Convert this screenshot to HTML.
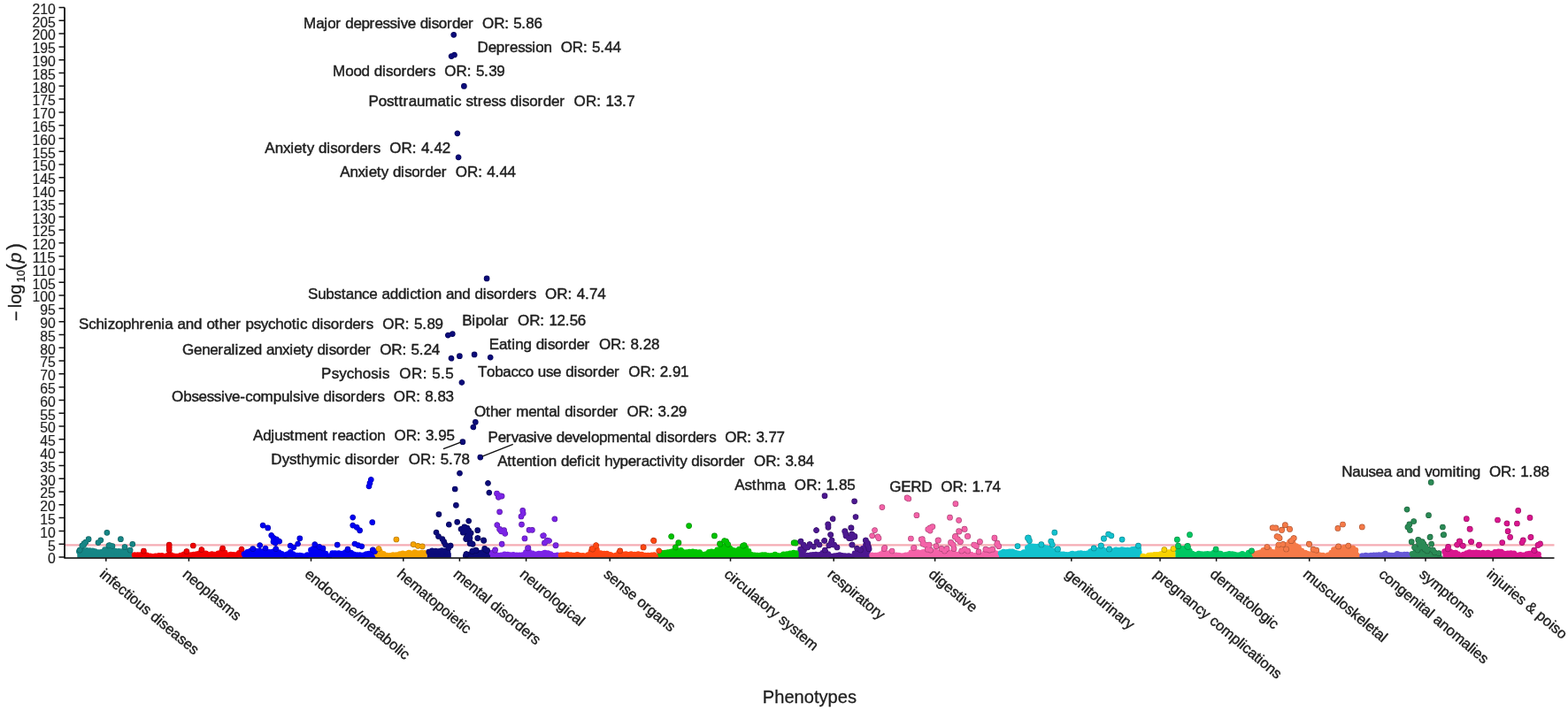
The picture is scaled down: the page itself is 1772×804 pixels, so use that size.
<!DOCTYPE html>
<html><head><meta charset="utf-8"><title>PheWAS Manhattan plot</title>
<style>html,body{margin:0;padding:0;background:#fff;}svg{display:block;}text{font-family:"Liberation Sans",Arial,sans-serif;}</style></head><body>
<svg width="1772" height="804" viewBox="0 0 1772 804">
<rect width="1772" height="804" fill="#fff"/>
<defs><clipPath id="pc"><rect x="73" y="0" width="1690" height="630.6"/></clipPath><clipPath id="rc"><rect x="0" y="0" width="1772" height="804"/></clipPath><clipPath id="ic" clipPathUnits="userSpaceOnUse"><rect x="-10" y="-25" width="122.7" height="40"/></clipPath></defs>
<line x1="73.0" y1="616.3" x2="1756.5" y2="616.3" stroke="#f5acb4" stroke-width="2.2"/>
<g clip-path="url(#pc)">
<polygon fill="#168686" points="87.3,631.0 87.3,624.9 88.3,624.3 89.3,623.7 90.3,623.3 91.3,623.0 92.3,622.8 93.3,622.5 94.3,622.4 95.3,622.5 96.3,622.6 97.3,622.8 98.3,622.9 99.3,622.9 100.3,623.0 101.3,623.1 102.3,623.2 103.3,623.2 104.3,623.3 105.3,623.3 106.3,623.4 107.3,623.7 108.3,623.9 109.3,624.2 110.3,624.5 111.3,625.0 112.3,625.5 113.3,625.5 114.3,624.3 115.3,623.2 116.3,622.2 117.3,621.9 118.3,621.5 119.3,621.1 120.3,620.8 121.3,620.7 122.3,620.6 123.3,620.4 124.3,620.6 125.3,621.2 126.3,621.9 127.3,622.4 128.3,622.7 129.3,623.0 130.3,623.3 131.3,623.6 132.3,623.8 133.3,623.7 134.3,623.7 135.3,623.6 136.3,623.5 137.3,623.4 138.3,623.4 139.3,623.6 140.3,623.7 141.3,623.9 142.3,624.1 143.3,624.2 144.3,624.5 145.3,624.8 146.3,625.1 147.3,625.5 148.3,626.0 149.3,626.4 150.2,626.9 150.2,631.0"/>
<path fill="#168686" d="M86.0,623.5a3.35,3.35 0 1,0 6.7,0a3.35,3.35 0 1,0 -6.7,0M88.8,623.0a3.35,3.35 0 1,0 6.7,0a3.35,3.35 0 1,0 -6.7,0M91.5,622.5a3.35,3.35 0 1,0 6.7,0a3.35,3.35 0 1,0 -6.7,0M94.7,622.3a3.35,3.35 0 1,0 6.7,0a3.35,3.35 0 1,0 -6.7,0M98.1,622.6a3.35,3.35 0 1,0 6.7,0a3.35,3.35 0 1,0 -6.7,0M101.4,622.8a3.35,3.35 0 1,0 6.7,0a3.35,3.35 0 1,0 -6.7,0M104.2,623.6a3.35,3.35 0 1,0 6.7,0a3.35,3.35 0 1,0 -6.7,0M108.1,624.6a3.35,3.35 0 1,0 6.7,0a3.35,3.35 0 1,0 -6.7,0M111.0,624.4a3.35,3.35 0 1,0 6.7,0a3.35,3.35 0 1,0 -6.7,0M115.1,621.5a3.35,3.35 0 1,0 6.7,0a3.35,3.35 0 1,0 -6.7,0M118.4,621.2a3.35,3.35 0 1,0 6.7,0a3.35,3.35 0 1,0 -6.7,0M121.1,621.1a3.35,3.35 0 1,0 6.7,0a3.35,3.35 0 1,0 -6.7,0M124.1,622.1a3.35,3.35 0 1,0 6.7,0a3.35,3.35 0 1,0 -6.7,0M126.9,623.1a3.35,3.35 0 1,0 6.7,0a3.35,3.35 0 1,0 -6.7,0M130.8,623.3a3.35,3.35 0 1,0 6.7,0a3.35,3.35 0 1,0 -6.7,0M134.3,623.5a3.35,3.35 0 1,0 6.7,0a3.35,3.35 0 1,0 -6.7,0M137.5,623.9a3.35,3.35 0 1,0 6.7,0a3.35,3.35 0 1,0 -6.7,0M140.2,623.8a3.35,3.35 0 1,0 6.7,0a3.35,3.35 0 1,0 -6.7,0M143.2,625.4a3.35,3.35 0 1,0 6.7,0a3.35,3.35 0 1,0 -6.7,0"/>
<polygon fill="#f20000" points="150.0,631.0 150.0,627.9 151.0,627.9 152.0,627.9 153.0,627.9 154.0,627.9 155.0,627.9 156.0,627.7 157.0,627.5 158.0,627.3 159.0,627.2 160.0,627.0 161.0,626.8 162.0,626.6 163.0,626.9 164.0,627.2 165.0,627.5 166.0,627.8 167.0,628.1 168.0,628.4 169.0,628.4 170.0,628.5 171.0,628.6 172.0,628.6 173.0,628.7 174.0,628.8 175.0,628.9 176.0,628.9 177.0,628.9 178.0,628.9 179.0,628.9 180.0,628.9 181.0,628.9 182.0,628.9 183.0,628.9 184.0,628.9 185.0,628.9 186.0,628.9 187.0,628.9 188.0,628.9 189.0,628.1 190.0,627.4 191.0,627.4 192.0,627.4 193.0,627.4 194.0,627.9 195.0,628.4 196.0,628.9 197.0,628.8 198.0,628.8 199.0,628.8 200.0,628.7 201.0,628.7 202.0,628.6 203.0,628.4 204.0,628.2 205.0,628.0 206.0,627.8 207.0,627.6 208.0,627.4 209.0,627.2 210.0,627.0 211.0,626.9 212.0,627.0 213.0,627.1 214.0,627.1 215.0,627.2 216.0,627.4 217.0,627.4 218.0,627.4 219.0,627.4 220.0,627.4 221.0,627.4 222.0,627.4 223.0,627.0 224.0,626.6 225.0,626.2 226.0,625.9 227.0,625.5 228.0,625.1 229.0,625.4 230.0,625.7 231.0,626.0 232.0,626.2 233.0,626.5 234.0,626.8 235.0,627.1 236.0,627.4 237.0,627.3 238.0,627.2 239.0,627.2 240.0,627.1 241.0,627.0 242.0,627.0 243.0,626.9 244.0,626.9 245.0,626.4 246.0,625.9 247.0,625.4 248.0,624.9 249.0,624.4 250.0,623.9 251.0,623.4 252.0,623.9 253.0,624.5 254.0,625.1 255.0,625.6 256.0,626.2 257.0,626.8 258.0,627.4 259.0,627.4 260.0,627.5 261.0,627.5 262.0,627.6 263.0,627.7 264.0,627.7 265.0,627.8 266.0,627.9 267.0,627.4 268.0,627.0 269.0,626.6 270.0,626.1 271.0,625.7 272.0,625.3 273.0,624.9 274.0,625.2 274.5,625.4 274.5,631.0"/>
<path fill="#f20000" d="M148.7,627.6a3.35,3.35 0 1,0 6.7,0a3.35,3.35 0 1,0 -6.7,0M152.2,627.7a3.35,3.35 0 1,0 6.7,0a3.35,3.35 0 1,0 -6.7,0M155.3,627.6a3.35,3.35 0 1,0 6.7,0a3.35,3.35 0 1,0 -6.7,0M159.0,626.4a3.35,3.35 0 1,0 6.7,0a3.35,3.35 0 1,0 -6.7,0M162.5,627.8a3.35,3.35 0 1,0 6.7,0a3.35,3.35 0 1,0 -6.7,0M166.5,628.8a3.35,3.35 0 1,0 6.7,0a3.35,3.35 0 1,0 -6.7,0M169.6,629.3a3.35,3.35 0 1,0 6.7,0a3.35,3.35 0 1,0 -6.7,0M172.4,628.8a3.35,3.35 0 1,0 6.7,0a3.35,3.35 0 1,0 -6.7,0M176.2,628.4a3.35,3.35 0 1,0 6.7,0a3.35,3.35 0 1,0 -6.7,0M179.6,628.3a3.35,3.35 0 1,0 6.7,0a3.35,3.35 0 1,0 -6.7,0M183.2,629.2a3.35,3.35 0 1,0 6.7,0a3.35,3.35 0 1,0 -6.7,0M186.7,627.8a3.35,3.35 0 1,0 6.7,0a3.35,3.35 0 1,0 -6.7,0M189.8,627.7a3.35,3.35 0 1,0 6.7,0a3.35,3.35 0 1,0 -6.7,0M193.4,628.9a3.35,3.35 0 1,0 6.7,0a3.35,3.35 0 1,0 -6.7,0M196.7,629.1a3.35,3.35 0 1,0 6.7,0a3.35,3.35 0 1,0 -6.7,0M200.8,628.1a3.35,3.35 0 1,0 6.7,0a3.35,3.35 0 1,0 -6.7,0M204.5,626.9a3.35,3.35 0 1,0 6.7,0a3.35,3.35 0 1,0 -6.7,0M208.2,627.1a3.35,3.35 0 1,0 6.7,0a3.35,3.35 0 1,0 -6.7,0M212.4,627.7a3.35,3.35 0 1,0 6.7,0a3.35,3.35 0 1,0 -6.7,0M215.5,627.2a3.35,3.35 0 1,0 6.7,0a3.35,3.35 0 1,0 -6.7,0M219.1,626.6a3.35,3.35 0 1,0 6.7,0a3.35,3.35 0 1,0 -6.7,0M222.5,625.5a3.35,3.35 0 1,0 6.7,0a3.35,3.35 0 1,0 -6.7,0M225.3,624.8a3.35,3.35 0 1,0 6.7,0a3.35,3.35 0 1,0 -6.7,0M229.1,625.9a3.35,3.35 0 1,0 6.7,0a3.35,3.35 0 1,0 -6.7,0M232.1,627.1a3.35,3.35 0 1,0 6.7,0a3.35,3.35 0 1,0 -6.7,0M236.1,626.6a3.35,3.35 0 1,0 6.7,0a3.35,3.35 0 1,0 -6.7,0M239.4,627.0a3.35,3.35 0 1,0 6.7,0a3.35,3.35 0 1,0 -6.7,0M243.4,625.9a3.35,3.35 0 1,0 6.7,0a3.35,3.35 0 1,0 -6.7,0M247.4,623.2a3.35,3.35 0 1,0 6.7,0a3.35,3.35 0 1,0 -6.7,0M250.7,624.9a3.35,3.35 0 1,0 6.7,0a3.35,3.35 0 1,0 -6.7,0M254.7,627.9a3.35,3.35 0 1,0 6.7,0a3.35,3.35 0 1,0 -6.7,0M257.5,627.1a3.35,3.35 0 1,0 6.7,0a3.35,3.35 0 1,0 -6.7,0M260.5,627.4a3.35,3.35 0 1,0 6.7,0a3.35,3.35 0 1,0 -6.7,0M263.9,627.4a3.35,3.35 0 1,0 6.7,0a3.35,3.35 0 1,0 -6.7,0M266.9,625.4a3.35,3.35 0 1,0 6.7,0a3.35,3.35 0 1,0 -6.7,0"/>
<polygon fill="#0000f2" points="274.0,631.0 274.0,627.9 275.0,627.1 276.0,626.4 277.0,625.6 278.0,624.9 279.0,624.1 280.0,623.4 281.0,623.2 282.0,623.1 283.0,623.0 284.0,622.9 285.0,622.8 286.0,622.6 287.0,622.6 288.0,622.5 289.0,622.5 290.0,622.5 291.0,622.4 292.0,622.4 293.0,622.6 294.0,622.9 295.0,623.1 296.0,623.4 297.0,623.7 298.0,624.1 299.0,624.5 300.0,624.9 301.0,624.9 302.0,624.9 303.0,624.9 304.0,624.9 305.0,624.9 306.0,624.9 307.0,624.6 308.0,624.4 309.0,624.1 310.0,623.9 311.0,623.6 312.0,623.4 313.0,623.9 314.0,624.5 315.0,625.1 316.0,625.7 317.0,626.3 318.0,626.9 319.0,627.0 320.0,627.2 321.0,627.4 322.0,627.5 323.0,627.7 324.0,627.9 325.0,627.0 326.0,626.1 327.0,625.2 328.0,624.4 329.0,624.9 330.0,625.5 331.0,626.1 332.0,626.7 333.0,627.3 334.0,627.9 335.0,628.0 336.0,628.2 337.0,628.4 338.0,628.5 339.0,628.7 340.0,628.9 341.0,628.9 342.0,628.9 343.0,628.9 344.0,628.9 345.0,628.9 346.0,628.9 347.0,628.9 348.0,627.0 349.0,625.2 350.0,623.4 351.0,622.4 352.0,621.4 353.0,620.4 354.0,620.2 355.0,620.1 356.0,620.1 357.0,620.0 358.0,619.9 359.0,620.2 360.0,620.5 361.0,620.9 362.0,621.2 363.0,621.5 364.0,621.9 365.0,623.0 366.0,624.1 367.0,625.2 368.0,626.4 369.0,627.2 370.0,628.1 371.0,628.9 372.0,628.9 373.0,627.9 374.0,626.9 375.0,625.9 376.0,625.6 377.0,625.5 378.0,625.2 379.0,625.1 380.0,624.9 381.0,625.0 382.0,625.2 383.0,625.4 384.0,625.5 385.0,625.7 386.0,625.9 387.0,625.6 388.0,625.4 389.0,625.1 390.0,624.9 391.0,624.9 392.0,624.9 393.0,624.9 394.0,624.9 395.0,624.9 396.0,625.4 397.0,625.9 398.0,626.4 399.0,626.9 400.0,627.4 401.0,627.2 402.0,627.1 403.0,627.1 404.0,627.0 405.0,626.9 406.0,626.9 407.0,627.0 408.0,627.1 409.0,627.1 410.0,627.2 411.0,627.3 412.0,627.4 413.0,627.2 414.0,627.0 415.0,626.9 416.0,626.7 417.0,626.5 418.0,626.4 419.0,626.0 420.0,625.6 421.0,625.2 422.0,624.9 423.0,625.7 424.0,626.5 425.0,627.4 425.0,627.4 425.0,631.0"/>
<path fill="#0000f2" d="M272.7,626.2a3.35,3.35 0 1,0 6.7,0a3.35,3.35 0 1,0 -6.7,0M276.2,624.3a3.35,3.35 0 1,0 6.7,0a3.35,3.35 0 1,0 -6.7,0M279.9,623.0a3.35,3.35 0 1,0 6.7,0a3.35,3.35 0 1,0 -6.7,0M283.5,622.8a3.35,3.35 0 1,0 6.7,0a3.35,3.35 0 1,0 -6.7,0M286.1,623.0a3.35,3.35 0 1,0 6.7,0a3.35,3.35 0 1,0 -6.7,0M290.0,623.1a3.35,3.35 0 1,0 6.7,0a3.35,3.35 0 1,0 -6.7,0M293.9,623.7a3.35,3.35 0 1,0 6.7,0a3.35,3.35 0 1,0 -6.7,0M297.1,624.4a3.35,3.35 0 1,0 6.7,0a3.35,3.35 0 1,0 -6.7,0M300.7,624.3a3.35,3.35 0 1,0 6.7,0a3.35,3.35 0 1,0 -6.7,0M303.4,624.3a3.35,3.35 0 1,0 6.7,0a3.35,3.35 0 1,0 -6.7,0M306.3,623.7a3.35,3.35 0 1,0 6.7,0a3.35,3.35 0 1,0 -6.7,0M309.0,622.9a3.35,3.35 0 1,0 6.7,0a3.35,3.35 0 1,0 -6.7,0M311.8,624.7a3.35,3.35 0 1,0 6.7,0a3.35,3.35 0 1,0 -6.7,0M315.0,626.3a3.35,3.35 0 1,0 6.7,0a3.35,3.35 0 1,0 -6.7,0M319.0,627.7a3.35,3.35 0 1,0 6.7,0a3.35,3.35 0 1,0 -6.7,0M321.8,626.5a3.35,3.35 0 1,0 6.7,0a3.35,3.35 0 1,0 -6.7,0M325.0,624.4a3.35,3.35 0 1,0 6.7,0a3.35,3.35 0 1,0 -6.7,0M327.8,626.6a3.35,3.35 0 1,0 6.7,0a3.35,3.35 0 1,0 -6.7,0M332.0,628.0a3.35,3.35 0 1,0 6.7,0a3.35,3.35 0 1,0 -6.7,0M335.4,628.1a3.35,3.35 0 1,0 6.7,0a3.35,3.35 0 1,0 -6.7,0M338.1,628.7a3.35,3.35 0 1,0 6.7,0a3.35,3.35 0 1,0 -6.7,0M341.1,629.2a3.35,3.35 0 1,0 6.7,0a3.35,3.35 0 1,0 -6.7,0M344.0,627.6a3.35,3.35 0 1,0 6.7,0a3.35,3.35 0 1,0 -6.7,0M348.1,621.9a3.35,3.35 0 1,0 6.7,0a3.35,3.35 0 1,0 -6.7,0M351.0,620.3a3.35,3.35 0 1,0 6.7,0a3.35,3.35 0 1,0 -6.7,0M353.6,620.0a3.35,3.35 0 1,0 6.7,0a3.35,3.35 0 1,0 -6.7,0M357.8,621.3a3.35,3.35 0 1,0 6.7,0a3.35,3.35 0 1,0 -6.7,0M361.5,622.5a3.35,3.35 0 1,0 6.7,0a3.35,3.35 0 1,0 -6.7,0M364.7,626.0a3.35,3.35 0 1,0 6.7,0a3.35,3.35 0 1,0 -6.7,0M368.5,629.0a3.35,3.35 0 1,0 6.7,0a3.35,3.35 0 1,0 -6.7,0M372.3,625.5a3.35,3.35 0 1,0 6.7,0a3.35,3.35 0 1,0 -6.7,0M375.3,625.5a3.35,3.35 0 1,0 6.7,0a3.35,3.35 0 1,0 -6.7,0M379.5,625.7a3.35,3.35 0 1,0 6.7,0a3.35,3.35 0 1,0 -6.7,0M383.4,626.1a3.35,3.35 0 1,0 6.7,0a3.35,3.35 0 1,0 -6.7,0M387.1,624.5a3.35,3.35 0 1,0 6.7,0a3.35,3.35 0 1,0 -6.7,0M390.6,624.7a3.35,3.35 0 1,0 6.7,0a3.35,3.35 0 1,0 -6.7,0M393.2,625.1a3.35,3.35 0 1,0 6.7,0a3.35,3.35 0 1,0 -6.7,0M396.3,626.9a3.35,3.35 0 1,0 6.7,0a3.35,3.35 0 1,0 -6.7,0M400.0,627.6a3.35,3.35 0 1,0 6.7,0a3.35,3.35 0 1,0 -6.7,0M403.3,627.5a3.35,3.35 0 1,0 6.7,0a3.35,3.35 0 1,0 -6.7,0M407.5,627.8a3.35,3.35 0 1,0 6.7,0a3.35,3.35 0 1,0 -6.7,0M410.7,626.7a3.35,3.35 0 1,0 6.7,0a3.35,3.35 0 1,0 -6.7,0M413.6,626.2a3.35,3.35 0 1,0 6.7,0a3.35,3.35 0 1,0 -6.7,0M416.5,625.8a3.35,3.35 0 1,0 6.7,0a3.35,3.35 0 1,0 -6.7,0"/>
<polygon fill="#f5a300" points="424.0,631.0 424.0,628.4 425.0,627.0 426.0,625.7 427.0,624.4 428.0,624.0 429.0,623.7 430.0,623.4 431.0,624.5 432.0,625.7 433.0,626.9 434.0,627.0 435.0,627.2 436.0,627.4 437.0,627.5 438.0,627.7 439.0,627.9 440.0,628.1 441.0,628.1 442.0,628.1 443.0,628.1 444.0,628.1 445.0,628.1 446.0,628.1 447.0,628.1 448.0,627.7 449.0,627.3 450.0,626.9 451.0,626.5 452.0,626.1 453.0,626.1 454.0,626.1 455.0,626.1 456.0,626.1 457.0,626.1 458.0,626.1 459.0,626.1 460.0,626.1 461.0,625.9 462.0,625.7 463.0,625.5 464.0,625.4 465.0,625.3 466.0,625.2 467.0,625.1 468.0,625.0 469.0,624.9 470.0,624.9 471.0,624.9 472.0,625.0 473.0,625.1 474.0,625.2 475.0,625.3 476.0,625.4 477.0,625.5 478.0,625.6 479.0,625.7 480.0,625.9 481.0,626.5 482.0,627.1 482.5,627.4 482.5,631.0"/>
<path fill="#f5a300" d="M422.7,626.1a3.35,3.35 0 1,0 6.7,0a3.35,3.35 0 1,0 -6.7,0M426.0,623.7a3.35,3.35 0 1,0 6.7,0a3.35,3.35 0 1,0 -6.7,0M429.9,626.4a3.35,3.35 0 1,0 6.7,0a3.35,3.35 0 1,0 -6.7,0M433.6,628.0a3.35,3.35 0 1,0 6.7,0a3.35,3.35 0 1,0 -6.7,0M437.4,628.4a3.35,3.35 0 1,0 6.7,0a3.35,3.35 0 1,0 -6.7,0M440.8,627.7a3.35,3.35 0 1,0 6.7,0a3.35,3.35 0 1,0 -6.7,0M444.6,627.5a3.35,3.35 0 1,0 6.7,0a3.35,3.35 0 1,0 -6.7,0M448.5,626.7a3.35,3.35 0 1,0 6.7,0a3.35,3.35 0 1,0 -6.7,0M451.8,625.9a3.35,3.35 0 1,0 6.7,0a3.35,3.35 0 1,0 -6.7,0M455.9,626.3a3.35,3.35 0 1,0 6.7,0a3.35,3.35 0 1,0 -6.7,0M458.7,625.2a3.35,3.35 0 1,0 6.7,0a3.35,3.35 0 1,0 -6.7,0M461.6,625.8a3.35,3.35 0 1,0 6.7,0a3.35,3.35 0 1,0 -6.7,0M465.5,624.5a3.35,3.35 0 1,0 6.7,0a3.35,3.35 0 1,0 -6.7,0M469.4,625.7a3.35,3.35 0 1,0 6.7,0a3.35,3.35 0 1,0 -6.7,0M473.1,625.2a3.35,3.35 0 1,0 6.7,0a3.35,3.35 0 1,0 -6.7,0M476.5,625.4a3.35,3.35 0 1,0 6.7,0a3.35,3.35 0 1,0 -6.7,0"/>
<polygon fill="#0b0b7a" points="482.7,631.0 482.7,624.4 483.7,623.9 484.7,623.4 485.7,623.0 486.7,622.8 487.7,622.8 488.7,622.8 489.7,622.8 490.7,622.9 491.7,623.0 492.7,623.2 493.7,623.3 494.7,623.3 495.7,623.1 496.7,623.0 497.7,622.9 498.7,622.9 499.7,623.1 500.7,623.2 501.7,623.3 502.7,623.5 503.7,623.8 504.7,624.0 505.7,624.3 506.7,624.5 507.7,624.8 508.7,625.1 509.7,625.3 509.8,625.4 509.8,631.0"/>
<path fill="#0b0b7a" d="M481.4,624.0a3.35,3.35 0 1,0 6.7,0a3.35,3.35 0 1,0 -6.7,0M485.0,622.8a3.35,3.35 0 1,0 6.7,0a3.35,3.35 0 1,0 -6.7,0M489.1,623.0a3.35,3.35 0 1,0 6.7,0a3.35,3.35 0 1,0 -6.7,0M493.1,623.4a3.35,3.35 0 1,0 6.7,0a3.35,3.35 0 1,0 -6.7,0M496.0,622.7a3.35,3.35 0 1,0 6.7,0a3.35,3.35 0 1,0 -6.7,0M499.1,623.1a3.35,3.35 0 1,0 6.7,0a3.35,3.35 0 1,0 -6.7,0M502.6,624.1a3.35,3.35 0 1,0 6.7,0a3.35,3.35 0 1,0 -6.7,0"/>
<polygon fill="#0b0b7a" points="524.2,631.0 524.2,630.4 525.2,629.8 526.2,629.3 527.2,628.8 528.2,628.2 529.2,627.8 530.2,627.2 531.2,626.8 532.2,626.3 533.2,626.1 534.2,625.8 535.2,625.6 536.2,625.4 537.2,625.5 538.2,625.6 539.2,625.8 540.2,625.8 541.2,625.6 542.2,625.3 543.2,625.1 544.2,624.8 545.2,624.5 546.2,624.2 547.2,623.9 548.2,623.7 549.2,624.2 550.2,624.6 551.2,625.0 552.2,625.5 553.2,626.0 554.0,626.4 554.0,631.0"/>
<path fill="#0b0b7a" d="M522.9,628.8a3.35,3.35 0 1,0 6.7,0a3.35,3.35 0 1,0 -6.7,0M526.9,627.0a3.35,3.35 0 1,0 6.7,0a3.35,3.35 0 1,0 -6.7,0M530.2,626.1a3.35,3.35 0 1,0 6.7,0a3.35,3.35 0 1,0 -6.7,0M534.3,625.5a3.35,3.35 0 1,0 6.7,0a3.35,3.35 0 1,0 -6.7,0M538.4,625.4a3.35,3.35 0 1,0 6.7,0a3.35,3.35 0 1,0 -6.7,0M541.8,624.5a3.35,3.35 0 1,0 6.7,0a3.35,3.35 0 1,0 -6.7,0M544.4,623.6a3.35,3.35 0 1,0 6.7,0a3.35,3.35 0 1,0 -6.7,0M547.3,624.2a3.35,3.35 0 1,0 6.7,0a3.35,3.35 0 1,0 -6.7,0"/>
<polygon fill="#7b24e6" points="554.0,631.0 554.0,625.9 555.0,625.7 556.0,625.6 557.0,625.5 558.0,625.4 559.0,626.0 560.0,626.6 561.0,627.2 562.0,627.8 563.0,628.4 564.0,629.1 565.0,628.5 566.0,627.9 567.0,627.4 568.0,627.4 569.0,627.4 570.0,627.4 571.0,627.4 572.0,627.4 573.0,627.4 574.0,627.4 575.0,627.3 576.0,627.3 577.0,627.3 578.0,627.3 579.0,627.3 580.0,627.2 581.0,627.3 582.0,627.3 583.0,627.3 584.0,627.3 585.0,627.3 586.0,627.4 587.0,627.6 588.0,627.9 589.0,628.1 590.0,628.4 591.0,627.4 592.0,626.4 593.0,625.4 594.0,624.7 595.0,624.1 596.0,623.5 597.0,623.5 598.0,624.1 599.0,624.7 600.0,625.4 601.0,625.5 602.0,625.7 603.0,625.9 604.0,626.0 605.0,626.2 606.0,626.4 607.0,626.2 608.0,626.1 609.0,626.1 610.0,626.0 611.0,625.9 612.0,625.7 613.0,625.6 614.0,625.5 615.0,625.4 616.0,625.6 617.0,625.8 618.0,626.0 619.0,626.1 620.0,626.4 621.0,626.6 622.0,627.0 623.0,627.2 624.0,627.5 625.0,627.9 626.0,628.1 627.0,628.2 628.0,628.2 629.0,628.2 630.0,628.3 631.0,628.3 632.0,628.3 633.0,628.3 633.5,628.4 633.5,631.0"/>
<path fill="#7b24e6" d="M552.7,625.2a3.35,3.35 0 1,0 6.7,0a3.35,3.35 0 1,0 -6.7,0M556.0,626.4a3.35,3.35 0 1,0 6.7,0a3.35,3.35 0 1,0 -6.7,0M559.5,628.1a3.35,3.35 0 1,0 6.7,0a3.35,3.35 0 1,0 -6.7,0M562.9,627.8a3.35,3.35 0 1,0 6.7,0a3.35,3.35 0 1,0 -6.7,0M566.8,626.9a3.35,3.35 0 1,0 6.7,0a3.35,3.35 0 1,0 -6.7,0M570.3,627.0a3.35,3.35 0 1,0 6.7,0a3.35,3.35 0 1,0 -6.7,0M573.3,627.6a3.35,3.35 0 1,0 6.7,0a3.35,3.35 0 1,0 -6.7,0M576.7,627.3a3.35,3.35 0 1,0 6.7,0a3.35,3.35 0 1,0 -6.7,0M580.6,627.8a3.35,3.35 0 1,0 6.7,0a3.35,3.35 0 1,0 -6.7,0M583.9,627.8a3.35,3.35 0 1,0 6.7,0a3.35,3.35 0 1,0 -6.7,0M587.3,627.7a3.35,3.35 0 1,0 6.7,0a3.35,3.35 0 1,0 -6.7,0M591.0,624.5a3.35,3.35 0 1,0 6.7,0a3.35,3.35 0 1,0 -6.7,0M594.4,623.9a3.35,3.35 0 1,0 6.7,0a3.35,3.35 0 1,0 -6.7,0M598.5,625.9a3.35,3.35 0 1,0 6.7,0a3.35,3.35 0 1,0 -6.7,0M602.5,626.9a3.35,3.35 0 1,0 6.7,0a3.35,3.35 0 1,0 -6.7,0M605.6,626.1a3.35,3.35 0 1,0 6.7,0a3.35,3.35 0 1,0 -6.7,0M609.7,626.0a3.35,3.35 0 1,0 6.7,0a3.35,3.35 0 1,0 -6.7,0M612.5,625.1a3.35,3.35 0 1,0 6.7,0a3.35,3.35 0 1,0 -6.7,0M615.8,625.7a3.35,3.35 0 1,0 6.7,0a3.35,3.35 0 1,0 -6.7,0M618.8,626.5a3.35,3.35 0 1,0 6.7,0a3.35,3.35 0 1,0 -6.7,0M622.5,628.4a3.35,3.35 0 1,0 6.7,0a3.35,3.35 0 1,0 -6.7,0M626.5,627.8a3.35,3.35 0 1,0 6.7,0a3.35,3.35 0 1,0 -6.7,0"/>
<polygon fill="#ff4612" points="632.0,631.0 632.0,627.9 633.0,627.8 634.0,627.7 635.0,627.6 636.0,627.5 637.0,627.4 638.0,627.4 639.0,627.3 640.0,627.2 641.0,627.2 642.0,627.1 643.0,627.3 644.0,627.5 645.0,627.7 646.0,627.9 647.0,627.8 648.0,627.6 649.0,627.6 650.0,627.5 651.0,627.4 652.0,627.6 653.0,627.8 654.0,628.0 655.0,628.2 656.0,628.4 657.0,628.5 658.0,628.6 659.0,628.7 660.0,628.9 661.0,628.6 662.0,628.2 663.0,628.0 664.0,627.6 665.0,627.4 666.0,626.4 667.0,625.4 668.0,624.4 669.0,623.6 670.0,623.0 671.0,622.2 672.0,621.6 673.0,620.9 674.0,621.7 675.0,622.5 676.0,623.4 677.0,624.1 678.0,624.9 679.0,625.6 680.0,626.4 681.0,626.4 682.0,626.5 683.0,626.5 684.0,626.6 685.0,626.7 686.0,626.7 687.0,626.8 688.0,626.9 689.0,627.4 690.0,627.9 691.0,628.4 692.0,628.9 693.0,628.6 694.0,628.4 695.0,628.1 696.0,627.9 697.0,627.2 698.0,626.6 699.0,626.0 700.0,625.4 701.0,625.7 702.0,626.1 703.0,626.5 704.0,626.9 705.0,626.9 706.0,626.9 707.0,627.0 708.0,627.0 709.0,627.0 710.0,627.1 711.0,627.1 712.0,627.1 713.0,627.1 714.0,627.0 715.0,627.0 716.0,627.0 717.0,626.9 718.0,626.9 719.0,627.0 720.0,627.1 721.0,627.1 722.0,627.2 723.0,627.4 724.0,627.5 725.0,627.6 726.0,627.7 727.0,627.8 728.0,627.9 729.0,628.0 730.0,628.1 731.0,628.1 732.0,628.1 733.0,628.1 734.0,628.1 735.0,628.1 736.0,628.1 737.0,627.9 738.0,627.8 739.0,627.6 740.0,627.4 741.0,627.0 742.0,626.6 743.0,626.2 744.0,625.9 744.0,625.9 744.0,631.0"/>
<path fill="#ff4612" d="M630.7,627.9a3.35,3.35 0 1,0 6.7,0a3.35,3.35 0 1,0 -6.7,0M633.5,627.9a3.35,3.35 0 1,0 6.7,0a3.35,3.35 0 1,0 -6.7,0M637.6,626.9a3.35,3.35 0 1,0 6.7,0a3.35,3.35 0 1,0 -6.7,0M641.8,627.6a3.35,3.35 0 1,0 6.7,0a3.35,3.35 0 1,0 -6.7,0M645.1,628.2a3.35,3.35 0 1,0 6.7,0a3.35,3.35 0 1,0 -6.7,0M649.1,627.3a3.35,3.35 0 1,0 6.7,0a3.35,3.35 0 1,0 -6.7,0M652.4,628.4a3.35,3.35 0 1,0 6.7,0a3.35,3.35 0 1,0 -6.7,0M655.5,628.4a3.35,3.35 0 1,0 6.7,0a3.35,3.35 0 1,0 -6.7,0M658.6,628.5a3.35,3.35 0 1,0 6.7,0a3.35,3.35 0 1,0 -6.7,0M661.2,627.5a3.35,3.35 0 1,0 6.7,0a3.35,3.35 0 1,0 -6.7,0M664.6,623.9a3.35,3.35 0 1,0 6.7,0a3.35,3.35 0 1,0 -6.7,0M667.7,622.4a3.35,3.35 0 1,0 6.7,0a3.35,3.35 0 1,0 -6.7,0M671.1,621.5a3.35,3.35 0 1,0 6.7,0a3.35,3.35 0 1,0 -6.7,0M675.3,625.7a3.35,3.35 0 1,0 6.7,0a3.35,3.35 0 1,0 -6.7,0M679.4,626.0a3.35,3.35 0 1,0 6.7,0a3.35,3.35 0 1,0 -6.7,0M682.5,626.2a3.35,3.35 0 1,0 6.7,0a3.35,3.35 0 1,0 -6.7,0M686.3,627.4a3.35,3.35 0 1,0 6.7,0a3.35,3.35 0 1,0 -6.7,0M689.1,628.6a3.35,3.35 0 1,0 6.7,0a3.35,3.35 0 1,0 -6.7,0M693.2,627.9a3.35,3.35 0 1,0 6.7,0a3.35,3.35 0 1,0 -6.7,0M696.2,625.2a3.35,3.35 0 1,0 6.7,0a3.35,3.35 0 1,0 -6.7,0M700.3,626.8a3.35,3.35 0 1,0 6.7,0a3.35,3.35 0 1,0 -6.7,0M704.0,626.5a3.35,3.35 0 1,0 6.7,0a3.35,3.35 0 1,0 -6.7,0M706.7,627.3a3.35,3.35 0 1,0 6.7,0a3.35,3.35 0 1,0 -6.7,0M709.9,626.6a3.35,3.35 0 1,0 6.7,0a3.35,3.35 0 1,0 -6.7,0M714.0,627.0a3.35,3.35 0 1,0 6.7,0a3.35,3.35 0 1,0 -6.7,0M717.9,626.7a3.35,3.35 0 1,0 6.7,0a3.35,3.35 0 1,0 -6.7,0M721.9,627.1a3.35,3.35 0 1,0 6.7,0a3.35,3.35 0 1,0 -6.7,0M725.9,628.0a3.35,3.35 0 1,0 6.7,0a3.35,3.35 0 1,0 -6.7,0M729.0,628.2a3.35,3.35 0 1,0 6.7,0a3.35,3.35 0 1,0 -6.7,0M733.1,627.8a3.35,3.35 0 1,0 6.7,0a3.35,3.35 0 1,0 -6.7,0M735.9,627.5a3.35,3.35 0 1,0 6.7,0a3.35,3.35 0 1,0 -6.7,0"/>
<polygon fill="#00c400" points="744.0,631.0 744.0,626.1 745.0,626.1 746.0,626.0 747.0,626.0 748.0,626.0 749.0,625.9 750.0,625.9 751.0,625.6 752.0,625.2 753.0,625.0 754.0,624.6 755.0,624.4 756.0,624.2 757.0,624.1 758.0,624.1 759.0,624.0 760.0,623.9 761.0,623.5 762.0,623.1 763.0,622.7 764.0,622.4 765.0,622.4 766.0,622.5 767.0,622.6 768.0,622.7 769.0,622.8 770.0,622.9 771.0,623.2 772.0,623.6 773.0,624.0 774.0,624.4 775.0,624.3 776.0,624.2 777.0,624.2 778.0,624.1 779.0,624.0 780.0,624.0 781.0,623.9 782.0,623.9 783.0,623.9 784.0,624.0 785.0,624.0 786.0,624.1 787.0,624.2 788.0,624.2 789.0,624.3 790.0,624.4 791.0,625.0 792.0,625.6 793.0,626.2 794.0,626.9 795.0,626.9 796.0,626.9 797.0,626.9 798.0,626.9 799.0,626.2 800.0,625.6 801.0,625.0 802.0,624.4 803.0,624.4 804.0,624.4 805.0,624.4 806.0,624.4 807.0,624.4 808.0,624.4 809.0,623.6 810.0,622.9 811.0,622.1 812.0,621.4 813.0,620.7 814.0,620.1 815.0,619.5 816.0,618.9 817.0,618.6 818.0,618.4 819.0,618.1 820.0,617.9 821.0,618.4 822.0,618.9 823.0,619.4 824.0,619.9 825.0,620.5 826.0,621.1 827.0,621.7 828.0,622.4 829.0,622.4 830.0,622.4 831.0,622.4 832.0,622.4 833.0,622.4 834.0,622.4 835.0,621.8 836.0,621.1 837.0,620.6 838.0,620.0 839.0,620.0 840.0,620.1 841.0,620.2 842.0,620.3 843.0,620.4 844.0,621.4 845.0,622.4 846.0,623.4 847.0,624.4 848.0,625.7 849.0,627.0 850.0,628.4 851.0,628.4 852.0,628.5 853.0,628.5 854.0,628.6 855.0,628.7 856.0,628.7 857.0,628.8 858.0,628.9 859.0,628.6 860.0,628.4 861.0,628.1 862.0,627.9 863.0,627.6 864.0,627.4 865.0,627.5 866.0,627.7 867.0,627.9 868.0,628.0 869.0,628.2 870.0,628.4 871.0,628.2 872.0,628.0 873.0,627.9 874.0,627.7 875.0,627.5 876.0,627.4 877.0,627.5 878.0,627.7 879.0,627.9 880.0,628.0 881.0,628.2 882.0,628.4 883.0,628.1 884.0,627.9 885.0,627.6 886.0,627.4 887.0,627.0 888.0,626.6 889.0,626.2 890.0,625.9 891.0,625.8 892.0,625.7 893.0,625.6 894.0,625.5 895.0,625.4 896.0,625.4 897.0,625.4 898.0,625.5 899.0,625.6 900.0,625.7 901.0,625.8 902.0,625.9 903.0,626.2 903.5,626.4 903.5,631.0"/>
<path fill="#00c400" d="M742.7,625.6a3.35,3.35 0 1,0 6.7,0a3.35,3.35 0 1,0 -6.7,0M745.5,625.4a3.35,3.35 0 1,0 6.7,0a3.35,3.35 0 1,0 -6.7,0M748.4,625.1a3.35,3.35 0 1,0 6.7,0a3.35,3.35 0 1,0 -6.7,0M751.5,624.7a3.35,3.35 0 1,0 6.7,0a3.35,3.35 0 1,0 -6.7,0M754.6,624.1a3.35,3.35 0 1,0 6.7,0a3.35,3.35 0 1,0 -6.7,0M757.5,623.4a3.35,3.35 0 1,0 6.7,0a3.35,3.35 0 1,0 -6.7,0M760.1,622.3a3.35,3.35 0 1,0 6.7,0a3.35,3.35 0 1,0 -6.7,0M762.7,622.8a3.35,3.35 0 1,0 6.7,0a3.35,3.35 0 1,0 -6.7,0M766.2,622.4a3.35,3.35 0 1,0 6.7,0a3.35,3.35 0 1,0 -6.7,0M769.6,624.5a3.35,3.35 0 1,0 6.7,0a3.35,3.35 0 1,0 -6.7,0M772.3,624.6a3.35,3.35 0 1,0 6.7,0a3.35,3.35 0 1,0 -6.7,0M775.6,624.0a3.35,3.35 0 1,0 6.7,0a3.35,3.35 0 1,0 -6.7,0M779.6,623.8a3.35,3.35 0 1,0 6.7,0a3.35,3.35 0 1,0 -6.7,0M783.0,624.3a3.35,3.35 0 1,0 6.7,0a3.35,3.35 0 1,0 -6.7,0M787.2,624.5a3.35,3.35 0 1,0 6.7,0a3.35,3.35 0 1,0 -6.7,0M791.1,627.1a3.35,3.35 0 1,0 6.7,0a3.35,3.35 0 1,0 -6.7,0M794.7,626.7a3.35,3.35 0 1,0 6.7,0a3.35,3.35 0 1,0 -6.7,0M797.9,624.3a3.35,3.35 0 1,0 6.7,0a3.35,3.35 0 1,0 -6.7,0M800.7,623.8a3.35,3.35 0 1,0 6.7,0a3.35,3.35 0 1,0 -6.7,0M804.5,624.1a3.35,3.35 0 1,0 6.7,0a3.35,3.35 0 1,0 -6.7,0M807.3,621.9a3.35,3.35 0 1,0 6.7,0a3.35,3.35 0 1,0 -6.7,0M811.3,620.2a3.35,3.35 0 1,0 6.7,0a3.35,3.35 0 1,0 -6.7,0M814.9,618.0a3.35,3.35 0 1,0 6.7,0a3.35,3.35 0 1,0 -6.7,0M817.9,618.2a3.35,3.35 0 1,0 6.7,0a3.35,3.35 0 1,0 -6.7,0M821.3,619.8a3.35,3.35 0 1,0 6.7,0a3.35,3.35 0 1,0 -6.7,0M824.6,622.0a3.35,3.35 0 1,0 6.7,0a3.35,3.35 0 1,0 -6.7,0M828.7,622.9a3.35,3.35 0 1,0 6.7,0a3.35,3.35 0 1,0 -6.7,0M832.2,621.1a3.35,3.35 0 1,0 6.7,0a3.35,3.35 0 1,0 -6.7,0M836.3,619.9a3.35,3.35 0 1,0 6.7,0a3.35,3.35 0 1,0 -6.7,0M839.5,619.7a3.35,3.35 0 1,0 6.7,0a3.35,3.35 0 1,0 -6.7,0M842.7,623.4a3.35,3.35 0 1,0 6.7,0a3.35,3.35 0 1,0 -6.7,0M846.1,627.3a3.35,3.35 0 1,0 6.7,0a3.35,3.35 0 1,0 -6.7,0M849.5,627.9a3.35,3.35 0 1,0 6.7,0a3.35,3.35 0 1,0 -6.7,0M852.5,628.2a3.35,3.35 0 1,0 6.7,0a3.35,3.35 0 1,0 -6.7,0M855.8,628.0a3.35,3.35 0 1,0 6.7,0a3.35,3.35 0 1,0 -6.7,0M858.4,627.7a3.35,3.35 0 1,0 6.7,0a3.35,3.35 0 1,0 -6.7,0M861.4,627.6a3.35,3.35 0 1,0 6.7,0a3.35,3.35 0 1,0 -6.7,0M864.8,628.3a3.35,3.35 0 1,0 6.7,0a3.35,3.35 0 1,0 -6.7,0M868.5,628.3a3.35,3.35 0 1,0 6.7,0a3.35,3.35 0 1,0 -6.7,0M872.5,627.2a3.35,3.35 0 1,0 6.7,0a3.35,3.35 0 1,0 -6.7,0M875.6,628.4a3.35,3.35 0 1,0 6.7,0a3.35,3.35 0 1,0 -6.7,0M878.5,628.6a3.35,3.35 0 1,0 6.7,0a3.35,3.35 0 1,0 -6.7,0M882.1,626.9a3.35,3.35 0 1,0 6.7,0a3.35,3.35 0 1,0 -6.7,0M886.0,626.6a3.35,3.35 0 1,0 6.7,0a3.35,3.35 0 1,0 -6.7,0M889.6,625.9a3.35,3.35 0 1,0 6.7,0a3.35,3.35 0 1,0 -6.7,0M893.5,625.0a3.35,3.35 0 1,0 6.7,0a3.35,3.35 0 1,0 -6.7,0M897.0,625.7a3.35,3.35 0 1,0 6.7,0a3.35,3.35 0 1,0 -6.7,0"/>
<polygon fill="#4c1890" points="902.6,631.0 902.6,621.4 903.6,621.1 904.6,620.8 905.6,620.5 906.6,620.8 907.6,621.4 908.6,622.1 909.6,623.5 910.6,625.3 911.6,627.1 912.6,627.9 913.6,627.9 914.6,627.9 915.6,627.9 916.6,627.9 917.6,627.9 918.6,627.9 919.6,627.9 920.6,627.8 921.6,627.7 922.6,627.6 923.6,627.6 924.6,627.5 925.6,627.4 926.6,627.0 927.6,626.3 928.6,625.6 929.6,625.3 930.6,625.1 931.6,625.0 932.6,624.8 933.6,625.1 934.6,625.6 935.6,626.1 936.6,627.4 937.6,629.2 938.6,629.6 939.6,629.2 940.6,628.9 941.6,628.5 942.6,628.3 943.6,628.3 944.6,628.2 945.6,628.2 946.6,628.1 947.6,628.1 948.6,628.0 949.6,628.0 950.6,628.0 951.6,628.0 952.6,628.1 953.6,628.1 954.6,628.2 955.6,628.2 956.6,628.3 957.6,628.3 958.6,628.6 959.6,629.0 960.6,629.3 961.6,629.7 962.6,629.1 963.6,628.0 964.6,626.8 965.6,625.8 966.6,624.8 967.6,623.8 968.6,623.2 969.6,623.0 970.6,622.7 971.6,622.5 972.6,621.9 973.6,621.1 974.6,620.4 975.6,619.6 976.6,618.5 977.6,617.2 978.6,615.9 979.6,616.0 980.6,617.0 981.6,618.0 982.6,620.0 983.6,622.8 983.8,623.4 983.8,631.0"/>
<path fill="#4c1890" d="M901.3,621.1a3.35,3.35 0 1,0 6.7,0a3.35,3.35 0 1,0 -6.7,0M905.2,622.1a3.35,3.35 0 1,0 6.7,0a3.35,3.35 0 1,0 -6.7,0M909.2,628.1a3.35,3.35 0 1,0 6.7,0a3.35,3.35 0 1,0 -6.7,0M912.9,627.5a3.35,3.35 0 1,0 6.7,0a3.35,3.35 0 1,0 -6.7,0M915.6,627.4a3.35,3.35 0 1,0 6.7,0a3.35,3.35 0 1,0 -6.7,0M918.7,627.2a3.35,3.35 0 1,0 6.7,0a3.35,3.35 0 1,0 -6.7,0M922.7,627.4a3.35,3.35 0 1,0 6.7,0a3.35,3.35 0 1,0 -6.7,0M926.3,625.4a3.35,3.35 0 1,0 6.7,0a3.35,3.35 0 1,0 -6.7,0M930.0,624.9a3.35,3.35 0 1,0 6.7,0a3.35,3.35 0 1,0 -6.7,0M932.6,626.7a3.35,3.35 0 1,0 6.7,0a3.35,3.35 0 1,0 -6.7,0M936.4,629.2a3.35,3.35 0 1,0 6.7,0a3.35,3.35 0 1,0 -6.7,0M939.8,628.5a3.35,3.35 0 1,0 6.7,0a3.35,3.35 0 1,0 -6.7,0M942.5,628.4a3.35,3.35 0 1,0 6.7,0a3.35,3.35 0 1,0 -6.7,0M945.5,627.5a3.35,3.35 0 1,0 6.7,0a3.35,3.35 0 1,0 -6.7,0M948.6,628.3a3.35,3.35 0 1,0 6.7,0a3.35,3.35 0 1,0 -6.7,0M951.5,628.5a3.35,3.35 0 1,0 6.7,0a3.35,3.35 0 1,0 -6.7,0M955.7,628.7a3.35,3.35 0 1,0 6.7,0a3.35,3.35 0 1,0 -6.7,0M958.9,629.6a3.35,3.35 0 1,0 6.7,0a3.35,3.35 0 1,0 -6.7,0M962.6,625.8a3.35,3.35 0 1,0 6.7,0a3.35,3.35 0 1,0 -6.7,0M966.2,623.1a3.35,3.35 0 1,0 6.7,0a3.35,3.35 0 1,0 -6.7,0M968.9,621.8a3.35,3.35 0 1,0 6.7,0a3.35,3.35 0 1,0 -6.7,0M971.9,620.2a3.35,3.35 0 1,0 6.7,0a3.35,3.35 0 1,0 -6.7,0M975.0,616.3a3.35,3.35 0 1,0 6.7,0a3.35,3.35 0 1,0 -6.7,0M977.6,616.8a3.35,3.35 0 1,0 6.7,0a3.35,3.35 0 1,0 -6.7,0"/>
<polygon fill="#f462a8" points="983.5,631.0 983.5,627.4 984.5,627.5 985.5,627.7 986.5,627.8 987.5,628.0 988.5,628.0 989.5,628.0 990.5,628.0 991.5,627.9 992.5,627.9 993.5,627.9 994.5,627.4 995.5,626.6 996.5,625.8 997.5,625.0 998.5,624.2 999.5,624.0 1000.5,624.5 1001.5,625.1 1002.5,625.6 1003.5,625.9 1004.5,626.0 1005.5,626.1 1006.5,626.2 1007.5,626.3 1008.5,626.5 1009.5,626.9 1010.5,627.2 1011.5,627.5 1012.5,627.9 1013.5,628.2 1014.5,628.4 1015.5,628.5 1016.5,628.6 1017.5,628.6 1018.5,628.7 1019.5,628.8 1020.5,628.8 1021.5,628.6 1022.5,628.5 1023.5,628.3 1024.5,628.2 1025.5,628.1 1026.5,627.2 1027.5,626.4 1028.5,625.6 1029.5,624.8 1030.5,624.2 1031.5,624.0 1032.5,623.7 1033.5,623.5 1034.5,623.6 1035.5,624.1 1036.5,624.6 1037.5,625.1 1038.5,625.3 1039.5,625.2 1040.5,625.1 1041.5,625.1 1042.5,625.0 1043.5,624.9 1044.5,624.9 1045.5,625.0 1046.5,625.1 1047.5,625.1 1048.5,625.2 1049.5,625.3 1050.5,625.3 1051.5,625.1 1052.5,624.9 1053.5,624.8 1054.5,624.6 1055.5,624.4 1056.5,624.4 1057.5,624.4 1058.5,624.4 1059.5,624.4 1060.5,624.4 1061.5,624.4 1062.5,624.6 1063.5,625.1 1064.5,625.6 1065.5,626.1 1066.5,626.0 1067.5,625.4 1068.5,624.7 1069.5,624.1 1070.5,624.0 1071.5,624.4 1072.5,624.8 1073.5,625.1 1074.5,625.1 1075.5,624.8 1076.5,624.4 1077.5,624.0 1078.5,624.5 1079.5,625.9 1080.5,627.4 1081.5,627.4 1082.5,627.4 1083.5,627.2 1084.5,626.9 1085.5,626.5 1086.5,626.1 1087.5,625.7 1088.5,625.2 1089.5,624.8 1090.5,624.8 1091.5,625.2 1092.5,625.7 1093.5,626.1 1094.5,626.5 1095.5,626.8 1096.5,627.1 1097.5,627.3 1098.5,627.6 1099.5,627.9 1100.5,628.0 1101.5,627.9 1102.5,627.7 1103.5,627.6 1104.5,627.5 1105.5,627.3 1106.5,627.4 1107.5,627.6 1108.5,627.8 1109.5,628.0 1110.5,627.6 1111.5,626.7 1112.5,625.9 1113.5,625.0 1114.5,624.7 1115.5,624.9 1116.5,625.1 1117.5,625.3 1118.5,625.3 1119.5,625.1 1120.5,624.9 1121.5,624.7 1122.5,624.7 1123.5,624.9 1124.5,625.1 1125.5,625.2 1126.5,625.5 1127.5,625.8 1128.5,626.1 1129.5,626.4 1129.5,626.4 1129.5,631.0"/>
<path fill="#f462a8" d="M982.2,627.9a3.35,3.35 0 1,0 6.7,0a3.35,3.35 0 1,0 -6.7,0M985.9,628.2a3.35,3.35 0 1,0 6.7,0a3.35,3.35 0 1,0 -6.7,0M988.9,627.9a3.35,3.35 0 1,0 6.7,0a3.35,3.35 0 1,0 -6.7,0M992.3,626.5a3.35,3.35 0 1,0 6.7,0a3.35,3.35 0 1,0 -6.7,0M995.1,624.7a3.35,3.35 0 1,0 6.7,0a3.35,3.35 0 1,0 -6.7,0M998.0,625.5a3.35,3.35 0 1,0 6.7,0a3.35,3.35 0 1,0 -6.7,0M1002.1,625.5a3.35,3.35 0 1,0 6.7,0a3.35,3.35 0 1,0 -6.7,0M1005.4,627.0a3.35,3.35 0 1,0 6.7,0a3.35,3.35 0 1,0 -6.7,0M1009.6,627.9a3.35,3.35 0 1,0 6.7,0a3.35,3.35 0 1,0 -6.7,0M1012.6,628.2a3.35,3.35 0 1,0 6.7,0a3.35,3.35 0 1,0 -6.7,0M1016.7,628.5a3.35,3.35 0 1,0 6.7,0a3.35,3.35 0 1,0 -6.7,0M1020.2,627.9a3.35,3.35 0 1,0 6.7,0a3.35,3.35 0 1,0 -6.7,0M1023.7,627.3a3.35,3.35 0 1,0 6.7,0a3.35,3.35 0 1,0 -6.7,0M1026.5,624.9a3.35,3.35 0 1,0 6.7,0a3.35,3.35 0 1,0 -6.7,0M1029.9,624.0a3.35,3.35 0 1,0 6.7,0a3.35,3.35 0 1,0 -6.7,0M1033.6,624.5a3.35,3.35 0 1,0 6.7,0a3.35,3.35 0 1,0 -6.7,0M1037.7,625.1a3.35,3.35 0 1,0 6.7,0a3.35,3.35 0 1,0 -6.7,0M1040.3,624.3a3.35,3.35 0 1,0 6.7,0a3.35,3.35 0 1,0 -6.7,0M1043.7,625.0a3.35,3.35 0 1,0 6.7,0a3.35,3.35 0 1,0 -6.7,0M1046.8,624.9a3.35,3.35 0 1,0 6.7,0a3.35,3.35 0 1,0 -6.7,0M1049.9,624.6a3.35,3.35 0 1,0 6.7,0a3.35,3.35 0 1,0 -6.7,0M1053.9,623.8a3.35,3.35 0 1,0 6.7,0a3.35,3.35 0 1,0 -6.7,0M1057.7,624.8a3.35,3.35 0 1,0 6.7,0a3.35,3.35 0 1,0 -6.7,0M1060.5,625.8a3.35,3.35 0 1,0 6.7,0a3.35,3.35 0 1,0 -6.7,0M1064.2,625.8a3.35,3.35 0 1,0 6.7,0a3.35,3.35 0 1,0 -6.7,0M1067.3,623.8a3.35,3.35 0 1,0 6.7,0a3.35,3.35 0 1,0 -6.7,0M1070.5,625.9a3.35,3.35 0 1,0 6.7,0a3.35,3.35 0 1,0 -6.7,0M1074.0,623.8a3.35,3.35 0 1,0 6.7,0a3.35,3.35 0 1,0 -6.7,0M1077.3,627.1a3.35,3.35 0 1,0 6.7,0a3.35,3.35 0 1,0 -6.7,0M1080.0,626.8a3.35,3.35 0 1,0 6.7,0a3.35,3.35 0 1,0 -6.7,0M1083.9,625.5a3.35,3.35 0 1,0 6.7,0a3.35,3.35 0 1,0 -6.7,0M1088.0,624.9a3.35,3.35 0 1,0 6.7,0a3.35,3.35 0 1,0 -6.7,0M1091.1,626.5a3.35,3.35 0 1,0 6.7,0a3.35,3.35 0 1,0 -6.7,0M1094.0,627.1a3.35,3.35 0 1,0 6.7,0a3.35,3.35 0 1,0 -6.7,0M1098.1,628.3a3.35,3.35 0 1,0 6.7,0a3.35,3.35 0 1,0 -6.7,0M1102.0,627.5a3.35,3.35 0 1,0 6.7,0a3.35,3.35 0 1,0 -6.7,0M1106.1,628.5a3.35,3.35 0 1,0 6.7,0a3.35,3.35 0 1,0 -6.7,0M1109.5,625.8a3.35,3.35 0 1,0 6.7,0a3.35,3.35 0 1,0 -6.7,0M1112.2,625.2a3.35,3.35 0 1,0 6.7,0a3.35,3.35 0 1,0 -6.7,0M1115.5,625.6a3.35,3.35 0 1,0 6.7,0a3.35,3.35 0 1,0 -6.7,0M1119.2,624.4a3.35,3.35 0 1,0 6.7,0a3.35,3.35 0 1,0 -6.7,0M1121.8,625.7a3.35,3.35 0 1,0 6.7,0a3.35,3.35 0 1,0 -6.7,0"/>
<polygon fill="#12c2cf" points="1129.0,631.0 1129.0,626.4 1130.0,626.0 1131.0,625.7 1132.0,625.4 1133.0,625.0 1134.0,624.6 1135.0,624.1 1136.0,623.8 1137.0,623.8 1138.0,623.8 1139.0,623.8 1140.0,623.8 1141.0,623.8 1142.0,623.8 1143.0,623.8 1144.0,623.8 1145.0,624.3 1146.0,624.8 1147.0,625.4 1148.0,625.6 1149.0,626.0 1150.0,626.2 1151.0,626.6 1152.0,626.9 1153.0,626.6 1154.0,626.3 1155.0,626.0 1156.0,625.8 1157.0,624.2 1158.0,622.7 1159.0,621.1 1160.0,620.1 1161.0,619.5 1162.0,619.0 1163.0,618.4 1164.0,617.9 1165.0,617.9 1166.0,618.0 1167.0,618.1 1168.0,618.2 1169.0,618.3 1170.0,618.4 1171.0,618.3 1172.0,618.2 1173.0,618.1 1174.0,618.0 1175.0,617.9 1176.0,617.9 1177.0,618.2 1178.0,618.5 1179.0,618.9 1180.0,619.2 1181.0,619.5 1182.0,619.9 1183.0,620.0 1184.0,620.1 1185.0,620.2 1186.0,620.4 1187.0,620.9 1188.0,621.4 1189.0,621.9 1190.0,622.4 1191.0,622.8 1192.0,623.3 1193.0,623.8 1194.0,624.2 1195.0,625.0 1196.0,625.7 1197.0,626.4 1198.0,627.1 1199.0,627.1 1200.0,627.1 1201.0,627.0 1202.0,627.0 1203.0,627.0 1204.0,626.9 1205.0,626.9 1206.0,626.9 1207.0,626.8 1208.0,626.8 1209.0,626.8 1210.0,626.7 1211.0,626.7 1212.0,626.6 1213.0,626.5 1214.0,626.4 1215.0,626.2 1216.0,626.0 1217.0,625.9 1218.0,625.8 1219.0,625.8 1220.0,625.8 1221.0,625.8 1222.0,625.8 1223.0,625.8 1224.0,625.8 1225.0,625.8 1226.0,625.8 1227.0,625.5 1228.0,625.3 1229.0,625.1 1230.0,624.8 1231.0,624.6 1232.0,624.4 1233.0,623.7 1234.0,623.1 1235.0,622.5 1236.0,621.9 1237.0,621.9 1238.0,621.9 1239.0,621.9 1240.0,621.9 1241.0,621.6 1242.0,621.5 1243.0,621.2 1244.0,621.1 1245.0,620.9 1246.0,621.4 1247.0,622.0 1248.0,622.6 1249.0,623.2 1250.0,623.8 1251.0,623.8 1252.0,623.8 1253.0,623.8 1254.0,623.8 1255.0,623.8 1256.0,623.8 1257.0,623.4 1258.0,623.1 1259.0,622.7 1260.0,622.4 1261.0,622.3 1262.0,622.3 1263.0,622.3 1264.0,622.3 1265.0,622.2 1266.0,622.2 1267.0,622.2 1268.0,622.2 1269.0,622.2 1270.0,622.1 1271.0,622.2 1272.0,622.2 1273.0,622.2 1274.0,622.2 1275.0,622.3 1276.0,622.3 1277.0,622.3 1278.0,622.4 1279.0,622.0 1280.0,621.6 1281.0,621.1 1282.0,620.8 1283.0,620.4 1284.0,620.3 1285.0,620.2 1286.0,620.1 1287.0,620.0 1288.0,620.0 1289.0,621.3 1290.0,622.7 1290.5,623.4 1290.5,631.0"/>
<path fill="#12c2cf" d="M1127.7,625.6a3.35,3.35 0 1,0 6.7,0a3.35,3.35 0 1,0 -6.7,0M1130.8,624.2a3.35,3.35 0 1,0 6.7,0a3.35,3.35 0 1,0 -6.7,0M1134.6,624.3a3.35,3.35 0 1,0 6.7,0a3.35,3.35 0 1,0 -6.7,0M1137.6,623.9a3.35,3.35 0 1,0 6.7,0a3.35,3.35 0 1,0 -6.7,0M1140.7,623.8a3.35,3.35 0 1,0 6.7,0a3.35,3.35 0 1,0 -6.7,0M1143.9,625.0a3.35,3.35 0 1,0 6.7,0a3.35,3.35 0 1,0 -6.7,0M1146.8,625.9a3.35,3.35 0 1,0 6.7,0a3.35,3.35 0 1,0 -6.7,0M1150.8,626.2a3.35,3.35 0 1,0 6.7,0a3.35,3.35 0 1,0 -6.7,0M1153.8,624.5a3.35,3.35 0 1,0 6.7,0a3.35,3.35 0 1,0 -6.7,0M1158.0,619.3a3.35,3.35 0 1,0 6.7,0a3.35,3.35 0 1,0 -6.7,0M1160.8,617.5a3.35,3.35 0 1,0 6.7,0a3.35,3.35 0 1,0 -6.7,0M1163.5,617.9a3.35,3.35 0 1,0 6.7,0a3.35,3.35 0 1,0 -6.7,0M1166.3,618.0a3.35,3.35 0 1,0 6.7,0a3.35,3.35 0 1,0 -6.7,0M1169.3,618.2a3.35,3.35 0 1,0 6.7,0a3.35,3.35 0 1,0 -6.7,0M1173.3,618.4a3.35,3.35 0 1,0 6.7,0a3.35,3.35 0 1,0 -6.7,0M1176.6,619.1a3.35,3.35 0 1,0 6.7,0a3.35,3.35 0 1,0 -6.7,0M1180.0,619.9a3.35,3.35 0 1,0 6.7,0a3.35,3.35 0 1,0 -6.7,0M1183.2,620.1a3.35,3.35 0 1,0 6.7,0a3.35,3.35 0 1,0 -6.7,0M1186.2,622.7a3.35,3.35 0 1,0 6.7,0a3.35,3.35 0 1,0 -6.7,0M1189.0,623.5a3.35,3.35 0 1,0 6.7,0a3.35,3.35 0 1,0 -6.7,0M1192.6,626.1a3.35,3.35 0 1,0 6.7,0a3.35,3.35 0 1,0 -6.7,0M1195.6,626.8a3.35,3.35 0 1,0 6.7,0a3.35,3.35 0 1,0 -6.7,0M1198.6,626.9a3.35,3.35 0 1,0 6.7,0a3.35,3.35 0 1,0 -6.7,0M1201.9,627.4a3.35,3.35 0 1,0 6.7,0a3.35,3.35 0 1,0 -6.7,0M1205.8,627.2a3.35,3.35 0 1,0 6.7,0a3.35,3.35 0 1,0 -6.7,0M1208.5,626.1a3.35,3.35 0 1,0 6.7,0a3.35,3.35 0 1,0 -6.7,0M1212.2,626.6a3.35,3.35 0 1,0 6.7,0a3.35,3.35 0 1,0 -6.7,0M1215.6,625.9a3.35,3.35 0 1,0 6.7,0a3.35,3.35 0 1,0 -6.7,0M1218.2,625.6a3.35,3.35 0 1,0 6.7,0a3.35,3.35 0 1,0 -6.7,0M1222.2,626.1a3.35,3.35 0 1,0 6.7,0a3.35,3.35 0 1,0 -6.7,0M1226.2,625.5a3.35,3.35 0 1,0 6.7,0a3.35,3.35 0 1,0 -6.7,0M1229.2,623.5a3.35,3.35 0 1,0 6.7,0a3.35,3.35 0 1,0 -6.7,0M1232.1,622.2a3.35,3.35 0 1,0 6.7,0a3.35,3.35 0 1,0 -6.7,0M1235.7,622.4a3.35,3.35 0 1,0 6.7,0a3.35,3.35 0 1,0 -6.7,0M1239.5,621.5a3.35,3.35 0 1,0 6.7,0a3.35,3.35 0 1,0 -6.7,0M1243.3,621.8a3.35,3.35 0 1,0 6.7,0a3.35,3.35 0 1,0 -6.7,0M1246.8,623.2a3.35,3.35 0 1,0 6.7,0a3.35,3.35 0 1,0 -6.7,0M1250.7,623.4a3.35,3.35 0 1,0 6.7,0a3.35,3.35 0 1,0 -6.7,0M1254.7,623.2a3.35,3.35 0 1,0 6.7,0a3.35,3.35 0 1,0 -6.7,0M1257.8,621.9a3.35,3.35 0 1,0 6.7,0a3.35,3.35 0 1,0 -6.7,0M1260.8,622.4a3.35,3.35 0 1,0 6.7,0a3.35,3.35 0 1,0 -6.7,0M1264.5,621.7a3.35,3.35 0 1,0 6.7,0a3.35,3.35 0 1,0 -6.7,0M1267.2,622.2a3.35,3.35 0 1,0 6.7,0a3.35,3.35 0 1,0 -6.7,0M1270.8,622.1a3.35,3.35 0 1,0 6.7,0a3.35,3.35 0 1,0 -6.7,0M1273.7,622.4a3.35,3.35 0 1,0 6.7,0a3.35,3.35 0 1,0 -6.7,0M1276.4,621.4a3.35,3.35 0 1,0 6.7,0a3.35,3.35 0 1,0 -6.7,0M1279.7,620.9a3.35,3.35 0 1,0 6.7,0a3.35,3.35 0 1,0 -6.7,0M1283.3,620.5a3.35,3.35 0 1,0 6.7,0a3.35,3.35 0 1,0 -6.7,0"/>
<polygon fill="#f8d200" points="1289.6,631.0 1289.6,629.6 1290.6,629.5 1291.6,629.5 1292.6,629.4 1293.6,629.4 1294.6,629.4 1295.6,629.2 1296.6,628.9 1297.6,628.6 1298.6,628.3 1299.6,628.0 1300.6,627.8 1301.6,627.7 1302.6,627.6 1303.6,627.5 1304.6,627.4 1305.6,627.3 1306.6,627.2 1307.6,627.1 1308.6,627.1 1309.6,627.0 1310.6,626.9 1311.6,626.9 1312.6,626.6 1313.6,626.1 1314.6,625.6 1315.6,625.1 1316.6,624.8 1317.6,624.6 1318.6,624.5 1319.6,624.4 1320.6,624.3 1321.6,624.1 1322.6,624.0 1323.6,623.9 1324.6,623.9 1325.6,624.0 1326.6,624.1 1327.6,624.2 1328.6,624.4 1328.6,624.4 1328.6,631.0"/>
<path fill="#f8d200" d="M1288.3,629.2a3.35,3.35 0 1,0 6.7,0a3.35,3.35 0 1,0 -6.7,0M1291.3,629.9a3.35,3.35 0 1,0 6.7,0a3.35,3.35 0 1,0 -6.7,0M1295.0,628.1a3.35,3.35 0 1,0 6.7,0a3.35,3.35 0 1,0 -6.7,0M1297.6,627.8a3.35,3.35 0 1,0 6.7,0a3.35,3.35 0 1,0 -6.7,0M1301.3,627.3a3.35,3.35 0 1,0 6.7,0a3.35,3.35 0 1,0 -6.7,0M1304.3,627.3a3.35,3.35 0 1,0 6.7,0a3.35,3.35 0 1,0 -6.7,0M1308.4,626.5a3.35,3.35 0 1,0 6.7,0a3.35,3.35 0 1,0 -6.7,0M1311.0,625.5a3.35,3.35 0 1,0 6.7,0a3.35,3.35 0 1,0 -6.7,0M1314.3,624.9a3.35,3.35 0 1,0 6.7,0a3.35,3.35 0 1,0 -6.7,0M1317.2,624.6a3.35,3.35 0 1,0 6.7,0a3.35,3.35 0 1,0 -6.7,0M1321.0,623.9a3.35,3.35 0 1,0 6.7,0a3.35,3.35 0 1,0 -6.7,0"/>
<polygon fill="#00c862" points="1328.4,631.0 1328.4,620.4 1329.4,620.4 1330.4,620.5 1331.4,620.6 1332.4,620.7 1333.4,620.8 1334.4,620.8 1335.4,620.7 1336.4,620.6 1337.4,620.6 1338.4,620.5 1339.4,620.4 1340.4,620.6 1341.4,621.1 1342.4,621.6 1343.4,622.1 1344.4,623.1 1345.4,624.8 1346.4,626.0 1347.4,626.3 1348.4,626.7 1349.4,627.0 1350.4,627.2 1351.4,627.1 1352.4,626.9 1353.4,626.8 1354.4,626.6 1355.4,626.6 1356.4,626.7 1357.4,626.9 1358.4,627.0 1359.4,627.2 1360.4,627.2 1361.4,627.1 1362.4,627.1 1363.4,627.0 1364.4,626.9 1365.4,626.8 1366.4,626.6 1367.4,626.4 1368.4,626.2 1369.4,626.0 1370.4,625.6 1371.4,625.0 1372.4,624.4 1373.4,623.8 1374.4,623.7 1375.4,624.5 1376.4,625.2 1377.4,625.9 1378.4,626.4 1379.4,626.6 1380.4,626.7 1381.4,626.9 1382.4,627.0 1383.4,627.2 1384.4,627.2 1385.4,626.9 1386.4,626.7 1387.4,626.5 1388.4,626.4 1389.4,626.6 1390.4,626.7 1391.4,626.9 1392.4,627.0 1393.4,627.2 1394.4,627.2 1395.4,627.2 1396.4,627.2 1397.4,627.2 1398.4,627.2 1399.4,627.2 1400.4,627.2 1401.4,627.0 1402.4,626.8 1403.4,626.7 1404.4,626.6 1405.4,626.8 1406.4,627.0 1407.4,627.1 1408.4,627.1 1409.4,626.6 1410.4,626.1 1411.4,625.6 1412.4,625.3 1413.4,625.1 1414.4,625.0 1415.4,625.8 1416.0,626.4 1416.0,631.0"/>
<path fill="#00c862" d="M1327.1,621.1a3.35,3.35 0 1,0 6.7,0a3.35,3.35 0 1,0 -6.7,0M1330.2,621.2a3.35,3.35 0 1,0 6.7,0a3.35,3.35 0 1,0 -6.7,0M1333.1,620.3a3.35,3.35 0 1,0 6.7,0a3.35,3.35 0 1,0 -6.7,0M1336.9,620.3a3.35,3.35 0 1,0 6.7,0a3.35,3.35 0 1,0 -6.7,0M1341.1,623.1a3.35,3.35 0 1,0 6.7,0a3.35,3.35 0 1,0 -6.7,0M1344.0,626.0a3.35,3.35 0 1,0 6.7,0a3.35,3.35 0 1,0 -6.7,0M1347.2,627.4a3.35,3.35 0 1,0 6.7,0a3.35,3.35 0 1,0 -6.7,0M1351.4,626.2a3.35,3.35 0 1,0 6.7,0a3.35,3.35 0 1,0 -6.7,0M1354.6,626.6a3.35,3.35 0 1,0 6.7,0a3.35,3.35 0 1,0 -6.7,0M1358.7,626.7a3.35,3.35 0 1,0 6.7,0a3.35,3.35 0 1,0 -6.7,0M1361.4,626.3a3.35,3.35 0 1,0 6.7,0a3.35,3.35 0 1,0 -6.7,0M1364.7,626.7a3.35,3.35 0 1,0 6.7,0a3.35,3.35 0 1,0 -6.7,0M1368.7,624.9a3.35,3.35 0 1,0 6.7,0a3.35,3.35 0 1,0 -6.7,0M1372.9,625.6a3.35,3.35 0 1,0 6.7,0a3.35,3.35 0 1,0 -6.7,0M1376.0,626.2a3.35,3.35 0 1,0 6.7,0a3.35,3.35 0 1,0 -6.7,0M1380.1,627.5a3.35,3.35 0 1,0 6.7,0a3.35,3.35 0 1,0 -6.7,0M1382.7,627.0a3.35,3.35 0 1,0 6.7,0a3.35,3.35 0 1,0 -6.7,0M1385.9,626.4a3.35,3.35 0 1,0 6.7,0a3.35,3.35 0 1,0 -6.7,0M1389.1,626.6a3.35,3.35 0 1,0 6.7,0a3.35,3.35 0 1,0 -6.7,0M1391.7,627.0a3.35,3.35 0 1,0 6.7,0a3.35,3.35 0 1,0 -6.7,0M1394.8,627.8a3.35,3.35 0 1,0 6.7,0a3.35,3.35 0 1,0 -6.7,0M1397.6,627.6a3.35,3.35 0 1,0 6.7,0a3.35,3.35 0 1,0 -6.7,0M1400.6,626.4a3.35,3.35 0 1,0 6.7,0a3.35,3.35 0 1,0 -6.7,0M1404.5,627.6a3.35,3.35 0 1,0 6.7,0a3.35,3.35 0 1,0 -6.7,0M1407.8,625.2a3.35,3.35 0 1,0 6.7,0a3.35,3.35 0 1,0 -6.7,0"/>
<polygon fill="#f57a48" points="1415.8,631.0 1415.8,626.9 1416.8,626.7 1417.8,626.5 1418.8,626.4 1419.8,626.2 1420.8,626.0 1421.8,625.9 1422.8,625.4 1423.8,624.8 1424.8,624.2 1425.8,623.6 1426.8,623.1 1427.8,622.5 1428.8,621.9 1429.8,621.3 1430.8,620.7 1431.8,620.2 1432.8,620.7 1433.8,621.5 1434.8,622.4 1435.8,623.2 1436.8,623.6 1437.8,623.8 1438.8,624.1 1439.8,624.3 1440.8,623.6 1441.8,622.6 1442.8,621.6 1443.8,620.6 1444.8,620.0 1445.8,619.5 1446.8,619.0 1447.8,618.5 1448.8,618.6 1449.8,618.8 1450.8,619.1 1451.8,619.3 1452.8,618.4 1453.8,617.1 1454.8,615.9 1455.8,614.6 1456.8,614.1 1457.8,613.7 1458.8,613.3 1459.8,612.9 1460.8,613.5 1461.8,614.4 1462.8,615.3 1463.8,616.2 1464.8,617.0 1465.8,617.9 1466.8,618.8 1467.8,619.7 1468.8,620.5 1469.8,621.4 1470.8,622.3 1471.8,623.2 1472.8,623.9 1473.8,624.6 1474.8,625.2 1475.8,625.9 1476.8,626.2 1477.8,626.4 1478.8,626.6 1479.8,626.8 1480.8,626.4 1481.8,625.8 1482.8,625.2 1483.8,624.7 1484.8,624.6 1485.8,624.7 1486.8,624.8 1487.8,624.8 1488.8,625.4 1489.8,626.2 1490.8,626.9 1491.8,627.7 1492.8,628.0 1493.8,628.1 1494.8,628.3 1495.8,628.5 1496.8,628.6 1497.8,628.8 1498.8,628.7 1499.8,628.5 1500.8,628.3 1501.8,628.1 1502.8,627.9 1503.8,626.8 1504.8,625.4 1505.8,624.0 1506.8,622.6 1507.8,622.0 1508.8,621.5 1509.8,621.0 1510.8,620.5 1511.8,620.0 1512.8,619.8 1513.8,619.7 1514.8,619.6 1515.8,619.5 1516.8,619.5 1517.8,619.4 1518.8,619.4 1519.8,619.5 1520.8,619.6 1521.8,619.7 1522.8,619.8 1523.8,619.8 1524.8,619.9 1525.8,620.0 1526.8,620.1 1527.8,620.2 1528.8,620.2 1529.8,620.3 1530.8,620.9 1531.8,621.7 1532.8,622.4 1533.8,623.2 1534.8,624.3 1535.8,625.4 1536.8,626.5 1537.5,627.4 1537.5,631.0"/>
<path fill="#f57a48" d="M1414.5,626.4a3.35,3.35 0 1,0 6.7,0a3.35,3.35 0 1,0 -6.7,0M1418.5,625.5a3.35,3.35 0 1,0 6.7,0a3.35,3.35 0 1,0 -6.7,0M1421.7,624.5a3.35,3.35 0 1,0 6.7,0a3.35,3.35 0 1,0 -6.7,0M1424.4,622.4a3.35,3.35 0 1,0 6.7,0a3.35,3.35 0 1,0 -6.7,0M1428.3,620.6a3.35,3.35 0 1,0 6.7,0a3.35,3.35 0 1,0 -6.7,0M1430.9,621.4a3.35,3.35 0 1,0 6.7,0a3.35,3.35 0 1,0 -6.7,0M1433.6,624.1a3.35,3.35 0 1,0 6.7,0a3.35,3.35 0 1,0 -6.7,0M1436.6,624.6a3.35,3.35 0 1,0 6.7,0a3.35,3.35 0 1,0 -6.7,0M1440.7,620.1a3.35,3.35 0 1,0 6.7,0a3.35,3.35 0 1,0 -6.7,0M1443.7,619.4a3.35,3.35 0 1,0 6.7,0a3.35,3.35 0 1,0 -6.7,0M1447.3,618.7a3.35,3.35 0 1,0 6.7,0a3.35,3.35 0 1,0 -6.7,0M1451.0,616.1a3.35,3.35 0 1,0 6.7,0a3.35,3.35 0 1,0 -6.7,0M1454.1,613.2a3.35,3.35 0 1,0 6.7,0a3.35,3.35 0 1,0 -6.7,0M1457.9,614.4a3.35,3.35 0 1,0 6.7,0a3.35,3.35 0 1,0 -6.7,0M1461.5,617.6a3.35,3.35 0 1,0 6.7,0a3.35,3.35 0 1,0 -6.7,0M1464.1,619.1a3.35,3.35 0 1,0 6.7,0a3.35,3.35 0 1,0 -6.7,0M1467.5,622.9a3.35,3.35 0 1,0 6.7,0a3.35,3.35 0 1,0 -6.7,0M1471.6,625.2a3.35,3.35 0 1,0 6.7,0a3.35,3.35 0 1,0 -6.7,0M1474.6,626.4a3.35,3.35 0 1,0 6.7,0a3.35,3.35 0 1,0 -6.7,0M1478.0,626.6a3.35,3.35 0 1,0 6.7,0a3.35,3.35 0 1,0 -6.7,0M1480.9,624.9a3.35,3.35 0 1,0 6.7,0a3.35,3.35 0 1,0 -6.7,0M1484.7,625.3a3.35,3.35 0 1,0 6.7,0a3.35,3.35 0 1,0 -6.7,0M1488.5,627.9a3.35,3.35 0 1,0 6.7,0a3.35,3.35 0 1,0 -6.7,0M1491.7,628.1a3.35,3.35 0 1,0 6.7,0a3.35,3.35 0 1,0 -6.7,0M1494.8,629.2a3.35,3.35 0 1,0 6.7,0a3.35,3.35 0 1,0 -6.7,0M1497.6,627.9a3.35,3.35 0 1,0 6.7,0a3.35,3.35 0 1,0 -6.7,0M1501.4,625.2a3.35,3.35 0 1,0 6.7,0a3.35,3.35 0 1,0 -6.7,0M1504.1,621.6a3.35,3.35 0 1,0 6.7,0a3.35,3.35 0 1,0 -6.7,0M1507.6,620.2a3.35,3.35 0 1,0 6.7,0a3.35,3.35 0 1,0 -6.7,0M1511.7,620.1a3.35,3.35 0 1,0 6.7,0a3.35,3.35 0 1,0 -6.7,0M1515.9,619.2a3.35,3.35 0 1,0 6.7,0a3.35,3.35 0 1,0 -6.7,0M1518.6,619.2a3.35,3.35 0 1,0 6.7,0a3.35,3.35 0 1,0 -6.7,0M1522.0,620.2a3.35,3.35 0 1,0 6.7,0a3.35,3.35 0 1,0 -6.7,0M1525.4,619.9a3.35,3.35 0 1,0 6.7,0a3.35,3.35 0 1,0 -6.7,0M1528.6,622.0a3.35,3.35 0 1,0 6.7,0a3.35,3.35 0 1,0 -6.7,0"/>
<polygon fill="#6658d6" points="1537.5,631.0 1537.5,628.9 1538.5,628.6 1539.5,628.4 1540.5,628.2 1541.5,628.0 1542.5,627.9 1543.5,628.0 1544.5,628.2 1545.5,628.3 1546.5,628.3 1547.5,628.1 1548.5,628.0 1549.5,627.9 1550.5,627.8 1551.5,627.6 1552.5,627.6 1553.5,627.8 1554.5,627.9 1555.5,628.1 1556.5,628.1 1557.5,628.0 1558.5,627.9 1559.5,627.8 1560.5,627.7 1561.5,627.6 1562.5,627.4 1563.5,627.0 1564.5,626.7 1565.5,626.3 1566.5,626.4 1567.5,626.8 1568.5,627.2 1569.5,627.6 1570.5,627.8 1571.5,627.7 1572.5,627.6 1573.5,627.6 1574.5,627.5 1575.5,627.4 1576.5,627.2 1577.5,626.9 1578.5,626.6 1579.5,626.3 1580.5,626.3 1581.5,626.6 1582.5,626.9 1583.5,627.1 1584.5,627.4 1585.5,627.7 1586.5,627.8 1587.5,627.7 1588.5,627.5 1589.5,627.4 1590.5,627.5 1591.5,627.9 1592.5,628.2 1593.5,628.5 1594.5,628.9 1594.5,628.9 1594.5,631.0"/>
<path fill="#6658d6" d="M1536.2,628.7a3.35,3.35 0 1,0 6.7,0a3.35,3.35 0 1,0 -6.7,0M1540.1,628.2a3.35,3.35 0 1,0 6.7,0a3.35,3.35 0 1,0 -6.7,0M1542.9,628.7a3.35,3.35 0 1,0 6.7,0a3.35,3.35 0 1,0 -6.7,0M1546.0,628.0a3.35,3.35 0 1,0 6.7,0a3.35,3.35 0 1,0 -6.7,0M1549.2,627.9a3.35,3.35 0 1,0 6.7,0a3.35,3.35 0 1,0 -6.7,0M1552.1,627.8a3.35,3.35 0 1,0 6.7,0a3.35,3.35 0 1,0 -6.7,0M1555.1,627.5a3.35,3.35 0 1,0 6.7,0a3.35,3.35 0 1,0 -6.7,0M1559.1,627.5a3.35,3.35 0 1,0 6.7,0a3.35,3.35 0 1,0 -6.7,0M1562.2,626.2a3.35,3.35 0 1,0 6.7,0a3.35,3.35 0 1,0 -6.7,0M1566.4,627.8a3.35,3.35 0 1,0 6.7,0a3.35,3.35 0 1,0 -6.7,0M1569.4,628.0a3.35,3.35 0 1,0 6.7,0a3.35,3.35 0 1,0 -6.7,0M1573.0,627.8a3.35,3.35 0 1,0 6.7,0a3.35,3.35 0 1,0 -6.7,0M1575.8,626.4a3.35,3.35 0 1,0 6.7,0a3.35,3.35 0 1,0 -6.7,0M1579.7,627.4a3.35,3.35 0 1,0 6.7,0a3.35,3.35 0 1,0 -6.7,0M1583.8,627.2a3.35,3.35 0 1,0 6.7,0a3.35,3.35 0 1,0 -6.7,0M1586.8,627.0a3.35,3.35 0 1,0 6.7,0a3.35,3.35 0 1,0 -6.7,0"/>
<polygon fill="#2a8a55" points="1594.0,631.0 1594.0,627.4 1595.0,626.6 1596.0,625.9 1597.0,625.1 1598.0,624.4 1599.0,624.1 1600.0,623.9 1601.0,623.6 1602.0,623.4 1603.0,623.1 1604.0,622.9 1605.0,623.1 1606.0,623.4 1607.0,623.6 1608.0,623.9 1609.0,624.1 1610.0,624.4 1611.0,624.6 1612.0,624.9 1613.0,625.1 1614.0,625.4 1615.0,625.6 1616.0,625.9 1617.0,626.1 1618.0,626.4 1619.0,626.6 1620.0,626.9 1621.0,627.1 1622.0,627.4 1623.0,627.5 1624.0,627.7 1625.0,627.9 1626.0,628.1 1627.0,628.2 1628.0,628.4 1629.0,628.6 1630.0,628.8 1630.5,628.9 1630.5,631.0"/>
<path fill="#2a8a55" d="M1592.7,626.4a3.35,3.35 0 1,0 6.7,0a3.35,3.35 0 1,0 -6.7,0M1596.2,624.5a3.35,3.35 0 1,0 6.7,0a3.35,3.35 0 1,0 -6.7,0M1599.4,623.6a3.35,3.35 0 1,0 6.7,0a3.35,3.35 0 1,0 -6.7,0M1602.7,623.1a3.35,3.35 0 1,0 6.7,0a3.35,3.35 0 1,0 -6.7,0M1606.6,624.9a3.35,3.35 0 1,0 6.7,0a3.35,3.35 0 1,0 -6.7,0M1609.3,625.1a3.35,3.35 0 1,0 6.7,0a3.35,3.35 0 1,0 -6.7,0M1612.9,625.6a3.35,3.35 0 1,0 6.7,0a3.35,3.35 0 1,0 -6.7,0M1616.1,626.3a3.35,3.35 0 1,0 6.7,0a3.35,3.35 0 1,0 -6.7,0M1619.0,627.1a3.35,3.35 0 1,0 6.7,0a3.35,3.35 0 1,0 -6.7,0M1622.6,628.2a3.35,3.35 0 1,0 6.7,0a3.35,3.35 0 1,0 -6.7,0"/>
<polygon fill="#d9168e" points="1630.5,631.0 1630.5,625.4 1631.5,624.8 1632.5,624.2 1633.5,623.6 1634.5,623.0 1635.5,622.2 1636.5,621.9 1637.5,622.9 1638.5,623.9 1639.5,624.5 1640.5,624.6 1641.5,624.9 1642.5,625.1 1643.5,625.2 1644.5,625.5 1645.5,625.9 1646.5,626.3 1647.5,626.7 1648.5,627.1 1649.5,627.6 1650.5,628.1 1651.5,628.6 1652.5,628.5 1653.5,627.9 1654.5,627.3 1655.5,626.7 1656.5,626.2 1657.5,625.8 1658.5,625.4 1659.5,625.0 1660.5,624.9 1661.5,625.0 1662.5,625.2 1663.5,625.3 1664.5,625.3 1665.5,625.2 1666.5,625.1 1667.5,625.1 1668.5,625.0 1669.5,624.9 1670.5,624.9 1671.5,625.0 1672.5,625.1 1673.5,625.1 1674.5,625.2 1675.5,625.3 1676.5,625.4 1677.5,625.5 1678.5,625.6 1679.5,625.6 1680.5,625.7 1681.5,625.8 1682.5,625.9 1683.5,626.0 1684.5,626.2 1685.5,626.3 1686.5,626.1 1687.5,625.6 1688.5,625.1 1689.5,624.6 1690.5,624.3 1691.5,624.2 1692.5,624.1 1693.5,624.0 1694.5,624.1 1695.5,624.5 1696.5,624.8 1697.5,625.2 1698.5,625.5 1699.5,625.9 1700.5,626.3 1701.5,626.7 1702.5,626.7 1703.5,626.5 1704.5,626.2 1705.5,626.0 1706.5,625.9 1707.5,625.9 1708.5,625.9 1709.5,625.9 1710.5,626.1 1711.5,626.6 1712.5,627.1 1713.5,627.6 1714.5,627.9 1715.5,627.9 1716.5,627.9 1717.5,627.9 1718.5,627.9 1719.5,627.9 1720.5,627.8 1721.5,627.6 1722.5,627.4 1723.5,627.3 1724.5,627.1 1725.5,626.9 1726.5,626.6 1727.5,626.1 1728.5,625.6 1729.5,625.1 1730.5,624.9 1731.5,624.9 1732.5,624.9 1733.5,624.9 1734.5,625.0 1735.5,625.2 1736.5,625.5 1737.5,625.7 1738.5,626.3 1739.5,627.1 1740.5,627.9 1741.5,628.8 1742.5,629.7 1743.3,630.4 1743.3,631.0"/>
<path fill="#d9168e" d="M1629.2,623.6a3.35,3.35 0 1,0 6.7,0a3.35,3.35 0 1,0 -6.7,0M1632.3,622.3a3.35,3.35 0 1,0 6.7,0a3.35,3.35 0 1,0 -6.7,0M1635.2,623.7a3.35,3.35 0 1,0 6.7,0a3.35,3.35 0 1,0 -6.7,0M1638.1,625.2a3.35,3.35 0 1,0 6.7,0a3.35,3.35 0 1,0 -6.7,0M1641.6,625.2a3.35,3.35 0 1,0 6.7,0a3.35,3.35 0 1,0 -6.7,0M1644.3,626.6a3.35,3.35 0 1,0 6.7,0a3.35,3.35 0 1,0 -6.7,0M1647.8,628.6a3.35,3.35 0 1,0 6.7,0a3.35,3.35 0 1,0 -6.7,0M1650.6,627.2a3.35,3.35 0 1,0 6.7,0a3.35,3.35 0 1,0 -6.7,0M1654.3,625.6a3.35,3.35 0 1,0 6.7,0a3.35,3.35 0 1,0 -6.7,0M1657.3,624.7a3.35,3.35 0 1,0 6.7,0a3.35,3.35 0 1,0 -6.7,0M1661.5,625.1a3.35,3.35 0 1,0 6.7,0a3.35,3.35 0 1,0 -6.7,0M1665.0,624.8a3.35,3.35 0 1,0 6.7,0a3.35,3.35 0 1,0 -6.7,0M1668.2,625.4a3.35,3.35 0 1,0 6.7,0a3.35,3.35 0 1,0 -6.7,0M1672.4,625.2a3.35,3.35 0 1,0 6.7,0a3.35,3.35 0 1,0 -6.7,0M1675.3,625.8a3.35,3.35 0 1,0 6.7,0a3.35,3.35 0 1,0 -6.7,0M1678.3,625.2a3.35,3.35 0 1,0 6.7,0a3.35,3.35 0 1,0 -6.7,0M1682.3,626.2a3.35,3.35 0 1,0 6.7,0a3.35,3.35 0 1,0 -6.7,0M1686.2,624.4a3.35,3.35 0 1,0 6.7,0a3.35,3.35 0 1,0 -6.7,0M1690.2,623.9a3.35,3.35 0 1,0 6.7,0a3.35,3.35 0 1,0 -6.7,0M1693.1,624.2a3.35,3.35 0 1,0 6.7,0a3.35,3.35 0 1,0 -6.7,0M1696.6,626.2a3.35,3.35 0 1,0 6.7,0a3.35,3.35 0 1,0 -6.7,0M1700.6,625.9a3.35,3.35 0 1,0 6.7,0a3.35,3.35 0 1,0 -6.7,0M1704.2,625.7a3.35,3.35 0 1,0 6.7,0a3.35,3.35 0 1,0 -6.7,0M1707.6,625.9a3.35,3.35 0 1,0 6.7,0a3.35,3.35 0 1,0 -6.7,0M1710.7,627.9a3.35,3.35 0 1,0 6.7,0a3.35,3.35 0 1,0 -6.7,0M1714.8,627.4a3.35,3.35 0 1,0 6.7,0a3.35,3.35 0 1,0 -6.7,0M1718.2,628.0a3.35,3.35 0 1,0 6.7,0a3.35,3.35 0 1,0 -6.7,0M1722.3,626.5a3.35,3.35 0 1,0 6.7,0a3.35,3.35 0 1,0 -6.7,0M1725.1,626.2a3.35,3.35 0 1,0 6.7,0a3.35,3.35 0 1,0 -6.7,0M1729.3,624.8a3.35,3.35 0 1,0 6.7,0a3.35,3.35 0 1,0 -6.7,0M1732.0,625.7a3.35,3.35 0 1,0 6.7,0a3.35,3.35 0 1,0 -6.7,0M1735.2,626.8a3.35,3.35 0 1,0 6.7,0a3.35,3.35 0 1,0 -6.7,0"/>
<path fill="#0f6060" stroke="#0f6060" stroke-width="1.4" d="M92.35,614.7a2.65,2.65 0 1,0 5.30,0a2.65,2.65 0 1,0 -5.30,0M90.15,617.2a2.65,2.65 0 1,0 5.30,0a2.65,2.65 0 1,0 -5.30,0M120.95,616.5a2.65,2.65 0 1,0 5.30,0a2.65,2.65 0 1,0 -5.30,0M144.45,622.0a2.65,2.65 0 1,0 5.30,0a2.65,2.65 0 1,0 -5.30,0M118.25,602.3a2.65,2.65 0 1,0 5.30,0a2.65,2.65 0 1,0 -5.30,0M97.45,609.7a2.65,2.65 0 1,0 5.30,0a2.65,2.65 0 1,0 -5.30,0M111.25,610.8a2.65,2.65 0 1,0 5.30,0a2.65,2.65 0 1,0 -5.30,0M108.35,613.6a2.65,2.65 0 1,0 5.30,0a2.65,2.65 0 1,0 -5.30,0M133.75,609.7a2.65,2.65 0 1,0 5.30,0a2.65,2.65 0 1,0 -5.30,0M147.15,615.3a2.65,2.65 0 1,0 5.30,0a2.65,2.65 0 1,0 -5.30,0M94.25,613.1a2.65,2.65 0 1,0 5.30,0a2.65,2.65 0 1,0 -5.30,0M92.05,616.4a2.65,2.65 0 1,0 5.30,0a2.65,2.65 0 1,0 -5.30,0M120.25,617.0a2.65,2.65 0 1,0 5.30,0a2.65,2.65 0 1,0 -5.30,0M87.55,622.1a2.65,2.65 0 1,0 5.30,0a2.65,2.65 0 1,0 -5.30,0M124.35,617.5a2.65,2.65 0 1,0 5.30,0a2.65,2.65 0 1,0 -5.30,0M138.35,618.5a2.65,2.65 0 1,0 5.30,0a2.65,2.65 0 1,0 -5.30,0"/>
<path fill="#168686" d="M92.35,614.7a2.65,2.65 0 1,0 5.30,0a2.65,2.65 0 1,0 -5.30,0M90.15,617.2a2.65,2.65 0 1,0 5.30,0a2.65,2.65 0 1,0 -5.30,0M120.95,616.5a2.65,2.65 0 1,0 5.30,0a2.65,2.65 0 1,0 -5.30,0M144.45,622.0a2.65,2.65 0 1,0 5.30,0a2.65,2.65 0 1,0 -5.30,0M118.25,602.3a2.65,2.65 0 1,0 5.30,0a2.65,2.65 0 1,0 -5.30,0M97.45,609.7a2.65,2.65 0 1,0 5.30,0a2.65,2.65 0 1,0 -5.30,0M111.25,610.8a2.65,2.65 0 1,0 5.30,0a2.65,2.65 0 1,0 -5.30,0M108.35,613.6a2.65,2.65 0 1,0 5.30,0a2.65,2.65 0 1,0 -5.30,0M133.75,609.7a2.65,2.65 0 1,0 5.30,0a2.65,2.65 0 1,0 -5.30,0M147.15,615.3a2.65,2.65 0 1,0 5.30,0a2.65,2.65 0 1,0 -5.30,0M94.25,613.1a2.65,2.65 0 1,0 5.30,0a2.65,2.65 0 1,0 -5.30,0M92.05,616.4a2.65,2.65 0 1,0 5.30,0a2.65,2.65 0 1,0 -5.30,0M120.25,617.0a2.65,2.65 0 1,0 5.30,0a2.65,2.65 0 1,0 -5.30,0M87.55,622.1a2.65,2.65 0 1,0 5.30,0a2.65,2.65 0 1,0 -5.30,0M124.35,617.5a2.65,2.65 0 1,0 5.30,0a2.65,2.65 0 1,0 -5.30,0M138.35,618.5a2.65,2.65 0 1,0 5.30,0a2.65,2.65 0 1,0 -5.30,0"/>
<path fill="#ae0000" stroke="#ae0000" stroke-width="1.4" d="M188.55,616.2a2.65,2.65 0 1,0 5.30,0a2.65,2.65 0 1,0 -5.30,0M188.55,619.0a2.65,2.65 0 1,0 5.30,0a2.65,2.65 0 1,0 -5.30,0M188.55,622.0a2.65,2.65 0 1,0 5.30,0a2.65,2.65 0 1,0 -5.30,0M215.65,617.0a2.65,2.65 0 1,0 5.30,0a2.65,2.65 0 1,0 -5.30,0M159.75,623.0a2.65,2.65 0 1,0 5.30,0a2.65,2.65 0 1,0 -5.30,0M225.25,621.5a2.65,2.65 0 1,0 5.30,0a2.65,2.65 0 1,0 -5.30,0M248.95,620.0a2.65,2.65 0 1,0 5.30,0a2.65,2.65 0 1,0 -5.30,0M270.35,621.0a2.65,2.65 0 1,0 5.30,0a2.65,2.65 0 1,0 -5.30,0M208.25,623.5a2.65,2.65 0 1,0 5.30,0a2.65,2.65 0 1,0 -5.30,0"/>
<path fill="#f20000" d="M188.55,616.2a2.65,2.65 0 1,0 5.30,0a2.65,2.65 0 1,0 -5.30,0M188.55,619.0a2.65,2.65 0 1,0 5.30,0a2.65,2.65 0 1,0 -5.30,0M188.55,622.0a2.65,2.65 0 1,0 5.30,0a2.65,2.65 0 1,0 -5.30,0M215.65,617.0a2.65,2.65 0 1,0 5.30,0a2.65,2.65 0 1,0 -5.30,0M159.75,623.0a2.65,2.65 0 1,0 5.30,0a2.65,2.65 0 1,0 -5.30,0M225.25,621.5a2.65,2.65 0 1,0 5.30,0a2.65,2.65 0 1,0 -5.30,0M248.95,620.0a2.65,2.65 0 1,0 5.30,0a2.65,2.65 0 1,0 -5.30,0M270.35,621.0a2.65,2.65 0 1,0 5.30,0a2.65,2.65 0 1,0 -5.30,0M208.25,623.5a2.65,2.65 0 1,0 5.30,0a2.65,2.65 0 1,0 -5.30,0"/>
<path fill="#0000ae" stroke="#0000ae" stroke-width="1.4" d="M416.65,542.4a2.65,2.65 0 1,0 5.30,0a2.65,2.65 0 1,0 -5.30,0M415.35,546.2a2.65,2.65 0 1,0 5.30,0a2.65,2.65 0 1,0 -5.30,0M414.35,549.9a2.65,2.65 0 1,0 5.30,0a2.65,2.65 0 1,0 -5.30,0M294.45,594.1a2.65,2.65 0 1,0 5.30,0a2.65,2.65 0 1,0 -5.30,0M300.05,596.9a2.65,2.65 0 1,0 5.30,0a2.65,2.65 0 1,0 -5.30,0M304.05,605.4a2.65,2.65 0 1,0 5.30,0a2.65,2.65 0 1,0 -5.30,0M306.25,608.2a2.65,2.65 0 1,0 5.30,0a2.65,2.65 0 1,0 -5.30,0M309.65,609.9a2.65,2.65 0 1,0 5.30,0a2.65,2.65 0 1,0 -5.30,0M313.05,612.2a2.65,2.65 0 1,0 5.30,0a2.65,2.65 0 1,0 -5.30,0M306.35,612.5a2.65,2.65 0 1,0 5.30,0a2.65,2.65 0 1,0 -5.30,0M308.35,614.0a2.65,2.65 0 1,0 5.30,0a2.65,2.65 0 1,0 -5.30,0M336.15,608.8a2.65,2.65 0 1,0 5.30,0a2.65,2.65 0 1,0 -5.30,0M333.95,615.0a2.65,2.65 0 1,0 5.30,0a2.65,2.65 0 1,0 -5.30,0M325.45,617.2a2.65,2.65 0 1,0 5.30,0a2.65,2.65 0 1,0 -5.30,0M291.05,616.7a2.65,2.65 0 1,0 5.30,0a2.65,2.65 0 1,0 -5.30,0M283.15,620.6a2.65,2.65 0 1,0 5.30,0a2.65,2.65 0 1,0 -5.30,0M309.15,620.6a2.65,2.65 0 1,0 5.30,0a2.65,2.65 0 1,0 -5.30,0M353.15,615.6a2.65,2.65 0 1,0 5.30,0a2.65,2.65 0 1,0 -5.30,0M358.25,618.4a2.65,2.65 0 1,0 5.30,0a2.65,2.65 0 1,0 -5.30,0M378.55,616.1a2.65,2.65 0 1,0 5.30,0a2.65,2.65 0 1,0 -5.30,0M396.05,585.1a2.65,2.65 0 1,0 5.30,0a2.65,2.65 0 1,0 -5.30,0M418.05,590.7a2.65,2.65 0 1,0 5.30,0a2.65,2.65 0 1,0 -5.30,0M396.05,594.1a2.65,2.65 0 1,0 5.30,0a2.65,2.65 0 1,0 -5.30,0M400.55,596.4a2.65,2.65 0 1,0 5.30,0a2.65,2.65 0 1,0 -5.30,0M403.95,599.8a2.65,2.65 0 1,0 5.30,0a2.65,2.65 0 1,0 -5.30,0M398.25,615.0a2.65,2.65 0 1,0 5.30,0a2.65,2.65 0 1,0 -5.30,0M402.25,616.7a2.65,2.65 0 1,0 5.30,0a2.65,2.65 0 1,0 -5.30,0M406.15,617.8a2.65,2.65 0 1,0 5.30,0a2.65,2.65 0 1,0 -5.30,0M390.35,621.2a2.65,2.65 0 1,0 5.30,0a2.65,2.65 0 1,0 -5.30,0M418.55,621.8a2.65,2.65 0 1,0 5.30,0a2.65,2.65 0 1,0 -5.30,0M420.85,623.5a2.65,2.65 0 1,0 5.30,0a2.65,2.65 0 1,0 -5.30,0M329.35,619.0a2.65,2.65 0 1,0 5.30,0a2.65,2.65 0 1,0 -5.30,0M362.35,620.0a2.65,2.65 0 1,0 5.30,0a2.65,2.65 0 1,0 -5.30,0M297.35,620.0a2.65,2.65 0 1,0 5.30,0a2.65,2.65 0 1,0 -5.30,0"/>
<path fill="#0000f2" d="M416.65,542.4a2.65,2.65 0 1,0 5.30,0a2.65,2.65 0 1,0 -5.30,0M415.35,546.2a2.65,2.65 0 1,0 5.30,0a2.65,2.65 0 1,0 -5.30,0M414.35,549.9a2.65,2.65 0 1,0 5.30,0a2.65,2.65 0 1,0 -5.30,0M294.45,594.1a2.65,2.65 0 1,0 5.30,0a2.65,2.65 0 1,0 -5.30,0M300.05,596.9a2.65,2.65 0 1,0 5.30,0a2.65,2.65 0 1,0 -5.30,0M304.05,605.4a2.65,2.65 0 1,0 5.30,0a2.65,2.65 0 1,0 -5.30,0M306.25,608.2a2.65,2.65 0 1,0 5.30,0a2.65,2.65 0 1,0 -5.30,0M309.65,609.9a2.65,2.65 0 1,0 5.30,0a2.65,2.65 0 1,0 -5.30,0M313.05,612.2a2.65,2.65 0 1,0 5.30,0a2.65,2.65 0 1,0 -5.30,0M306.35,612.5a2.65,2.65 0 1,0 5.30,0a2.65,2.65 0 1,0 -5.30,0M308.35,614.0a2.65,2.65 0 1,0 5.30,0a2.65,2.65 0 1,0 -5.30,0M336.15,608.8a2.65,2.65 0 1,0 5.30,0a2.65,2.65 0 1,0 -5.30,0M333.95,615.0a2.65,2.65 0 1,0 5.30,0a2.65,2.65 0 1,0 -5.30,0M325.45,617.2a2.65,2.65 0 1,0 5.30,0a2.65,2.65 0 1,0 -5.30,0M291.05,616.7a2.65,2.65 0 1,0 5.30,0a2.65,2.65 0 1,0 -5.30,0M283.15,620.6a2.65,2.65 0 1,0 5.30,0a2.65,2.65 0 1,0 -5.30,0M309.15,620.6a2.65,2.65 0 1,0 5.30,0a2.65,2.65 0 1,0 -5.30,0M353.15,615.6a2.65,2.65 0 1,0 5.30,0a2.65,2.65 0 1,0 -5.30,0M358.25,618.4a2.65,2.65 0 1,0 5.30,0a2.65,2.65 0 1,0 -5.30,0M378.55,616.1a2.65,2.65 0 1,0 5.30,0a2.65,2.65 0 1,0 -5.30,0M396.05,585.1a2.65,2.65 0 1,0 5.30,0a2.65,2.65 0 1,0 -5.30,0M418.05,590.7a2.65,2.65 0 1,0 5.30,0a2.65,2.65 0 1,0 -5.30,0M396.05,594.1a2.65,2.65 0 1,0 5.30,0a2.65,2.65 0 1,0 -5.30,0M400.55,596.4a2.65,2.65 0 1,0 5.30,0a2.65,2.65 0 1,0 -5.30,0M403.95,599.8a2.65,2.65 0 1,0 5.30,0a2.65,2.65 0 1,0 -5.30,0M398.25,615.0a2.65,2.65 0 1,0 5.30,0a2.65,2.65 0 1,0 -5.30,0M402.25,616.7a2.65,2.65 0 1,0 5.30,0a2.65,2.65 0 1,0 -5.30,0M406.15,617.8a2.65,2.65 0 1,0 5.30,0a2.65,2.65 0 1,0 -5.30,0M390.35,621.2a2.65,2.65 0 1,0 5.30,0a2.65,2.65 0 1,0 -5.30,0M418.55,621.8a2.65,2.65 0 1,0 5.30,0a2.65,2.65 0 1,0 -5.30,0M420.85,623.5a2.65,2.65 0 1,0 5.30,0a2.65,2.65 0 1,0 -5.30,0M329.35,619.0a2.65,2.65 0 1,0 5.30,0a2.65,2.65 0 1,0 -5.30,0M362.35,620.0a2.65,2.65 0 1,0 5.30,0a2.65,2.65 0 1,0 -5.30,0M297.35,620.0a2.65,2.65 0 1,0 5.30,0a2.65,2.65 0 1,0 -5.30,0"/>
<path fill="#b07500" stroke="#b07500" stroke-width="1.4" d="M425.35,620.5a2.65,2.65 0 1,0 5.30,0a2.65,2.65 0 1,0 -5.30,0M445.25,610.0a2.65,2.65 0 1,0 5.30,0a2.65,2.65 0 1,0 -5.30,0M464.45,615.6a2.65,2.65 0 1,0 5.30,0a2.65,2.65 0 1,0 -5.30,0M469.55,617.3a2.65,2.65 0 1,0 5.30,0a2.65,2.65 0 1,0 -5.30,0M474.55,617.9a2.65,2.65 0 1,0 5.30,0a2.65,2.65 0 1,0 -5.30,0"/>
<path fill="#f5a300" d="M425.35,620.5a2.65,2.65 0 1,0 5.30,0a2.65,2.65 0 1,0 -5.30,0M445.25,610.0a2.65,2.65 0 1,0 5.30,0a2.65,2.65 0 1,0 -5.30,0M464.45,615.6a2.65,2.65 0 1,0 5.30,0a2.65,2.65 0 1,0 -5.30,0M469.55,617.3a2.65,2.65 0 1,0 5.30,0a2.65,2.65 0 1,0 -5.30,0M474.55,617.9a2.65,2.65 0 1,0 5.30,0a2.65,2.65 0 1,0 -5.30,0"/>
<path fill="#070757" stroke="#070757" stroke-width="1.4" d="M506.25,617.1a2.65,2.65 0 1,0 5.30,0a2.65,2.65 0 1,0 -5.30,0M500.85,616.2a2.65,2.65 0 1,0 5.30,0a2.65,2.65 0 1,0 -5.30,0M519.75,598.6a2.65,2.65 0 1,0 5.30,0a2.65,2.65 0 1,0 -5.30,0M524.35,600.4a2.65,2.65 0 1,0 5.30,0a2.65,2.65 0 1,0 -5.30,0M520.65,602.2a2.65,2.65 0 1,0 5.30,0a2.65,2.65 0 1,0 -5.30,0M527.05,603.1a2.65,2.65 0 1,0 5.30,0a2.65,2.65 0 1,0 -5.30,0M524.35,608.5a2.65,2.65 0 1,0 5.30,0a2.65,2.65 0 1,0 -5.30,0M527.95,606.7a2.65,2.65 0 1,0 5.30,0a2.65,2.65 0 1,0 -5.30,0M529.75,614.0a2.65,2.65 0 1,0 5.30,0a2.65,2.65 0 1,0 -5.30,0M531.55,615.3a2.65,2.65 0 1,0 5.30,0a2.65,2.65 0 1,0 -5.30,0M537.35,608.5a2.65,2.65 0 1,0 5.30,0a2.65,2.65 0 1,0 -5.30,0M544.15,611.3a2.65,2.65 0 1,0 5.30,0a2.65,2.65 0 1,0 -5.30,0M524.35,626.6a2.65,2.65 0 1,0 5.30,0a2.65,2.65 0 1,0 -5.30,0M531.55,623.0a2.65,2.65 0 1,0 5.30,0a2.65,2.65 0 1,0 -5.30,0M535.15,622.1a2.65,2.65 0 1,0 5.30,0a2.65,2.65 0 1,0 -5.30,0M545.05,620.3a2.65,2.65 0 1,0 5.30,0a2.65,2.65 0 1,0 -5.30,0M510.05,39.3a2.65,2.65 0 1,0 5.30,0a2.65,2.65 0 1,0 -5.30,0M507.45,63.6a2.65,2.65 0 1,0 5.30,0a2.65,2.65 0 1,0 -5.30,0M510.85,62.0a2.65,2.65 0 1,0 5.30,0a2.65,2.65 0 1,0 -5.30,0M521.75,97.4a2.65,2.65 0 1,0 5.30,0a2.65,2.65 0 1,0 -5.30,0M514.25,150.8a2.65,2.65 0 1,0 5.30,0a2.65,2.65 0 1,0 -5.30,0M515.45,177.9a2.65,2.65 0 1,0 5.30,0a2.65,2.65 0 1,0 -5.30,0M547.45,314.9a2.65,2.65 0 1,0 5.30,0a2.65,2.65 0 1,0 -5.30,0M503.65,379.1a2.65,2.65 0 1,0 5.30,0a2.65,2.65 0 1,0 -5.30,0M508.65,377.6a2.65,2.65 0 1,0 5.30,0a2.65,2.65 0 1,0 -5.30,0M507.35,405.2a2.65,2.65 0 1,0 5.30,0a2.65,2.65 0 1,0 -5.30,0M516.75,402.7a2.65,2.65 0 1,0 5.30,0a2.65,2.65 0 1,0 -5.30,0M533.45,400.9a2.65,2.65 0 1,0 5.30,0a2.65,2.65 0 1,0 -5.30,0M551.55,404.2a2.65,2.65 0 1,0 5.30,0a2.65,2.65 0 1,0 -5.30,0M519.25,432.5a2.65,2.65 0 1,0 5.30,0a2.65,2.65 0 1,0 -5.30,0M534.65,477.3a2.65,2.65 0 1,0 5.30,0a2.65,2.65 0 1,0 -5.30,0M532.15,483.0a2.65,2.65 0 1,0 5.30,0a2.65,2.65 0 1,0 -5.30,0M520.25,499.7a2.65,2.65 0 1,0 5.30,0a2.65,2.65 0 1,0 -5.30,0M540.15,517.1a2.65,2.65 0 1,0 5.30,0a2.65,2.65 0 1,0 -5.30,0M516.85,535.2a2.65,2.65 0 1,0 5.30,0a2.65,2.65 0 1,0 -5.30,0M511.55,553.0a2.65,2.65 0 1,0 5.30,0a2.65,2.65 0 1,0 -5.30,0M512.75,571.3a2.65,2.65 0 1,0 5.30,0a2.65,2.65 0 1,0 -5.30,0M493.25,581.6a2.65,2.65 0 1,0 5.30,0a2.65,2.65 0 1,0 -5.30,0M504.65,593.2a2.65,2.65 0 1,0 5.30,0a2.65,2.65 0 1,0 -5.30,0M514.05,590.3a2.65,2.65 0 1,0 5.30,0a2.65,2.65 0 1,0 -5.30,0M527.05,589.1a2.65,2.65 0 1,0 5.30,0a2.65,2.65 0 1,0 -5.30,0M548.85,546.4a2.65,2.65 0 1,0 5.30,0a2.65,2.65 0 1,0 -5.30,0M550.15,557.1a2.65,2.65 0 1,0 5.30,0a2.65,2.65 0 1,0 -5.30,0M537.05,599.7a2.65,2.65 0 1,0 5.30,0a2.65,2.65 0 1,0 -5.30,0M518.35,598.4a2.65,2.65 0 1,0 5.30,0a2.65,2.65 0 1,0 -5.30,0M522.15,595.9a2.65,2.65 0 1,0 5.30,0a2.65,2.65 0 1,0 -5.30,0M525.25,597.2a2.65,2.65 0 1,0 5.30,0a2.65,2.65 0 1,0 -5.30,0M520.85,602.2a2.65,2.65 0 1,0 5.30,0a2.65,2.65 0 1,0 -5.30,0M527.05,599.7a2.65,2.65 0 1,0 5.30,0a2.65,2.65 0 1,0 -5.30,0M529.55,602.8a2.65,2.65 0 1,0 5.30,0a2.65,2.65 0 1,0 -5.30,0M525.85,605.9a2.65,2.65 0 1,0 5.30,0a2.65,2.65 0 1,0 -5.30,0M523.95,609.6a2.65,2.65 0 1,0 5.30,0a2.65,2.65 0 1,0 -5.30,0M528.35,608.4a2.65,2.65 0 1,0 5.30,0a2.65,2.65 0 1,0 -5.30,0M537.05,608.6a2.65,2.65 0 1,0 5.30,0a2.65,2.65 0 1,0 -5.30,0M543.85,610.9a2.65,2.65 0 1,0 5.30,0a2.65,2.65 0 1,0 -5.30,0M528.35,614.6a2.65,2.65 0 1,0 5.30,0a2.65,2.65 0 1,0 -5.30,0M531.45,615.2a2.65,2.65 0 1,0 5.30,0a2.65,2.65 0 1,0 -5.30,0M490.35,602.2a2.65,2.65 0 1,0 5.30,0a2.65,2.65 0 1,0 -5.30,0M492.85,606.5a2.65,2.65 0 1,0 5.30,0a2.65,2.65 0 1,0 -5.30,0M497.25,609.6a2.65,2.65 0 1,0 5.30,0a2.65,2.65 0 1,0 -5.30,0M499.05,612.7a2.65,2.65 0 1,0 5.30,0a2.65,2.65 0 1,0 -5.30,0M506.55,617.1a2.65,2.65 0 1,0 5.30,0a2.65,2.65 0 1,0 -5.30,0M504.35,619.5a2.65,2.65 0 1,0 5.30,0a2.65,2.65 0 1,0 -5.30,0M524.25,626.5a2.65,2.65 0 1,0 5.30,0a2.65,2.65 0 1,0 -5.30,0M531.05,623.5a2.65,2.65 0 1,0 5.30,0a2.65,2.65 0 1,0 -5.30,0M535.55,622.4a2.65,2.65 0 1,0 5.30,0a2.65,2.65 0 1,0 -5.30,0M545.75,621.3a2.65,2.65 0 1,0 5.30,0a2.65,2.65 0 1,0 -5.30,0M547.95,622.4a2.65,2.65 0 1,0 5.30,0a2.65,2.65 0 1,0 -5.30,0"/>
<path fill="#0b0b7a" d="M506.25,617.1a2.65,2.65 0 1,0 5.30,0a2.65,2.65 0 1,0 -5.30,0M500.85,616.2a2.65,2.65 0 1,0 5.30,0a2.65,2.65 0 1,0 -5.30,0M519.75,598.6a2.65,2.65 0 1,0 5.30,0a2.65,2.65 0 1,0 -5.30,0M524.35,600.4a2.65,2.65 0 1,0 5.30,0a2.65,2.65 0 1,0 -5.30,0M520.65,602.2a2.65,2.65 0 1,0 5.30,0a2.65,2.65 0 1,0 -5.30,0M527.05,603.1a2.65,2.65 0 1,0 5.30,0a2.65,2.65 0 1,0 -5.30,0M524.35,608.5a2.65,2.65 0 1,0 5.30,0a2.65,2.65 0 1,0 -5.30,0M527.95,606.7a2.65,2.65 0 1,0 5.30,0a2.65,2.65 0 1,0 -5.30,0M529.75,614.0a2.65,2.65 0 1,0 5.30,0a2.65,2.65 0 1,0 -5.30,0M531.55,615.3a2.65,2.65 0 1,0 5.30,0a2.65,2.65 0 1,0 -5.30,0M537.35,608.5a2.65,2.65 0 1,0 5.30,0a2.65,2.65 0 1,0 -5.30,0M544.15,611.3a2.65,2.65 0 1,0 5.30,0a2.65,2.65 0 1,0 -5.30,0M524.35,626.6a2.65,2.65 0 1,0 5.30,0a2.65,2.65 0 1,0 -5.30,0M531.55,623.0a2.65,2.65 0 1,0 5.30,0a2.65,2.65 0 1,0 -5.30,0M535.15,622.1a2.65,2.65 0 1,0 5.30,0a2.65,2.65 0 1,0 -5.30,0M545.05,620.3a2.65,2.65 0 1,0 5.30,0a2.65,2.65 0 1,0 -5.30,0M510.05,39.3a2.65,2.65 0 1,0 5.30,0a2.65,2.65 0 1,0 -5.30,0M507.45,63.6a2.65,2.65 0 1,0 5.30,0a2.65,2.65 0 1,0 -5.30,0M510.85,62.0a2.65,2.65 0 1,0 5.30,0a2.65,2.65 0 1,0 -5.30,0M521.75,97.4a2.65,2.65 0 1,0 5.30,0a2.65,2.65 0 1,0 -5.30,0M514.25,150.8a2.65,2.65 0 1,0 5.30,0a2.65,2.65 0 1,0 -5.30,0M515.45,177.9a2.65,2.65 0 1,0 5.30,0a2.65,2.65 0 1,0 -5.30,0M547.45,314.9a2.65,2.65 0 1,0 5.30,0a2.65,2.65 0 1,0 -5.30,0M503.65,379.1a2.65,2.65 0 1,0 5.30,0a2.65,2.65 0 1,0 -5.30,0M508.65,377.6a2.65,2.65 0 1,0 5.30,0a2.65,2.65 0 1,0 -5.30,0M507.35,405.2a2.65,2.65 0 1,0 5.30,0a2.65,2.65 0 1,0 -5.30,0M516.75,402.7a2.65,2.65 0 1,0 5.30,0a2.65,2.65 0 1,0 -5.30,0M533.45,400.9a2.65,2.65 0 1,0 5.30,0a2.65,2.65 0 1,0 -5.30,0M551.55,404.2a2.65,2.65 0 1,0 5.30,0a2.65,2.65 0 1,0 -5.30,0M519.25,432.5a2.65,2.65 0 1,0 5.30,0a2.65,2.65 0 1,0 -5.30,0M534.65,477.3a2.65,2.65 0 1,0 5.30,0a2.65,2.65 0 1,0 -5.30,0M532.15,483.0a2.65,2.65 0 1,0 5.30,0a2.65,2.65 0 1,0 -5.30,0M520.25,499.7a2.65,2.65 0 1,0 5.30,0a2.65,2.65 0 1,0 -5.30,0M540.15,517.1a2.65,2.65 0 1,0 5.30,0a2.65,2.65 0 1,0 -5.30,0M516.85,535.2a2.65,2.65 0 1,0 5.30,0a2.65,2.65 0 1,0 -5.30,0M511.55,553.0a2.65,2.65 0 1,0 5.30,0a2.65,2.65 0 1,0 -5.30,0M512.75,571.3a2.65,2.65 0 1,0 5.30,0a2.65,2.65 0 1,0 -5.30,0M493.25,581.6a2.65,2.65 0 1,0 5.30,0a2.65,2.65 0 1,0 -5.30,0M504.65,593.2a2.65,2.65 0 1,0 5.30,0a2.65,2.65 0 1,0 -5.30,0M514.05,590.3a2.65,2.65 0 1,0 5.30,0a2.65,2.65 0 1,0 -5.30,0M527.05,589.1a2.65,2.65 0 1,0 5.30,0a2.65,2.65 0 1,0 -5.30,0M548.85,546.4a2.65,2.65 0 1,0 5.30,0a2.65,2.65 0 1,0 -5.30,0M550.15,557.1a2.65,2.65 0 1,0 5.30,0a2.65,2.65 0 1,0 -5.30,0M537.05,599.7a2.65,2.65 0 1,0 5.30,0a2.65,2.65 0 1,0 -5.30,0M518.35,598.4a2.65,2.65 0 1,0 5.30,0a2.65,2.65 0 1,0 -5.30,0M522.15,595.9a2.65,2.65 0 1,0 5.30,0a2.65,2.65 0 1,0 -5.30,0M525.25,597.2a2.65,2.65 0 1,0 5.30,0a2.65,2.65 0 1,0 -5.30,0M520.85,602.2a2.65,2.65 0 1,0 5.30,0a2.65,2.65 0 1,0 -5.30,0M527.05,599.7a2.65,2.65 0 1,0 5.30,0a2.65,2.65 0 1,0 -5.30,0M529.55,602.8a2.65,2.65 0 1,0 5.30,0a2.65,2.65 0 1,0 -5.30,0M525.85,605.9a2.65,2.65 0 1,0 5.30,0a2.65,2.65 0 1,0 -5.30,0M523.95,609.6a2.65,2.65 0 1,0 5.30,0a2.65,2.65 0 1,0 -5.30,0M528.35,608.4a2.65,2.65 0 1,0 5.30,0a2.65,2.65 0 1,0 -5.30,0M537.05,608.6a2.65,2.65 0 1,0 5.30,0a2.65,2.65 0 1,0 -5.30,0M543.85,610.9a2.65,2.65 0 1,0 5.30,0a2.65,2.65 0 1,0 -5.30,0M528.35,614.6a2.65,2.65 0 1,0 5.30,0a2.65,2.65 0 1,0 -5.30,0M531.45,615.2a2.65,2.65 0 1,0 5.30,0a2.65,2.65 0 1,0 -5.30,0M490.35,602.2a2.65,2.65 0 1,0 5.30,0a2.65,2.65 0 1,0 -5.30,0M492.85,606.5a2.65,2.65 0 1,0 5.30,0a2.65,2.65 0 1,0 -5.30,0M497.25,609.6a2.65,2.65 0 1,0 5.30,0a2.65,2.65 0 1,0 -5.30,0M499.05,612.7a2.65,2.65 0 1,0 5.30,0a2.65,2.65 0 1,0 -5.30,0M506.55,617.1a2.65,2.65 0 1,0 5.30,0a2.65,2.65 0 1,0 -5.30,0M504.35,619.5a2.65,2.65 0 1,0 5.30,0a2.65,2.65 0 1,0 -5.30,0M524.25,626.5a2.65,2.65 0 1,0 5.30,0a2.65,2.65 0 1,0 -5.30,0M531.05,623.5a2.65,2.65 0 1,0 5.30,0a2.65,2.65 0 1,0 -5.30,0M535.55,622.4a2.65,2.65 0 1,0 5.30,0a2.65,2.65 0 1,0 -5.30,0M545.75,621.3a2.65,2.65 0 1,0 5.30,0a2.65,2.65 0 1,0 -5.30,0M547.95,622.4a2.65,2.65 0 1,0 5.30,0a2.65,2.65 0 1,0 -5.30,0"/>
<path fill="#5819a5" stroke="#5819a5" stroke-width="1.4" d="M556.85,622.1a2.65,2.65 0 1,0 5.30,0a2.65,2.65 0 1,0 -5.30,0M593.85,619.8a2.65,2.65 0 1,0 5.30,0a2.65,2.65 0 1,0 -5.30,0M590.25,609.0a2.65,2.65 0 1,0 5.30,0a2.65,2.65 0 1,0 -5.30,0M610.95,605.8a2.65,2.65 0 1,0 5.30,0a2.65,2.65 0 1,0 -5.30,0M615.45,611.3a2.65,2.65 0 1,0 5.30,0a2.65,2.65 0 1,0 -5.30,0M612.75,614.0a2.65,2.65 0 1,0 5.30,0a2.65,2.65 0 1,0 -5.30,0M625.45,616.7a2.65,2.65 0 1,0 5.30,0a2.65,2.65 0 1,0 -5.30,0M564.45,615.3a2.65,2.65 0 1,0 5.30,0a2.65,2.65 0 1,0 -5.30,0M558.85,558.0a2.65,2.65 0 1,0 5.30,0a2.65,2.65 0 1,0 -5.30,0M561.95,560.5a2.65,2.65 0 1,0 5.30,0a2.65,2.65 0 1,0 -5.30,0M564.45,561.1a2.65,2.65 0 1,0 5.30,0a2.65,2.65 0 1,0 -5.30,0M560.65,562.3a2.65,2.65 0 1,0 5.30,0a2.65,2.65 0 1,0 -5.30,0M561.95,578.8a2.65,2.65 0 1,0 5.30,0a2.65,2.65 0 1,0 -5.30,0M559.15,593.7a2.65,2.65 0 1,0 5.30,0a2.65,2.65 0 1,0 -5.30,0M561.95,598.4a2.65,2.65 0 1,0 5.30,0a2.65,2.65 0 1,0 -5.30,0M566.95,599.7a2.65,2.65 0 1,0 5.30,0a2.65,2.65 0 1,0 -5.30,0M568.15,603.4a2.65,2.65 0 1,0 5.30,0a2.65,2.65 0 1,0 -5.30,0M563.75,600.9a2.65,2.65 0 1,0 5.30,0a2.65,2.65 0 1,0 -5.30,0M564.45,615.2a2.65,2.65 0 1,0 5.30,0a2.65,2.65 0 1,0 -5.30,0M588.05,577.3a2.65,2.65 0 1,0 5.30,0a2.65,2.65 0 1,0 -5.30,0M588.55,580.6a2.65,2.65 0 1,0 5.30,0a2.65,2.65 0 1,0 -5.30,0M586.35,584.0a2.65,2.65 0 1,0 5.30,0a2.65,2.65 0 1,0 -5.30,0M624.15,586.9a2.65,2.65 0 1,0 5.30,0a2.65,2.65 0 1,0 -5.30,0M586.85,593.1a2.65,2.65 0 1,0 5.30,0a2.65,2.65 0 1,0 -5.30,0M595.35,599.3a2.65,2.65 0 1,0 5.30,0a2.65,2.65 0 1,0 -5.30,0M598.75,599.3a2.65,2.65 0 1,0 5.30,0a2.65,2.65 0 1,0 -5.30,0M590.35,608.9a2.65,2.65 0 1,0 5.30,0a2.65,2.65 0 1,0 -5.30,0M611.75,605.5a2.65,2.65 0 1,0 5.30,0a2.65,2.65 0 1,0 -5.30,0M615.65,611.1a2.65,2.65 0 1,0 5.30,0a2.65,2.65 0 1,0 -5.30,0M612.85,613.9a2.65,2.65 0 1,0 5.30,0a2.65,2.65 0 1,0 -5.30,0M625.25,616.8a2.65,2.65 0 1,0 5.30,0a2.65,2.65 0 1,0 -5.30,0M594.25,619.6a2.65,2.65 0 1,0 5.30,0a2.65,2.65 0 1,0 -5.30,0M556.95,621.8a2.65,2.65 0 1,0 5.30,0a2.65,2.65 0 1,0 -5.30,0M617.95,611.5a2.65,2.65 0 1,0 5.30,0a2.65,2.65 0 1,0 -5.30,0"/>
<path fill="#7b24e6" d="M556.85,622.1a2.65,2.65 0 1,0 5.30,0a2.65,2.65 0 1,0 -5.30,0M593.85,619.8a2.65,2.65 0 1,0 5.30,0a2.65,2.65 0 1,0 -5.30,0M590.25,609.0a2.65,2.65 0 1,0 5.30,0a2.65,2.65 0 1,0 -5.30,0M610.95,605.8a2.65,2.65 0 1,0 5.30,0a2.65,2.65 0 1,0 -5.30,0M615.45,611.3a2.65,2.65 0 1,0 5.30,0a2.65,2.65 0 1,0 -5.30,0M612.75,614.0a2.65,2.65 0 1,0 5.30,0a2.65,2.65 0 1,0 -5.30,0M625.45,616.7a2.65,2.65 0 1,0 5.30,0a2.65,2.65 0 1,0 -5.30,0M564.45,615.3a2.65,2.65 0 1,0 5.30,0a2.65,2.65 0 1,0 -5.30,0M558.85,558.0a2.65,2.65 0 1,0 5.30,0a2.65,2.65 0 1,0 -5.30,0M561.95,560.5a2.65,2.65 0 1,0 5.30,0a2.65,2.65 0 1,0 -5.30,0M564.45,561.1a2.65,2.65 0 1,0 5.30,0a2.65,2.65 0 1,0 -5.30,0M560.65,562.3a2.65,2.65 0 1,0 5.30,0a2.65,2.65 0 1,0 -5.30,0M561.95,578.8a2.65,2.65 0 1,0 5.30,0a2.65,2.65 0 1,0 -5.30,0M559.15,593.7a2.65,2.65 0 1,0 5.30,0a2.65,2.65 0 1,0 -5.30,0M561.95,598.4a2.65,2.65 0 1,0 5.30,0a2.65,2.65 0 1,0 -5.30,0M566.95,599.7a2.65,2.65 0 1,0 5.30,0a2.65,2.65 0 1,0 -5.30,0M568.15,603.4a2.65,2.65 0 1,0 5.30,0a2.65,2.65 0 1,0 -5.30,0M563.75,600.9a2.65,2.65 0 1,0 5.30,0a2.65,2.65 0 1,0 -5.30,0M564.45,615.2a2.65,2.65 0 1,0 5.30,0a2.65,2.65 0 1,0 -5.30,0M588.05,577.3a2.65,2.65 0 1,0 5.30,0a2.65,2.65 0 1,0 -5.30,0M588.55,580.6a2.65,2.65 0 1,0 5.30,0a2.65,2.65 0 1,0 -5.30,0M586.35,584.0a2.65,2.65 0 1,0 5.30,0a2.65,2.65 0 1,0 -5.30,0M624.15,586.9a2.65,2.65 0 1,0 5.30,0a2.65,2.65 0 1,0 -5.30,0M586.85,593.1a2.65,2.65 0 1,0 5.30,0a2.65,2.65 0 1,0 -5.30,0M595.35,599.3a2.65,2.65 0 1,0 5.30,0a2.65,2.65 0 1,0 -5.30,0M598.75,599.3a2.65,2.65 0 1,0 5.30,0a2.65,2.65 0 1,0 -5.30,0M590.35,608.9a2.65,2.65 0 1,0 5.30,0a2.65,2.65 0 1,0 -5.30,0M611.75,605.5a2.65,2.65 0 1,0 5.30,0a2.65,2.65 0 1,0 -5.30,0M615.65,611.1a2.65,2.65 0 1,0 5.30,0a2.65,2.65 0 1,0 -5.30,0M612.85,613.9a2.65,2.65 0 1,0 5.30,0a2.65,2.65 0 1,0 -5.30,0M625.25,616.8a2.65,2.65 0 1,0 5.30,0a2.65,2.65 0 1,0 -5.30,0M594.25,619.6a2.65,2.65 0 1,0 5.30,0a2.65,2.65 0 1,0 -5.30,0M556.95,621.8a2.65,2.65 0 1,0 5.30,0a2.65,2.65 0 1,0 -5.30,0M617.95,611.5a2.65,2.65 0 1,0 5.30,0a2.65,2.65 0 1,0 -5.30,0"/>
<path fill="#b7320c" stroke="#b7320c" stroke-width="1.4" d="M670.95,616.5a2.65,2.65 0 1,0 5.30,0a2.65,2.65 0 1,0 -5.30,0M666.35,620.5a2.65,2.65 0 1,0 5.30,0a2.65,2.65 0 1,0 -5.30,0M724.55,618.9a2.65,2.65 0 1,0 5.30,0a2.65,2.65 0 1,0 -5.30,0M736.25,611.4a2.65,2.65 0 1,0 5.30,0a2.65,2.65 0 1,0 -5.30,0M670.95,617.2a2.65,2.65 0 1,0 5.30,0a2.65,2.65 0 1,0 -5.30,0M667.05,621.1a2.65,2.65 0 1,0 5.30,0a2.65,2.65 0 1,0 -5.30,0M735.85,611.2a2.65,2.65 0 1,0 5.30,0a2.65,2.65 0 1,0 -5.30,0M724.35,618.9a2.65,2.65 0 1,0 5.30,0a2.65,2.65 0 1,0 -5.30,0M698.05,622.8a2.65,2.65 0 1,0 5.30,0a2.65,2.65 0 1,0 -5.30,0M742.05,622.8a2.65,2.65 0 1,0 5.30,0a2.65,2.65 0 1,0 -5.30,0"/>
<path fill="#ff4612" d="M670.95,616.5a2.65,2.65 0 1,0 5.30,0a2.65,2.65 0 1,0 -5.30,0M666.35,620.5a2.65,2.65 0 1,0 5.30,0a2.65,2.65 0 1,0 -5.30,0M724.55,618.9a2.65,2.65 0 1,0 5.30,0a2.65,2.65 0 1,0 -5.30,0M736.25,611.4a2.65,2.65 0 1,0 5.30,0a2.65,2.65 0 1,0 -5.30,0M670.95,617.2a2.65,2.65 0 1,0 5.30,0a2.65,2.65 0 1,0 -5.30,0M667.05,621.1a2.65,2.65 0 1,0 5.30,0a2.65,2.65 0 1,0 -5.30,0M735.85,611.2a2.65,2.65 0 1,0 5.30,0a2.65,2.65 0 1,0 -5.30,0M724.35,618.9a2.65,2.65 0 1,0 5.30,0a2.65,2.65 0 1,0 -5.30,0M698.05,622.8a2.65,2.65 0 1,0 5.30,0a2.65,2.65 0 1,0 -5.30,0M742.05,622.8a2.65,2.65 0 1,0 5.30,0a2.65,2.65 0 1,0 -5.30,0"/>
<path fill="#008d00" stroke="#008d00" stroke-width="1.4" d="M764.25,613.7a2.65,2.65 0 1,0 5.30,0a2.65,2.65 0 1,0 -5.30,0M811.25,615.2a2.65,2.65 0 1,0 5.30,0a2.65,2.65 0 1,0 -5.30,0M817.95,612.3a2.65,2.65 0 1,0 5.30,0a2.65,2.65 0 1,0 -5.30,0M894.75,613.7a2.65,2.65 0 1,0 5.30,0a2.65,2.65 0 1,0 -5.30,0M896.65,614.2a2.65,2.65 0 1,0 5.30,0a2.65,2.65 0 1,0 -5.30,0M838.35,616.5a2.65,2.65 0 1,0 5.30,0a2.65,2.65 0 1,0 -5.30,0M775.95,594.6a2.65,2.65 0 1,0 5.30,0a2.65,2.65 0 1,0 -5.30,0M755.95,606.7a2.65,2.65 0 1,0 5.30,0a2.65,2.65 0 1,0 -5.30,0M804.75,605.9a2.65,2.65 0 1,0 5.30,0a2.65,2.65 0 1,0 -5.30,0M764.05,613.8a2.65,2.65 0 1,0 5.30,0a2.65,2.65 0 1,0 -5.30,0M760.65,618.9a2.65,2.65 0 1,0 5.30,0a2.65,2.65 0 1,0 -5.30,0M810.85,614.9a2.65,2.65 0 1,0 5.30,0a2.65,2.65 0 1,0 -5.30,0M817.65,612.1a2.65,2.65 0 1,0 5.30,0a2.65,2.65 0 1,0 -5.30,0M819.95,615.5a2.65,2.65 0 1,0 5.30,0a2.65,2.65 0 1,0 -5.30,0M836.85,617.2a2.65,2.65 0 1,0 5.30,0a2.65,2.65 0 1,0 -5.30,0M894.45,613.8a2.65,2.65 0 1,0 5.30,0a2.65,2.65 0 1,0 -5.30,0M896.65,613.8a2.65,2.65 0 1,0 5.30,0a2.65,2.65 0 1,0 -5.30,0M815.95,611.5a2.65,2.65 0 1,0 5.30,0a2.65,2.65 0 1,0 -5.30,0"/>
<path fill="#00c400" d="M764.25,613.7a2.65,2.65 0 1,0 5.30,0a2.65,2.65 0 1,0 -5.30,0M811.25,615.2a2.65,2.65 0 1,0 5.30,0a2.65,2.65 0 1,0 -5.30,0M817.95,612.3a2.65,2.65 0 1,0 5.30,0a2.65,2.65 0 1,0 -5.30,0M894.75,613.7a2.65,2.65 0 1,0 5.30,0a2.65,2.65 0 1,0 -5.30,0M896.65,614.2a2.65,2.65 0 1,0 5.30,0a2.65,2.65 0 1,0 -5.30,0M838.35,616.5a2.65,2.65 0 1,0 5.30,0a2.65,2.65 0 1,0 -5.30,0M775.95,594.6a2.65,2.65 0 1,0 5.30,0a2.65,2.65 0 1,0 -5.30,0M755.95,606.7a2.65,2.65 0 1,0 5.30,0a2.65,2.65 0 1,0 -5.30,0M804.75,605.9a2.65,2.65 0 1,0 5.30,0a2.65,2.65 0 1,0 -5.30,0M764.05,613.8a2.65,2.65 0 1,0 5.30,0a2.65,2.65 0 1,0 -5.30,0M760.65,618.9a2.65,2.65 0 1,0 5.30,0a2.65,2.65 0 1,0 -5.30,0M810.85,614.9a2.65,2.65 0 1,0 5.30,0a2.65,2.65 0 1,0 -5.30,0M817.65,612.1a2.65,2.65 0 1,0 5.30,0a2.65,2.65 0 1,0 -5.30,0M819.95,615.5a2.65,2.65 0 1,0 5.30,0a2.65,2.65 0 1,0 -5.30,0M836.85,617.2a2.65,2.65 0 1,0 5.30,0a2.65,2.65 0 1,0 -5.30,0M894.45,613.8a2.65,2.65 0 1,0 5.30,0a2.65,2.65 0 1,0 -5.30,0M896.65,613.8a2.65,2.65 0 1,0 5.30,0a2.65,2.65 0 1,0 -5.30,0M815.95,611.5a2.65,2.65 0 1,0 5.30,0a2.65,2.65 0 1,0 -5.30,0"/>
<path fill="#361167" stroke="#361167" stroke-width="1.4" d="M932.95,592.9a2.65,2.65 0 1,0 5.30,0a2.65,2.65 0 1,0 -5.30,0M933.25,596.2a2.65,2.65 0 1,0 5.30,0a2.65,2.65 0 1,0 -5.30,0M959.05,596.8a2.65,2.65 0 1,0 5.30,0a2.65,2.65 0 1,0 -5.30,0M919.95,599.7a2.65,2.65 0 1,0 5.30,0a2.65,2.65 0 1,0 -5.30,0M952.25,600.7a2.65,2.65 0 1,0 5.30,0a2.65,2.65 0 1,0 -5.30,0M952.95,603.3a2.65,2.65 0 1,0 5.30,0a2.65,2.65 0 1,0 -5.30,0M935.85,604.6a2.65,2.65 0 1,0 5.30,0a2.65,2.65 0 1,0 -5.30,0M960.65,604.6a2.65,2.65 0 1,0 5.30,0a2.65,2.65 0 1,0 -5.30,0M963.25,607.1a2.65,2.65 0 1,0 5.30,0a2.65,2.65 0 1,0 -5.30,0M956.85,608.4a2.65,2.65 0 1,0 5.30,0a2.65,2.65 0 1,0 -5.30,0M959.35,608.4a2.65,2.65 0 1,0 5.30,0a2.65,2.65 0 1,0 -5.30,0M929.05,611.4a2.65,2.65 0 1,0 5.30,0a2.65,2.65 0 1,0 -5.30,0M937.45,611.0a2.65,2.65 0 1,0 5.30,0a2.65,2.65 0 1,0 -5.30,0M936.15,614.9a2.65,2.65 0 1,0 5.30,0a2.65,2.65 0 1,0 -5.30,0M940.05,616.2a2.65,2.65 0 1,0 5.30,0a2.65,2.65 0 1,0 -5.30,0M934.15,616.8a2.65,2.65 0 1,0 5.30,0a2.65,2.65 0 1,0 -5.30,0M902.15,612.3a2.65,2.65 0 1,0 5.30,0a2.65,2.65 0 1,0 -5.30,0M912.25,615.6a2.65,2.65 0 1,0 5.30,0a2.65,2.65 0 1,0 -5.30,0M916.75,618.1a2.65,2.65 0 1,0 5.30,0a2.65,2.65 0 1,0 -5.30,0M910.25,618.8a2.65,2.65 0 1,0 5.30,0a2.65,2.65 0 1,0 -5.30,0M960.05,616.2a2.65,2.65 0 1,0 5.30,0a2.65,2.65 0 1,0 -5.30,0M975.85,611.0a2.65,2.65 0 1,0 5.30,0a2.65,2.65 0 1,0 -5.30,0M977.55,616.2a2.65,2.65 0 1,0 5.30,0a2.65,2.65 0 1,0 -5.30,0M979.45,620.7a2.65,2.65 0 1,0 5.30,0a2.65,2.65 0 1,0 -5.30,0M965.85,620.1a2.65,2.65 0 1,0 5.30,0a2.65,2.65 0 1,0 -5.30,0M969.75,622.0a2.65,2.65 0 1,0 5.30,0a2.65,2.65 0 1,0 -5.30,0M929.65,622.0a2.65,2.65 0 1,0 5.30,0a2.65,2.65 0 1,0 -5.30,0M923.35,616.0a2.65,2.65 0 1,0 5.30,0a2.65,2.65 0 1,0 -5.30,0M905.35,616.0a2.65,2.65 0 1,0 5.30,0a2.65,2.65 0 1,0 -5.30,0M929.35,560.7a2.65,2.65 0 1,0 5.30,0a2.65,2.65 0 1,0 -5.30,0M962.95,566.8a2.65,2.65 0 1,0 5.30,0a2.65,2.65 0 1,0 -5.30,0M964.35,584.5a2.65,2.65 0 1,0 5.30,0a2.65,2.65 0 1,0 -5.30,0M938.45,586.7a2.65,2.65 0 1,0 5.30,0a2.65,2.65 0 1,0 -5.30,0M933.35,593.5a2.65,2.65 0 1,0 5.30,0a2.65,2.65 0 1,0 -5.30,0M933.35,596.3a2.65,2.65 0 1,0 5.30,0a2.65,2.65 0 1,0 -5.30,0M919.85,599.7a2.65,2.65 0 1,0 5.30,0a2.65,2.65 0 1,0 -5.30,0M959.35,596.9a2.65,2.65 0 1,0 5.30,0a2.65,2.65 0 1,0 -5.30,0M951.95,600.8a2.65,2.65 0 1,0 5.30,0a2.65,2.65 0 1,0 -5.30,0M953.15,603.6a2.65,2.65 0 1,0 5.30,0a2.65,2.65 0 1,0 -5.30,0M936.15,604.8a2.65,2.65 0 1,0 5.30,0a2.65,2.65 0 1,0 -5.30,0M959.85,604.2a2.65,2.65 0 1,0 5.30,0a2.65,2.65 0 1,0 -5.30,0M963.25,606.4a2.65,2.65 0 1,0 5.30,0a2.65,2.65 0 1,0 -5.30,0M957.65,608.7a2.65,2.65 0 1,0 5.30,0a2.65,2.65 0 1,0 -5.30,0M928.85,611.5a2.65,2.65 0 1,0 5.30,0a2.65,2.65 0 1,0 -5.30,0M920.35,612.7a2.65,2.65 0 1,0 5.30,0a2.65,2.65 0 1,0 -5.30,0M902.35,612.1a2.65,2.65 0 1,0 5.30,0a2.65,2.65 0 1,0 -5.30,0M936.75,613.2a2.65,2.65 0 1,0 5.30,0a2.65,2.65 0 1,0 -5.30,0M938.45,616.0a2.65,2.65 0 1,0 5.30,0a2.65,2.65 0 1,0 -5.30,0M975.65,611.0a2.65,2.65 0 1,0 5.30,0a2.65,2.65 0 1,0 -5.30,0M977.95,614.3a2.65,2.65 0 1,0 5.30,0a2.65,2.65 0 1,0 -5.30,0M979.05,618.9a2.65,2.65 0 1,0 5.30,0a2.65,2.65 0 1,0 -5.30,0M960.45,616.0a2.65,2.65 0 1,0 5.30,0a2.65,2.65 0 1,0 -5.30,0M912.45,615.5a2.65,2.65 0 1,0 5.30,0a2.65,2.65 0 1,0 -5.30,0M907.95,618.9a2.65,2.65 0 1,0 5.30,0a2.65,2.65 0 1,0 -5.30,0M953.35,606.0a2.65,2.65 0 1,0 5.30,0a2.65,2.65 0 1,0 -5.30,0M943.35,619.0a2.65,2.65 0 1,0 5.30,0a2.65,2.65 0 1,0 -5.30,0"/>
<path fill="#4c1890" d="M932.95,592.9a2.65,2.65 0 1,0 5.30,0a2.65,2.65 0 1,0 -5.30,0M933.25,596.2a2.65,2.65 0 1,0 5.30,0a2.65,2.65 0 1,0 -5.30,0M959.05,596.8a2.65,2.65 0 1,0 5.30,0a2.65,2.65 0 1,0 -5.30,0M919.95,599.7a2.65,2.65 0 1,0 5.30,0a2.65,2.65 0 1,0 -5.30,0M952.25,600.7a2.65,2.65 0 1,0 5.30,0a2.65,2.65 0 1,0 -5.30,0M952.95,603.3a2.65,2.65 0 1,0 5.30,0a2.65,2.65 0 1,0 -5.30,0M935.85,604.6a2.65,2.65 0 1,0 5.30,0a2.65,2.65 0 1,0 -5.30,0M960.65,604.6a2.65,2.65 0 1,0 5.30,0a2.65,2.65 0 1,0 -5.30,0M963.25,607.1a2.65,2.65 0 1,0 5.30,0a2.65,2.65 0 1,0 -5.30,0M956.85,608.4a2.65,2.65 0 1,0 5.30,0a2.65,2.65 0 1,0 -5.30,0M959.35,608.4a2.65,2.65 0 1,0 5.30,0a2.65,2.65 0 1,0 -5.30,0M929.05,611.4a2.65,2.65 0 1,0 5.30,0a2.65,2.65 0 1,0 -5.30,0M937.45,611.0a2.65,2.65 0 1,0 5.30,0a2.65,2.65 0 1,0 -5.30,0M936.15,614.9a2.65,2.65 0 1,0 5.30,0a2.65,2.65 0 1,0 -5.30,0M940.05,616.2a2.65,2.65 0 1,0 5.30,0a2.65,2.65 0 1,0 -5.30,0M934.15,616.8a2.65,2.65 0 1,0 5.30,0a2.65,2.65 0 1,0 -5.30,0M902.15,612.3a2.65,2.65 0 1,0 5.30,0a2.65,2.65 0 1,0 -5.30,0M912.25,615.6a2.65,2.65 0 1,0 5.30,0a2.65,2.65 0 1,0 -5.30,0M916.75,618.1a2.65,2.65 0 1,0 5.30,0a2.65,2.65 0 1,0 -5.30,0M910.25,618.8a2.65,2.65 0 1,0 5.30,0a2.65,2.65 0 1,0 -5.30,0M960.05,616.2a2.65,2.65 0 1,0 5.30,0a2.65,2.65 0 1,0 -5.30,0M975.85,611.0a2.65,2.65 0 1,0 5.30,0a2.65,2.65 0 1,0 -5.30,0M977.55,616.2a2.65,2.65 0 1,0 5.30,0a2.65,2.65 0 1,0 -5.30,0M979.45,620.7a2.65,2.65 0 1,0 5.30,0a2.65,2.65 0 1,0 -5.30,0M965.85,620.1a2.65,2.65 0 1,0 5.30,0a2.65,2.65 0 1,0 -5.30,0M969.75,622.0a2.65,2.65 0 1,0 5.30,0a2.65,2.65 0 1,0 -5.30,0M929.65,622.0a2.65,2.65 0 1,0 5.30,0a2.65,2.65 0 1,0 -5.30,0M923.35,616.0a2.65,2.65 0 1,0 5.30,0a2.65,2.65 0 1,0 -5.30,0M905.35,616.0a2.65,2.65 0 1,0 5.30,0a2.65,2.65 0 1,0 -5.30,0M929.35,560.7a2.65,2.65 0 1,0 5.30,0a2.65,2.65 0 1,0 -5.30,0M962.95,566.8a2.65,2.65 0 1,0 5.30,0a2.65,2.65 0 1,0 -5.30,0M964.35,584.5a2.65,2.65 0 1,0 5.30,0a2.65,2.65 0 1,0 -5.30,0M938.45,586.7a2.65,2.65 0 1,0 5.30,0a2.65,2.65 0 1,0 -5.30,0M933.35,593.5a2.65,2.65 0 1,0 5.30,0a2.65,2.65 0 1,0 -5.30,0M933.35,596.3a2.65,2.65 0 1,0 5.30,0a2.65,2.65 0 1,0 -5.30,0M919.85,599.7a2.65,2.65 0 1,0 5.30,0a2.65,2.65 0 1,0 -5.30,0M959.35,596.9a2.65,2.65 0 1,0 5.30,0a2.65,2.65 0 1,0 -5.30,0M951.95,600.8a2.65,2.65 0 1,0 5.30,0a2.65,2.65 0 1,0 -5.30,0M953.15,603.6a2.65,2.65 0 1,0 5.30,0a2.65,2.65 0 1,0 -5.30,0M936.15,604.8a2.65,2.65 0 1,0 5.30,0a2.65,2.65 0 1,0 -5.30,0M959.85,604.2a2.65,2.65 0 1,0 5.30,0a2.65,2.65 0 1,0 -5.30,0M963.25,606.4a2.65,2.65 0 1,0 5.30,0a2.65,2.65 0 1,0 -5.30,0M957.65,608.7a2.65,2.65 0 1,0 5.30,0a2.65,2.65 0 1,0 -5.30,0M928.85,611.5a2.65,2.65 0 1,0 5.30,0a2.65,2.65 0 1,0 -5.30,0M920.35,612.7a2.65,2.65 0 1,0 5.30,0a2.65,2.65 0 1,0 -5.30,0M902.35,612.1a2.65,2.65 0 1,0 5.30,0a2.65,2.65 0 1,0 -5.30,0M936.75,613.2a2.65,2.65 0 1,0 5.30,0a2.65,2.65 0 1,0 -5.30,0M938.45,616.0a2.65,2.65 0 1,0 5.30,0a2.65,2.65 0 1,0 -5.30,0M975.65,611.0a2.65,2.65 0 1,0 5.30,0a2.65,2.65 0 1,0 -5.30,0M977.95,614.3a2.65,2.65 0 1,0 5.30,0a2.65,2.65 0 1,0 -5.30,0M979.05,618.9a2.65,2.65 0 1,0 5.30,0a2.65,2.65 0 1,0 -5.30,0M960.45,616.0a2.65,2.65 0 1,0 5.30,0a2.65,2.65 0 1,0 -5.30,0M912.45,615.5a2.65,2.65 0 1,0 5.30,0a2.65,2.65 0 1,0 -5.30,0M907.95,618.9a2.65,2.65 0 1,0 5.30,0a2.65,2.65 0 1,0 -5.30,0M953.35,606.0a2.65,2.65 0 1,0 5.30,0a2.65,2.65 0 1,0 -5.30,0M943.35,619.0a2.65,2.65 0 1,0 5.30,0a2.65,2.65 0 1,0 -5.30,0"/>
<path fill="#af4678" stroke="#af4678" stroke-width="1.4" d="M1029.85,619.5a2.65,2.65 0 1,0 5.30,0a2.65,2.65 0 1,0 -5.30,0M1038.55,609.9a2.65,2.65 0 1,0 5.30,0a2.65,2.65 0 1,0 -5.30,0M1040.35,615.1a2.65,2.65 0 1,0 5.30,0a2.65,2.65 0 1,0 -5.30,0M1047.35,616.0a2.65,2.65 0 1,0 5.30,0a2.65,2.65 0 1,0 -5.30,0M1045.55,621.2a2.65,2.65 0 1,0 5.30,0a2.65,2.65 0 1,0 -5.30,0M1049.05,622.1a2.65,2.65 0 1,0 5.30,0a2.65,2.65 0 1,0 -5.30,0M1055.25,617.7a2.65,2.65 0 1,0 5.30,0a2.65,2.65 0 1,0 -5.30,0M1057.35,611.2a2.65,2.65 0 1,0 5.30,0a2.65,2.65 0 1,0 -5.30,0M1061.35,620.4a2.65,2.65 0 1,0 5.30,0a2.65,2.65 0 1,0 -5.30,0M1064.85,623.0a2.65,2.65 0 1,0 5.30,0a2.65,2.65 0 1,0 -5.30,0M1067.45,620.4a2.65,2.65 0 1,0 5.30,0a2.65,2.65 0 1,0 -5.30,0M1071.85,613.4a2.65,2.65 0 1,0 5.30,0a2.65,2.65 0 1,0 -5.30,0M1074.45,616.0a2.65,2.65 0 1,0 5.30,0a2.65,2.65 0 1,0 -5.30,0M1077.05,606.4a2.65,2.65 0 1,0 5.30,0a2.65,2.65 0 1,0 -5.30,0M1079.75,609.9a2.65,2.65 0 1,0 5.30,0a2.65,2.65 0 1,0 -5.30,0M1082.35,612.5a2.65,2.65 0 1,0 5.30,0a2.65,2.65 0 1,0 -5.30,0M1075.35,620.4a2.65,2.65 0 1,0 5.30,0a2.65,2.65 0 1,0 -5.30,0M1081.45,601.1a2.65,2.65 0 1,0 5.30,0a2.65,2.65 0 1,0 -5.30,0M1087.55,598.5a2.65,2.65 0 1,0 5.30,0a2.65,2.65 0 1,0 -5.30,0M1091.05,606.4a2.65,2.65 0 1,0 5.30,0a2.65,2.65 0 1,0 -5.30,0M1084.05,623.0a2.65,2.65 0 1,0 5.30,0a2.65,2.65 0 1,0 -5.30,0M1087.55,621.2a2.65,2.65 0 1,0 5.30,0a2.65,2.65 0 1,0 -5.30,0M1091.05,623.0a2.65,2.65 0 1,0 5.30,0a2.65,2.65 0 1,0 -5.30,0M1098.05,616.0a2.65,2.65 0 1,0 5.30,0a2.65,2.65 0 1,0 -5.30,0M1100.75,617.7a2.65,2.65 0 1,0 5.30,0a2.65,2.65 0 1,0 -5.30,0M1104.65,612.5a2.65,2.65 0 1,0 5.30,0a2.65,2.65 0 1,0 -5.30,0M1103.35,623.9a2.65,2.65 0 1,0 5.30,0a2.65,2.65 0 1,0 -5.30,0M1111.25,621.2a2.65,2.65 0 1,0 5.30,0a2.65,2.65 0 1,0 -5.30,0M1115.55,622.1a2.65,2.65 0 1,0 5.30,0a2.65,2.65 0 1,0 -5.30,0M1119.05,621.2a2.65,2.65 0 1,0 5.30,0a2.65,2.65 0 1,0 -5.30,0M1121.25,608.6a2.65,2.65 0 1,0 5.30,0a2.65,2.65 0 1,0 -5.30,0M1124.35,614.2a2.65,2.65 0 1,0 5.30,0a2.65,2.65 0 1,0 -5.30,0M1126.05,617.7a2.65,2.65 0 1,0 5.30,0a2.65,2.65 0 1,0 -5.30,0M996.55,620.4a2.65,2.65 0 1,0 5.30,0a2.65,2.65 0 1,0 -5.30,0M1005.35,623.0a2.65,2.65 0 1,0 5.30,0a2.65,2.65 0 1,0 -5.30,0M1022.45,562.9a2.65,2.65 0 1,0 5.30,0a2.65,2.65 0 1,0 -5.30,0M1024.15,564.0a2.65,2.65 0 1,0 5.30,0a2.65,2.65 0 1,0 -5.30,0M994.25,573.6a2.65,2.65 0 1,0 5.30,0a2.65,2.65 0 1,0 -5.30,0M1077.25,569.7a2.65,2.65 0 1,0 5.30,0a2.65,2.65 0 1,0 -5.30,0M1033.25,582.7a2.65,2.65 0 1,0 5.30,0a2.65,2.65 0 1,0 -5.30,0M1070.85,585.2a2.65,2.65 0 1,0 5.30,0a2.65,2.65 0 1,0 -5.30,0M1080.95,588.3a2.65,2.65 0 1,0 5.30,0a2.65,2.65 0 1,0 -5.30,0M1048.45,596.8a2.65,2.65 0 1,0 5.30,0a2.65,2.65 0 1,0 -5.30,0M1051.25,595.6a2.65,2.65 0 1,0 5.30,0a2.65,2.65 0 1,0 -5.30,0M1046.15,598.5a2.65,2.65 0 1,0 5.30,0a2.65,2.65 0 1,0 -5.30,0M1048.45,600.1a2.65,2.65 0 1,0 5.30,0a2.65,2.65 0 1,0 -5.30,0M1087.35,598.1a2.65,2.65 0 1,0 5.30,0a2.65,2.65 0 1,0 -5.30,0M1080.95,600.7a2.65,2.65 0 1,0 5.30,0a2.65,2.65 0 1,0 -5.30,0M1090.75,606.4a2.65,2.65 0 1,0 5.30,0a2.65,2.65 0 1,0 -5.30,0M985.85,599.6a2.65,2.65 0 1,0 5.30,0a2.65,2.65 0 1,0 -5.30,0M982.95,605.8a2.65,2.65 0 1,0 5.30,0a2.65,2.65 0 1,0 -5.30,0M989.25,606.9a2.65,2.65 0 1,0 5.30,0a2.65,2.65 0 1,0 -5.30,0M990.35,608.6a2.65,2.65 0 1,0 5.30,0a2.65,2.65 0 1,0 -5.30,0M1026.75,609.0a2.65,2.65 0 1,0 5.30,0a2.65,2.65 0 1,0 -5.30,0M1039.65,609.7a2.65,2.65 0 1,0 5.30,0a2.65,2.65 0 1,0 -5.30,0M1040.55,613.7a2.65,2.65 0 1,0 5.30,0a2.65,2.65 0 1,0 -5.30,0M1042.85,616.0a2.65,2.65 0 1,0 5.30,0a2.65,2.65 0 1,0 -5.30,0M1057.75,610.9a2.65,2.65 0 1,0 5.30,0a2.65,2.65 0 1,0 -5.30,0M1076.65,606.9a2.65,2.65 0 1,0 5.30,0a2.65,2.65 0 1,0 -5.30,0M1079.45,609.7a2.65,2.65 0 1,0 5.30,0a2.65,2.65 0 1,0 -5.30,0M1082.85,612.6a2.65,2.65 0 1,0 5.30,0a2.65,2.65 0 1,0 -5.30,0M1072.15,613.7a2.65,2.65 0 1,0 5.30,0a2.65,2.65 0 1,0 -5.30,0M1074.45,616.0a2.65,2.65 0 1,0 5.30,0a2.65,2.65 0 1,0 -5.30,0M1121.25,608.0a2.65,2.65 0 1,0 5.30,0a2.65,2.65 0 1,0 -5.30,0M1104.85,612.6a2.65,2.65 0 1,0 5.30,0a2.65,2.65 0 1,0 -5.30,0M1099.25,616.5a2.65,2.65 0 1,0 5.30,0a2.65,2.65 0 1,0 -5.30,0M1124.05,615.4a2.65,2.65 0 1,0 5.30,0a2.65,2.65 0 1,0 -5.30,0M1047.35,616.5a2.65,2.65 0 1,0 5.30,0a2.65,2.65 0 1,0 -5.30,0M1055.25,617.6a2.65,2.65 0 1,0 5.30,0a2.65,2.65 0 1,0 -5.30,0M997.15,619.3a2.65,2.65 0 1,0 5.30,0a2.65,2.65 0 1,0 -5.30,0M1030.35,619.3a2.65,2.65 0 1,0 5.30,0a2.65,2.65 0 1,0 -5.30,0"/>
<path fill="#f462a8" d="M1029.85,619.5a2.65,2.65 0 1,0 5.30,0a2.65,2.65 0 1,0 -5.30,0M1038.55,609.9a2.65,2.65 0 1,0 5.30,0a2.65,2.65 0 1,0 -5.30,0M1040.35,615.1a2.65,2.65 0 1,0 5.30,0a2.65,2.65 0 1,0 -5.30,0M1047.35,616.0a2.65,2.65 0 1,0 5.30,0a2.65,2.65 0 1,0 -5.30,0M1045.55,621.2a2.65,2.65 0 1,0 5.30,0a2.65,2.65 0 1,0 -5.30,0M1049.05,622.1a2.65,2.65 0 1,0 5.30,0a2.65,2.65 0 1,0 -5.30,0M1055.25,617.7a2.65,2.65 0 1,0 5.30,0a2.65,2.65 0 1,0 -5.30,0M1057.35,611.2a2.65,2.65 0 1,0 5.30,0a2.65,2.65 0 1,0 -5.30,0M1061.35,620.4a2.65,2.65 0 1,0 5.30,0a2.65,2.65 0 1,0 -5.30,0M1064.85,623.0a2.65,2.65 0 1,0 5.30,0a2.65,2.65 0 1,0 -5.30,0M1067.45,620.4a2.65,2.65 0 1,0 5.30,0a2.65,2.65 0 1,0 -5.30,0M1071.85,613.4a2.65,2.65 0 1,0 5.30,0a2.65,2.65 0 1,0 -5.30,0M1074.45,616.0a2.65,2.65 0 1,0 5.30,0a2.65,2.65 0 1,0 -5.30,0M1077.05,606.4a2.65,2.65 0 1,0 5.30,0a2.65,2.65 0 1,0 -5.30,0M1079.75,609.9a2.65,2.65 0 1,0 5.30,0a2.65,2.65 0 1,0 -5.30,0M1082.35,612.5a2.65,2.65 0 1,0 5.30,0a2.65,2.65 0 1,0 -5.30,0M1075.35,620.4a2.65,2.65 0 1,0 5.30,0a2.65,2.65 0 1,0 -5.30,0M1081.45,601.1a2.65,2.65 0 1,0 5.30,0a2.65,2.65 0 1,0 -5.30,0M1087.55,598.5a2.65,2.65 0 1,0 5.30,0a2.65,2.65 0 1,0 -5.30,0M1091.05,606.4a2.65,2.65 0 1,0 5.30,0a2.65,2.65 0 1,0 -5.30,0M1084.05,623.0a2.65,2.65 0 1,0 5.30,0a2.65,2.65 0 1,0 -5.30,0M1087.55,621.2a2.65,2.65 0 1,0 5.30,0a2.65,2.65 0 1,0 -5.30,0M1091.05,623.0a2.65,2.65 0 1,0 5.30,0a2.65,2.65 0 1,0 -5.30,0M1098.05,616.0a2.65,2.65 0 1,0 5.30,0a2.65,2.65 0 1,0 -5.30,0M1100.75,617.7a2.65,2.65 0 1,0 5.30,0a2.65,2.65 0 1,0 -5.30,0M1104.65,612.5a2.65,2.65 0 1,0 5.30,0a2.65,2.65 0 1,0 -5.30,0M1103.35,623.9a2.65,2.65 0 1,0 5.30,0a2.65,2.65 0 1,0 -5.30,0M1111.25,621.2a2.65,2.65 0 1,0 5.30,0a2.65,2.65 0 1,0 -5.30,0M1115.55,622.1a2.65,2.65 0 1,0 5.30,0a2.65,2.65 0 1,0 -5.30,0M1119.05,621.2a2.65,2.65 0 1,0 5.30,0a2.65,2.65 0 1,0 -5.30,0M1121.25,608.6a2.65,2.65 0 1,0 5.30,0a2.65,2.65 0 1,0 -5.30,0M1124.35,614.2a2.65,2.65 0 1,0 5.30,0a2.65,2.65 0 1,0 -5.30,0M1126.05,617.7a2.65,2.65 0 1,0 5.30,0a2.65,2.65 0 1,0 -5.30,0M996.55,620.4a2.65,2.65 0 1,0 5.30,0a2.65,2.65 0 1,0 -5.30,0M1005.35,623.0a2.65,2.65 0 1,0 5.30,0a2.65,2.65 0 1,0 -5.30,0M1022.45,562.9a2.65,2.65 0 1,0 5.30,0a2.65,2.65 0 1,0 -5.30,0M1024.15,564.0a2.65,2.65 0 1,0 5.30,0a2.65,2.65 0 1,0 -5.30,0M994.25,573.6a2.65,2.65 0 1,0 5.30,0a2.65,2.65 0 1,0 -5.30,0M1077.25,569.7a2.65,2.65 0 1,0 5.30,0a2.65,2.65 0 1,0 -5.30,0M1033.25,582.7a2.65,2.65 0 1,0 5.30,0a2.65,2.65 0 1,0 -5.30,0M1070.85,585.2a2.65,2.65 0 1,0 5.30,0a2.65,2.65 0 1,0 -5.30,0M1080.95,588.3a2.65,2.65 0 1,0 5.30,0a2.65,2.65 0 1,0 -5.30,0M1048.45,596.8a2.65,2.65 0 1,0 5.30,0a2.65,2.65 0 1,0 -5.30,0M1051.25,595.6a2.65,2.65 0 1,0 5.30,0a2.65,2.65 0 1,0 -5.30,0M1046.15,598.5a2.65,2.65 0 1,0 5.30,0a2.65,2.65 0 1,0 -5.30,0M1048.45,600.1a2.65,2.65 0 1,0 5.30,0a2.65,2.65 0 1,0 -5.30,0M1087.35,598.1a2.65,2.65 0 1,0 5.30,0a2.65,2.65 0 1,0 -5.30,0M1080.95,600.7a2.65,2.65 0 1,0 5.30,0a2.65,2.65 0 1,0 -5.30,0M1090.75,606.4a2.65,2.65 0 1,0 5.30,0a2.65,2.65 0 1,0 -5.30,0M985.85,599.6a2.65,2.65 0 1,0 5.30,0a2.65,2.65 0 1,0 -5.30,0M982.95,605.8a2.65,2.65 0 1,0 5.30,0a2.65,2.65 0 1,0 -5.30,0M989.25,606.9a2.65,2.65 0 1,0 5.30,0a2.65,2.65 0 1,0 -5.30,0M990.35,608.6a2.65,2.65 0 1,0 5.30,0a2.65,2.65 0 1,0 -5.30,0M1026.75,609.0a2.65,2.65 0 1,0 5.30,0a2.65,2.65 0 1,0 -5.30,0M1039.65,609.7a2.65,2.65 0 1,0 5.30,0a2.65,2.65 0 1,0 -5.30,0M1040.55,613.7a2.65,2.65 0 1,0 5.30,0a2.65,2.65 0 1,0 -5.30,0M1042.85,616.0a2.65,2.65 0 1,0 5.30,0a2.65,2.65 0 1,0 -5.30,0M1057.75,610.9a2.65,2.65 0 1,0 5.30,0a2.65,2.65 0 1,0 -5.30,0M1076.65,606.9a2.65,2.65 0 1,0 5.30,0a2.65,2.65 0 1,0 -5.30,0M1079.45,609.7a2.65,2.65 0 1,0 5.30,0a2.65,2.65 0 1,0 -5.30,0M1082.85,612.6a2.65,2.65 0 1,0 5.30,0a2.65,2.65 0 1,0 -5.30,0M1072.15,613.7a2.65,2.65 0 1,0 5.30,0a2.65,2.65 0 1,0 -5.30,0M1074.45,616.0a2.65,2.65 0 1,0 5.30,0a2.65,2.65 0 1,0 -5.30,0M1121.25,608.0a2.65,2.65 0 1,0 5.30,0a2.65,2.65 0 1,0 -5.30,0M1104.85,612.6a2.65,2.65 0 1,0 5.30,0a2.65,2.65 0 1,0 -5.30,0M1099.25,616.5a2.65,2.65 0 1,0 5.30,0a2.65,2.65 0 1,0 -5.30,0M1124.05,615.4a2.65,2.65 0 1,0 5.30,0a2.65,2.65 0 1,0 -5.30,0M1047.35,616.5a2.65,2.65 0 1,0 5.30,0a2.65,2.65 0 1,0 -5.30,0M1055.25,617.6a2.65,2.65 0 1,0 5.30,0a2.65,2.65 0 1,0 -5.30,0M997.15,619.3a2.65,2.65 0 1,0 5.30,0a2.65,2.65 0 1,0 -5.30,0M1030.35,619.3a2.65,2.65 0 1,0 5.30,0a2.65,2.65 0 1,0 -5.30,0"/>
<path fill="#0c8b95" stroke="#0c8b95" stroke-width="1.4" d="M1158.85,608.4a2.65,2.65 0 1,0 5.30,0a2.65,2.65 0 1,0 -5.30,0M1174.15,615.6a2.65,2.65 0 1,0 5.30,0a2.65,2.65 0 1,0 -5.30,0M1185.25,612.3a2.65,2.65 0 1,0 5.30,0a2.65,2.65 0 1,0 -5.30,0M1192.85,620.9a2.65,2.65 0 1,0 5.30,0a2.65,2.65 0 1,0 -5.30,0M1241.85,617.1a2.65,2.65 0 1,0 5.30,0a2.65,2.65 0 1,0 -5.30,0M1244.75,608.9a2.65,2.65 0 1,0 5.30,0a2.65,2.65 0 1,0 -5.30,0M1250.95,620.9a2.65,2.65 0 1,0 5.30,0a2.65,2.65 0 1,0 -5.30,0M1189.15,602.2a2.65,2.65 0 1,0 5.30,0a2.65,2.65 0 1,0 -5.30,0M1159.65,608.1a2.65,2.65 0 1,0 5.30,0a2.65,2.65 0 1,0 -5.30,0M1185.05,612.0a2.65,2.65 0 1,0 5.30,0a2.65,2.65 0 1,0 -5.30,0M1186.65,616.0a2.65,2.65 0 1,0 5.30,0a2.65,2.65 0 1,0 -5.30,0M1174.25,616.0a2.65,2.65 0 1,0 5.30,0a2.65,2.65 0 1,0 -5.30,0M1192.35,621.0a2.65,2.65 0 1,0 5.30,0a2.65,2.65 0 1,0 -5.30,0M1249.95,604.1a2.65,2.65 0 1,0 5.30,0a2.65,2.65 0 1,0 -5.30,0M1253.25,605.8a2.65,2.65 0 1,0 5.30,0a2.65,2.65 0 1,0 -5.30,0M1244.85,609.2a2.65,2.65 0 1,0 5.30,0a2.65,2.65 0 1,0 -5.30,0M1265.45,610.1a2.65,2.65 0 1,0 5.30,0a2.65,2.65 0 1,0 -5.30,0M1241.45,617.1a2.65,2.65 0 1,0 5.30,0a2.65,2.65 0 1,0 -5.30,0M1233.55,619.9a2.65,2.65 0 1,0 5.30,0a2.65,2.65 0 1,0 -5.30,0M1250.85,621.0a2.65,2.65 0 1,0 5.30,0a2.65,2.65 0 1,0 -5.30,0M1283.75,617.1a2.65,2.65 0 1,0 5.30,0a2.65,2.65 0 1,0 -5.30,0M1147.35,617.6a2.65,2.65 0 1,0 5.30,0a2.65,2.65 0 1,0 -5.30,0M1160.75,611.4a2.65,2.65 0 1,0 5.30,0a2.65,2.65 0 1,0 -5.30,0M1159.05,608.0a2.65,2.65 0 1,0 5.30,0a2.65,2.65 0 1,0 -5.30,0"/>
<path fill="#12c2cf" d="M1158.85,608.4a2.65,2.65 0 1,0 5.30,0a2.65,2.65 0 1,0 -5.30,0M1174.15,615.6a2.65,2.65 0 1,0 5.30,0a2.65,2.65 0 1,0 -5.30,0M1185.25,612.3a2.65,2.65 0 1,0 5.30,0a2.65,2.65 0 1,0 -5.30,0M1192.85,620.9a2.65,2.65 0 1,0 5.30,0a2.65,2.65 0 1,0 -5.30,0M1241.85,617.1a2.65,2.65 0 1,0 5.30,0a2.65,2.65 0 1,0 -5.30,0M1244.75,608.9a2.65,2.65 0 1,0 5.30,0a2.65,2.65 0 1,0 -5.30,0M1250.95,620.9a2.65,2.65 0 1,0 5.30,0a2.65,2.65 0 1,0 -5.30,0M1189.15,602.2a2.65,2.65 0 1,0 5.30,0a2.65,2.65 0 1,0 -5.30,0M1159.65,608.1a2.65,2.65 0 1,0 5.30,0a2.65,2.65 0 1,0 -5.30,0M1185.05,612.0a2.65,2.65 0 1,0 5.30,0a2.65,2.65 0 1,0 -5.30,0M1186.65,616.0a2.65,2.65 0 1,0 5.30,0a2.65,2.65 0 1,0 -5.30,0M1174.25,616.0a2.65,2.65 0 1,0 5.30,0a2.65,2.65 0 1,0 -5.30,0M1192.35,621.0a2.65,2.65 0 1,0 5.30,0a2.65,2.65 0 1,0 -5.30,0M1249.95,604.1a2.65,2.65 0 1,0 5.30,0a2.65,2.65 0 1,0 -5.30,0M1253.25,605.8a2.65,2.65 0 1,0 5.30,0a2.65,2.65 0 1,0 -5.30,0M1244.85,609.2a2.65,2.65 0 1,0 5.30,0a2.65,2.65 0 1,0 -5.30,0M1265.45,610.1a2.65,2.65 0 1,0 5.30,0a2.65,2.65 0 1,0 -5.30,0M1241.45,617.1a2.65,2.65 0 1,0 5.30,0a2.65,2.65 0 1,0 -5.30,0M1233.55,619.9a2.65,2.65 0 1,0 5.30,0a2.65,2.65 0 1,0 -5.30,0M1250.85,621.0a2.65,2.65 0 1,0 5.30,0a2.65,2.65 0 1,0 -5.30,0M1283.75,617.1a2.65,2.65 0 1,0 5.30,0a2.65,2.65 0 1,0 -5.30,0M1147.35,617.6a2.65,2.65 0 1,0 5.30,0a2.65,2.65 0 1,0 -5.30,0M1160.75,611.4a2.65,2.65 0 1,0 5.30,0a2.65,2.65 0 1,0 -5.30,0M1159.05,608.0a2.65,2.65 0 1,0 5.30,0a2.65,2.65 0 1,0 -5.30,0"/>
<path fill="#b29700" stroke="#b29700" stroke-width="1.4" d="M1323.35,620.5a2.65,2.65 0 1,0 5.30,0a2.65,2.65 0 1,0 -5.30,0M1313.15,621.6a2.65,2.65 0 1,0 5.30,0a2.65,2.65 0 1,0 -5.30,0"/>
<path fill="#f8d200" d="M1323.35,620.5a2.65,2.65 0 1,0 5.30,0a2.65,2.65 0 1,0 -5.30,0M1313.15,621.6a2.65,2.65 0 1,0 5.30,0a2.65,2.65 0 1,0 -5.30,0"/>
<path fill="#009046" stroke="#009046" stroke-width="1.4" d="M1327.65,610.2a2.65,2.65 0 1,0 5.30,0a2.65,2.65 0 1,0 -5.30,0M1328.85,617.0a2.65,2.65 0 1,0 5.30,0a2.65,2.65 0 1,0 -5.30,0M1339.45,617.4a2.65,2.65 0 1,0 5.30,0a2.65,2.65 0 1,0 -5.30,0M1327.75,610.3a2.65,2.65 0 1,0 5.30,0a2.65,2.65 0 1,0 -5.30,0M1341.85,604.7a2.65,2.65 0 1,0 5.30,0a2.65,2.65 0 1,0 -5.30,0M1328.95,617.7a2.65,2.65 0 1,0 5.30,0a2.65,2.65 0 1,0 -5.30,0M1339.05,617.7a2.65,2.65 0 1,0 5.30,0a2.65,2.65 0 1,0 -5.30,0M1339.85,618.5a2.65,2.65 0 1,0 5.30,0a2.65,2.65 0 1,0 -5.30,0M1371.45,621.0a2.65,2.65 0 1,0 5.30,0a2.65,2.65 0 1,0 -5.30,0M1411.85,622.8a2.65,2.65 0 1,0 5.30,0a2.65,2.65 0 1,0 -5.30,0"/>
<path fill="#00c862" d="M1327.65,610.2a2.65,2.65 0 1,0 5.30,0a2.65,2.65 0 1,0 -5.30,0M1328.85,617.0a2.65,2.65 0 1,0 5.30,0a2.65,2.65 0 1,0 -5.30,0M1339.45,617.4a2.65,2.65 0 1,0 5.30,0a2.65,2.65 0 1,0 -5.30,0M1327.75,610.3a2.65,2.65 0 1,0 5.30,0a2.65,2.65 0 1,0 -5.30,0M1341.85,604.7a2.65,2.65 0 1,0 5.30,0a2.65,2.65 0 1,0 -5.30,0M1328.95,617.7a2.65,2.65 0 1,0 5.30,0a2.65,2.65 0 1,0 -5.30,0M1339.05,617.7a2.65,2.65 0 1,0 5.30,0a2.65,2.65 0 1,0 -5.30,0M1339.85,618.5a2.65,2.65 0 1,0 5.30,0a2.65,2.65 0 1,0 -5.30,0M1371.45,621.0a2.65,2.65 0 1,0 5.30,0a2.65,2.65 0 1,0 -5.30,0M1411.85,622.8a2.65,2.65 0 1,0 5.30,0a2.65,2.65 0 1,0 -5.30,0"/>
<path fill="#b05733" stroke="#b05733" stroke-width="1.4" d="M1436.25,596.9a2.65,2.65 0 1,0 5.30,0a2.65,2.65 0 1,0 -5.30,0M1439.35,597.2a2.65,2.65 0 1,0 5.30,0a2.65,2.65 0 1,0 -5.30,0M1449.65,593.8a2.65,2.65 0 1,0 5.30,0a2.65,2.65 0 1,0 -5.30,0M1445.85,599.5a2.65,2.65 0 1,0 5.30,0a2.65,2.65 0 1,0 -5.30,0M1454.95,598.4a2.65,2.65 0 1,0 5.30,0a2.65,2.65 0 1,0 -5.30,0M1442.05,607.1a2.65,2.65 0 1,0 5.30,0a2.65,2.65 0 1,0 -5.30,0M1459.15,608.7a2.65,2.65 0 1,0 5.30,0a2.65,2.65 0 1,0 -5.30,0M1476.65,615.1a2.65,2.65 0 1,0 5.30,0a2.65,2.65 0 1,0 -5.30,0M1481.35,621.2a2.65,2.65 0 1,0 5.30,0a2.65,2.65 0 1,0 -5.30,0M1435.45,596.8a2.65,2.65 0 1,0 5.30,0a2.65,2.65 0 1,0 -5.30,0M1439.15,596.8a2.65,2.65 0 1,0 5.30,0a2.65,2.65 0 1,0 -5.30,0M1449.75,593.7a2.65,2.65 0 1,0 5.30,0a2.65,2.65 0 1,0 -5.30,0M1445.95,599.2a2.65,2.65 0 1,0 5.30,0a2.65,2.65 0 1,0 -5.30,0M1454.65,598.0a2.65,2.65 0 1,0 5.30,0a2.65,2.65 0 1,0 -5.30,0M1440.35,606.7a2.65,2.65 0 1,0 5.30,0a2.65,2.65 0 1,0 -5.30,0M1443.45,608.6a2.65,2.65 0 1,0 5.30,0a2.65,2.65 0 1,0 -5.30,0M1459.65,608.6a2.65,2.65 0 1,0 5.30,0a2.65,2.65 0 1,0 -5.30,0M1456.55,611.7a2.65,2.65 0 1,0 5.30,0a2.65,2.65 0 1,0 -5.30,0M1442.25,616.0a2.65,2.65 0 1,0 5.30,0a2.65,2.65 0 1,0 -5.30,0M1447.25,615.4a2.65,2.65 0 1,0 5.30,0a2.65,2.65 0 1,0 -5.30,0M1429.25,618.5a2.65,2.65 0 1,0 5.30,0a2.65,2.65 0 1,0 -5.30,0M1450.95,621.0a2.65,2.65 0 1,0 5.30,0a2.65,2.65 0 1,0 -5.30,0M1477.05,615.4a2.65,2.65 0 1,0 5.30,0a2.65,2.65 0 1,0 -5.30,0M1509.25,597.4a2.65,2.65 0 1,0 5.30,0a2.65,2.65 0 1,0 -5.30,0M1514.85,593.0a2.65,2.65 0 1,0 5.30,0a2.65,2.65 0 1,0 -5.30,0M1536.65,595.9a2.65,2.65 0 1,0 5.30,0a2.65,2.65 0 1,0 -5.30,0M1485.05,622.2a2.65,2.65 0 1,0 5.30,0a2.65,2.65 0 1,0 -5.30,0M1521.05,617.2a2.65,2.65 0 1,0 5.30,0a2.65,2.65 0 1,0 -5.30,0M1509.95,617.9a2.65,2.65 0 1,0 5.30,0a2.65,2.65 0 1,0 -5.30,0"/>
<path fill="#f57a48" d="M1436.25,596.9a2.65,2.65 0 1,0 5.30,0a2.65,2.65 0 1,0 -5.30,0M1439.35,597.2a2.65,2.65 0 1,0 5.30,0a2.65,2.65 0 1,0 -5.30,0M1449.65,593.8a2.65,2.65 0 1,0 5.30,0a2.65,2.65 0 1,0 -5.30,0M1445.85,599.5a2.65,2.65 0 1,0 5.30,0a2.65,2.65 0 1,0 -5.30,0M1454.95,598.4a2.65,2.65 0 1,0 5.30,0a2.65,2.65 0 1,0 -5.30,0M1442.05,607.1a2.65,2.65 0 1,0 5.30,0a2.65,2.65 0 1,0 -5.30,0M1459.15,608.7a2.65,2.65 0 1,0 5.30,0a2.65,2.65 0 1,0 -5.30,0M1476.65,615.1a2.65,2.65 0 1,0 5.30,0a2.65,2.65 0 1,0 -5.30,0M1481.35,621.2a2.65,2.65 0 1,0 5.30,0a2.65,2.65 0 1,0 -5.30,0M1435.45,596.8a2.65,2.65 0 1,0 5.30,0a2.65,2.65 0 1,0 -5.30,0M1439.15,596.8a2.65,2.65 0 1,0 5.30,0a2.65,2.65 0 1,0 -5.30,0M1449.75,593.7a2.65,2.65 0 1,0 5.30,0a2.65,2.65 0 1,0 -5.30,0M1445.95,599.2a2.65,2.65 0 1,0 5.30,0a2.65,2.65 0 1,0 -5.30,0M1454.65,598.0a2.65,2.65 0 1,0 5.30,0a2.65,2.65 0 1,0 -5.30,0M1440.35,606.7a2.65,2.65 0 1,0 5.30,0a2.65,2.65 0 1,0 -5.30,0M1443.45,608.6a2.65,2.65 0 1,0 5.30,0a2.65,2.65 0 1,0 -5.30,0M1459.65,608.6a2.65,2.65 0 1,0 5.30,0a2.65,2.65 0 1,0 -5.30,0M1456.55,611.7a2.65,2.65 0 1,0 5.30,0a2.65,2.65 0 1,0 -5.30,0M1442.25,616.0a2.65,2.65 0 1,0 5.30,0a2.65,2.65 0 1,0 -5.30,0M1447.25,615.4a2.65,2.65 0 1,0 5.30,0a2.65,2.65 0 1,0 -5.30,0M1429.25,618.5a2.65,2.65 0 1,0 5.30,0a2.65,2.65 0 1,0 -5.30,0M1450.95,621.0a2.65,2.65 0 1,0 5.30,0a2.65,2.65 0 1,0 -5.30,0M1477.05,615.4a2.65,2.65 0 1,0 5.30,0a2.65,2.65 0 1,0 -5.30,0M1509.25,597.4a2.65,2.65 0 1,0 5.30,0a2.65,2.65 0 1,0 -5.30,0M1514.85,593.0a2.65,2.65 0 1,0 5.30,0a2.65,2.65 0 1,0 -5.30,0M1536.65,595.9a2.65,2.65 0 1,0 5.30,0a2.65,2.65 0 1,0 -5.30,0M1485.05,622.2a2.65,2.65 0 1,0 5.30,0a2.65,2.65 0 1,0 -5.30,0M1521.05,617.2a2.65,2.65 0 1,0 5.30,0a2.65,2.65 0 1,0 -5.30,0M1509.95,617.9a2.65,2.65 0 1,0 5.30,0a2.65,2.65 0 1,0 -5.30,0"/>
<path fill="#1e633d" stroke="#1e633d" stroke-width="1.4" d="M1592.55,612.7a2.65,2.65 0 1,0 5.30,0a2.65,2.65 0 1,0 -5.30,0M1600.05,610.4a2.65,2.65 0 1,0 5.30,0a2.65,2.65 0 1,0 -5.30,0M1604.65,612.7a2.65,2.65 0 1,0 5.30,0a2.65,2.65 0 1,0 -5.30,0M1600.95,614.6a2.65,2.65 0 1,0 5.30,0a2.65,2.65 0 1,0 -5.30,0M1613.55,607.1a2.65,2.65 0 1,0 5.30,0a2.65,2.65 0 1,0 -5.30,0M1614.95,615.0a2.65,2.65 0 1,0 5.30,0a2.65,2.65 0 1,0 -5.30,0M1628.45,604.8a2.65,2.65 0 1,0 5.30,0a2.65,2.65 0 1,0 -5.30,0M1595.85,619.2a2.65,2.65 0 1,0 5.30,0a2.65,2.65 0 1,0 -5.30,0M1603.75,618.3a2.65,2.65 0 1,0 5.30,0a2.65,2.65 0 1,0 -5.30,0M1607.45,621.1a2.65,2.65 0 1,0 5.30,0a2.65,2.65 0 1,0 -5.30,0M1610.25,622.9a2.65,2.65 0 1,0 5.30,0a2.65,2.65 0 1,0 -5.30,0M1616.85,622.0a2.65,2.65 0 1,0 5.30,0a2.65,2.65 0 1,0 -5.30,0M1618.65,624.8a2.65,2.65 0 1,0 5.30,0a2.65,2.65 0 1,0 -5.30,0M1623.35,625.7a2.65,2.65 0 1,0 5.30,0a2.65,2.65 0 1,0 -5.30,0M1614.55,545.4a2.65,2.65 0 1,0 5.30,0a2.65,2.65 0 1,0 -5.30,0M1587.35,576.1a2.65,2.65 0 1,0 5.30,0a2.65,2.65 0 1,0 -5.30,0M1611.85,582.7a2.65,2.65 0 1,0 5.30,0a2.65,2.65 0 1,0 -5.30,0M1595.05,589.5a2.65,2.65 0 1,0 5.30,0a2.65,2.65 0 1,0 -5.30,0M1590.15,592.9a2.65,2.65 0 1,0 5.30,0a2.65,2.65 0 1,0 -5.30,0M1588.25,596.0a2.65,2.65 0 1,0 5.30,0a2.65,2.65 0 1,0 -5.30,0M1590.75,599.5a2.65,2.65 0 1,0 5.30,0a2.65,2.65 0 1,0 -5.30,0M1627.75,596.0a2.65,2.65 0 1,0 5.30,0a2.65,2.65 0 1,0 -5.30,0M1628.95,604.7a2.65,2.65 0 1,0 5.30,0a2.65,2.65 0 1,0 -5.30,0M1613.35,607.5a2.65,2.65 0 1,0 5.30,0a2.65,2.65 0 1,0 -5.30,0M1592.55,612.8a2.65,2.65 0 1,0 5.30,0a2.65,2.65 0 1,0 -5.30,0M1600.65,610.9a2.65,2.65 0 1,0 5.30,0a2.65,2.65 0 1,0 -5.30,0M1604.35,612.8a2.65,2.65 0 1,0 5.30,0a2.65,2.65 0 1,0 -5.30,0M1606.25,615.2a2.65,2.65 0 1,0 5.30,0a2.65,2.65 0 1,0 -5.30,0M1614.95,615.2a2.65,2.65 0 1,0 5.30,0a2.65,2.65 0 1,0 -5.30,0M1596.35,618.5a2.65,2.65 0 1,0 5.30,0a2.65,2.65 0 1,0 -5.30,0M1602.35,619.0a2.65,2.65 0 1,0 5.30,0a2.65,2.65 0 1,0 -5.30,0M1608.35,618.0a2.65,2.65 0 1,0 5.30,0a2.65,2.65 0 1,0 -5.30,0M1611.35,621.0a2.65,2.65 0 1,0 5.30,0a2.65,2.65 0 1,0 -5.30,0M1616.35,622.0a2.65,2.65 0 1,0 5.30,0a2.65,2.65 0 1,0 -5.30,0M1599.35,622.0a2.65,2.65 0 1,0 5.30,0a2.65,2.65 0 1,0 -5.30,0"/>
<path fill="#2a8a55" d="M1592.55,612.7a2.65,2.65 0 1,0 5.30,0a2.65,2.65 0 1,0 -5.30,0M1600.05,610.4a2.65,2.65 0 1,0 5.30,0a2.65,2.65 0 1,0 -5.30,0M1604.65,612.7a2.65,2.65 0 1,0 5.30,0a2.65,2.65 0 1,0 -5.30,0M1600.95,614.6a2.65,2.65 0 1,0 5.30,0a2.65,2.65 0 1,0 -5.30,0M1613.55,607.1a2.65,2.65 0 1,0 5.30,0a2.65,2.65 0 1,0 -5.30,0M1614.95,615.0a2.65,2.65 0 1,0 5.30,0a2.65,2.65 0 1,0 -5.30,0M1628.45,604.8a2.65,2.65 0 1,0 5.30,0a2.65,2.65 0 1,0 -5.30,0M1595.85,619.2a2.65,2.65 0 1,0 5.30,0a2.65,2.65 0 1,0 -5.30,0M1603.75,618.3a2.65,2.65 0 1,0 5.30,0a2.65,2.65 0 1,0 -5.30,0M1607.45,621.1a2.65,2.65 0 1,0 5.30,0a2.65,2.65 0 1,0 -5.30,0M1610.25,622.9a2.65,2.65 0 1,0 5.30,0a2.65,2.65 0 1,0 -5.30,0M1616.85,622.0a2.65,2.65 0 1,0 5.30,0a2.65,2.65 0 1,0 -5.30,0M1618.65,624.8a2.65,2.65 0 1,0 5.30,0a2.65,2.65 0 1,0 -5.30,0M1623.35,625.7a2.65,2.65 0 1,0 5.30,0a2.65,2.65 0 1,0 -5.30,0M1614.55,545.4a2.65,2.65 0 1,0 5.30,0a2.65,2.65 0 1,0 -5.30,0M1587.35,576.1a2.65,2.65 0 1,0 5.30,0a2.65,2.65 0 1,0 -5.30,0M1611.85,582.7a2.65,2.65 0 1,0 5.30,0a2.65,2.65 0 1,0 -5.30,0M1595.05,589.5a2.65,2.65 0 1,0 5.30,0a2.65,2.65 0 1,0 -5.30,0M1590.15,592.9a2.65,2.65 0 1,0 5.30,0a2.65,2.65 0 1,0 -5.30,0M1588.25,596.0a2.65,2.65 0 1,0 5.30,0a2.65,2.65 0 1,0 -5.30,0M1590.75,599.5a2.65,2.65 0 1,0 5.30,0a2.65,2.65 0 1,0 -5.30,0M1627.75,596.0a2.65,2.65 0 1,0 5.30,0a2.65,2.65 0 1,0 -5.30,0M1628.95,604.7a2.65,2.65 0 1,0 5.30,0a2.65,2.65 0 1,0 -5.30,0M1613.35,607.5a2.65,2.65 0 1,0 5.30,0a2.65,2.65 0 1,0 -5.30,0M1592.55,612.8a2.65,2.65 0 1,0 5.30,0a2.65,2.65 0 1,0 -5.30,0M1600.65,610.9a2.65,2.65 0 1,0 5.30,0a2.65,2.65 0 1,0 -5.30,0M1604.35,612.8a2.65,2.65 0 1,0 5.30,0a2.65,2.65 0 1,0 -5.30,0M1606.25,615.2a2.65,2.65 0 1,0 5.30,0a2.65,2.65 0 1,0 -5.30,0M1614.95,615.2a2.65,2.65 0 1,0 5.30,0a2.65,2.65 0 1,0 -5.30,0M1596.35,618.5a2.65,2.65 0 1,0 5.30,0a2.65,2.65 0 1,0 -5.30,0M1602.35,619.0a2.65,2.65 0 1,0 5.30,0a2.65,2.65 0 1,0 -5.30,0M1608.35,618.0a2.65,2.65 0 1,0 5.30,0a2.65,2.65 0 1,0 -5.30,0M1611.35,621.0a2.65,2.65 0 1,0 5.30,0a2.65,2.65 0 1,0 -5.30,0M1616.35,622.0a2.65,2.65 0 1,0 5.30,0a2.65,2.65 0 1,0 -5.30,0M1599.35,622.0a2.65,2.65 0 1,0 5.30,0a2.65,2.65 0 1,0 -5.30,0"/>
<path fill="#9c0f66" stroke="#9c0f66" stroke-width="1.4" d="M1658.65,598.3a2.65,2.65 0 1,0 5.30,0a2.65,2.65 0 1,0 -5.30,0M1647.05,612.2a2.65,2.65 0 1,0 5.30,0a2.65,2.65 0 1,0 -5.30,0M1643.85,616.0a2.65,2.65 0 1,0 5.30,0a2.65,2.65 0 1,0 -5.30,0M1650.75,617.3a2.65,2.65 0 1,0 5.30,0a2.65,2.65 0 1,0 -5.30,0M1660.05,612.7a2.65,2.65 0 1,0 5.30,0a2.65,2.65 0 1,0 -5.30,0M1668.95,616.0a2.65,2.65 0 1,0 5.30,0a2.65,2.65 0 1,0 -5.30,0M1695.05,613.6a2.65,2.65 0 1,0 5.30,0a2.65,2.65 0 1,0 -5.30,0M1727.15,607.6a2.65,2.65 0 1,0 5.30,0a2.65,2.65 0 1,0 -5.30,0M1735.95,616.0a2.65,2.65 0 1,0 5.30,0a2.65,2.65 0 1,0 -5.30,0M1737.85,615.0a2.65,2.65 0 1,0 5.30,0a2.65,2.65 0 1,0 -5.30,0M1731.35,622.5a2.65,2.65 0 1,0 5.30,0a2.65,2.65 0 1,0 -5.30,0M1713.05,577.4a2.65,2.65 0 1,0 5.30,0a2.65,2.65 0 1,0 -5.30,0M1726.35,585.4a2.65,2.65 0 1,0 5.30,0a2.65,2.65 0 1,0 -5.30,0M1654.65,586.7a2.65,2.65 0 1,0 5.30,0a2.65,2.65 0 1,0 -5.30,0M1689.85,588.0a2.65,2.65 0 1,0 5.30,0a2.65,2.65 0 1,0 -5.30,0M1700.25,591.9a2.65,2.65 0 1,0 5.30,0a2.65,2.65 0 1,0 -5.30,0M1711.75,592.0a2.65,2.65 0 1,0 5.30,0a2.65,2.65 0 1,0 -5.30,0M1658.35,598.2a2.65,2.65 0 1,0 5.30,0a2.65,2.65 0 1,0 -5.30,0M1701.45,600.7a2.65,2.65 0 1,0 5.30,0a2.65,2.65 0 1,0 -5.30,0M1703.95,607.4a2.65,2.65 0 1,0 5.30,0a2.65,2.65 0 1,0 -5.30,0M1727.35,607.4a2.65,2.65 0 1,0 5.30,0a2.65,2.65 0 1,0 -5.30,0M1718.65,610.9a2.65,2.65 0 1,0 5.30,0a2.65,2.65 0 1,0 -5.30,0M1717.35,613.6a2.65,2.65 0 1,0 5.30,0a2.65,2.65 0 1,0 -5.30,0M1659.65,612.5a2.65,2.65 0 1,0 5.30,0a2.65,2.65 0 1,0 -5.30,0M1646.55,612.1a2.65,2.65 0 1,0 5.30,0a2.65,2.65 0 1,0 -5.30,0M1644.15,616.1a2.65,2.65 0 1,0 5.30,0a2.65,2.65 0 1,0 -5.30,0M1650.35,617.1a2.65,2.65 0 1,0 5.30,0a2.65,2.65 0 1,0 -5.30,0M1695.05,613.6a2.65,2.65 0 1,0 5.30,0a2.65,2.65 0 1,0 -5.30,0M1668.65,616.5a2.65,2.65 0 1,0 5.30,0a2.65,2.65 0 1,0 -5.30,0M1737.85,614.9a2.65,2.65 0 1,0 5.30,0a2.65,2.65 0 1,0 -5.30,0M1735.35,616.5a2.65,2.65 0 1,0 5.30,0a2.65,2.65 0 1,0 -5.30,0M1633.95,618.3a2.65,2.65 0 1,0 5.30,0a2.65,2.65 0 1,0 -5.30,0M1633.55,620.8a2.65,2.65 0 1,0 5.30,0a2.65,2.65 0 1,0 -5.30,0M1731.05,622.1a2.65,2.65 0 1,0 5.30,0a2.65,2.65 0 1,0 -5.30,0"/>
<path fill="#d9168e" d="M1658.65,598.3a2.65,2.65 0 1,0 5.30,0a2.65,2.65 0 1,0 -5.30,0M1647.05,612.2a2.65,2.65 0 1,0 5.30,0a2.65,2.65 0 1,0 -5.30,0M1643.85,616.0a2.65,2.65 0 1,0 5.30,0a2.65,2.65 0 1,0 -5.30,0M1650.75,617.3a2.65,2.65 0 1,0 5.30,0a2.65,2.65 0 1,0 -5.30,0M1660.05,612.7a2.65,2.65 0 1,0 5.30,0a2.65,2.65 0 1,0 -5.30,0M1668.95,616.0a2.65,2.65 0 1,0 5.30,0a2.65,2.65 0 1,0 -5.30,0M1695.05,613.6a2.65,2.65 0 1,0 5.30,0a2.65,2.65 0 1,0 -5.30,0M1727.15,607.6a2.65,2.65 0 1,0 5.30,0a2.65,2.65 0 1,0 -5.30,0M1735.95,616.0a2.65,2.65 0 1,0 5.30,0a2.65,2.65 0 1,0 -5.30,0M1737.85,615.0a2.65,2.65 0 1,0 5.30,0a2.65,2.65 0 1,0 -5.30,0M1731.35,622.5a2.65,2.65 0 1,0 5.30,0a2.65,2.65 0 1,0 -5.30,0M1713.05,577.4a2.65,2.65 0 1,0 5.30,0a2.65,2.65 0 1,0 -5.30,0M1726.35,585.4a2.65,2.65 0 1,0 5.30,0a2.65,2.65 0 1,0 -5.30,0M1654.65,586.7a2.65,2.65 0 1,0 5.30,0a2.65,2.65 0 1,0 -5.30,0M1689.85,588.0a2.65,2.65 0 1,0 5.30,0a2.65,2.65 0 1,0 -5.30,0M1700.25,591.9a2.65,2.65 0 1,0 5.30,0a2.65,2.65 0 1,0 -5.30,0M1711.75,592.0a2.65,2.65 0 1,0 5.30,0a2.65,2.65 0 1,0 -5.30,0M1658.35,598.2a2.65,2.65 0 1,0 5.30,0a2.65,2.65 0 1,0 -5.30,0M1701.45,600.7a2.65,2.65 0 1,0 5.30,0a2.65,2.65 0 1,0 -5.30,0M1703.95,607.4a2.65,2.65 0 1,0 5.30,0a2.65,2.65 0 1,0 -5.30,0M1727.35,607.4a2.65,2.65 0 1,0 5.30,0a2.65,2.65 0 1,0 -5.30,0M1718.65,610.9a2.65,2.65 0 1,0 5.30,0a2.65,2.65 0 1,0 -5.30,0M1717.35,613.6a2.65,2.65 0 1,0 5.30,0a2.65,2.65 0 1,0 -5.30,0M1659.65,612.5a2.65,2.65 0 1,0 5.30,0a2.65,2.65 0 1,0 -5.30,0M1646.55,612.1a2.65,2.65 0 1,0 5.30,0a2.65,2.65 0 1,0 -5.30,0M1644.15,616.1a2.65,2.65 0 1,0 5.30,0a2.65,2.65 0 1,0 -5.30,0M1650.35,617.1a2.65,2.65 0 1,0 5.30,0a2.65,2.65 0 1,0 -5.30,0M1695.05,613.6a2.65,2.65 0 1,0 5.30,0a2.65,2.65 0 1,0 -5.30,0M1668.65,616.5a2.65,2.65 0 1,0 5.30,0a2.65,2.65 0 1,0 -5.30,0M1737.85,614.9a2.65,2.65 0 1,0 5.30,0a2.65,2.65 0 1,0 -5.30,0M1735.35,616.5a2.65,2.65 0 1,0 5.30,0a2.65,2.65 0 1,0 -5.30,0M1633.95,618.3a2.65,2.65 0 1,0 5.30,0a2.65,2.65 0 1,0 -5.30,0M1633.55,620.8a2.65,2.65 0 1,0 5.30,0a2.65,2.65 0 1,0 -5.30,0M1731.05,622.1a2.65,2.65 0 1,0 5.30,0a2.65,2.65 0 1,0 -5.30,0"/>
</g>
<path d="M500.9,507.6L520.6,500.2M579.8,502.3L545,516.2" stroke="#111" stroke-width="1.4" fill="none"/>
<path d="M73.0,8.5V631M72.3,631H1756.5" stroke="#000" stroke-width="1.7" fill="none"/>
<path d="M66.5,630.00H73.0M66.5,615.20H73.0M66.5,600.40H73.0M66.5,585.61H73.0M66.5,570.81H73.0M66.5,556.01H73.0M66.5,541.22H73.0M66.5,526.42H73.0M66.5,511.62H73.0M66.5,496.82H73.0M66.5,482.02H73.0M66.5,467.23H73.0M66.5,452.43H73.0M66.5,437.63H73.0M66.5,422.84H73.0M66.5,408.04H73.0M66.5,393.24H73.0M66.5,378.44H73.0M66.5,363.65H73.0M66.5,348.85H73.0M66.5,334.05H73.0M66.5,319.25H73.0M66.5,304.46H73.0M66.5,289.66H73.0M66.5,274.86H73.0M66.5,260.06H73.0M66.5,245.27H73.0M66.5,230.47H73.0M66.5,215.67H73.0M66.5,200.87H73.0M66.5,186.08H73.0M66.5,171.28H73.0M66.5,156.48H73.0M66.5,141.68H73.0M66.5,126.89H73.0M66.5,112.09H73.0M66.5,97.29H73.0M66.5,82.49H73.0M66.5,67.70H73.0M66.5,52.90H73.0M66.5,38.10H73.0M66.5,23.30H73.0M66.5,8.50H73.0M119.8,631V634.8M213.4,631V634.8M351.5,631V634.8M455.8,631V634.8M519.4,631V634.8M594.6,631V634.8M689.2,631V634.8M825.5,631V634.8M942.2,631V634.8M1056.6,631V634.8M1210.8,631V634.8M1311.0,631V634.8M1374.6,631V634.8M1479.7,631V634.8M1565.2,631V634.8M1611.0,631V634.8M1687.2,631V634.8" stroke="#111" stroke-width="1.5" fill="none"/>
<g font-size="15.8" fill="#1e1e1e" stroke="#1e1e1e" stroke-width="0.15" text-anchor="end">
<text x="62.8" y="637.30" textLength="8.80" lengthAdjust="spacingAndGlyphs">0</text><text x="62.8" y="622.50" textLength="8.80" lengthAdjust="spacingAndGlyphs">5</text><text x="62.8" y="607.70" textLength="17.60" lengthAdjust="spacingAndGlyphs">10</text><text x="62.8" y="592.91" textLength="17.60" lengthAdjust="spacingAndGlyphs">15</text><text x="62.8" y="578.11" textLength="17.60" lengthAdjust="spacingAndGlyphs">20</text><text x="62.8" y="563.31" textLength="17.60" lengthAdjust="spacingAndGlyphs">25</text><text x="62.8" y="548.51" textLength="17.60" lengthAdjust="spacingAndGlyphs">30</text><text x="62.8" y="533.72" textLength="17.60" lengthAdjust="spacingAndGlyphs">35</text><text x="62.8" y="518.92" textLength="17.60" lengthAdjust="spacingAndGlyphs">40</text><text x="62.8" y="504.12" textLength="17.60" lengthAdjust="spacingAndGlyphs">45</text><text x="62.8" y="489.32" textLength="17.60" lengthAdjust="spacingAndGlyphs">50</text><text x="62.8" y="474.53" textLength="17.60" lengthAdjust="spacingAndGlyphs">55</text><text x="62.8" y="459.73" textLength="17.60" lengthAdjust="spacingAndGlyphs">60</text><text x="62.8" y="444.93" textLength="17.60" lengthAdjust="spacingAndGlyphs">65</text><text x="62.8" y="430.14" textLength="17.60" lengthAdjust="spacingAndGlyphs">70</text><text x="62.8" y="415.34" textLength="17.60" lengthAdjust="spacingAndGlyphs">75</text><text x="62.8" y="400.54" textLength="17.60" lengthAdjust="spacingAndGlyphs">80</text><text x="62.8" y="385.74" textLength="17.60" lengthAdjust="spacingAndGlyphs">85</text><text x="62.8" y="370.95" textLength="17.60" lengthAdjust="spacingAndGlyphs">90</text><text x="62.8" y="356.15" textLength="17.60" lengthAdjust="spacingAndGlyphs">95</text><text x="62.8" y="341.35" textLength="26.40" lengthAdjust="spacingAndGlyphs">100</text><text x="62.8" y="326.55" textLength="26.40" lengthAdjust="spacingAndGlyphs">105</text><text x="62.8" y="311.76" textLength="26.40" lengthAdjust="spacingAndGlyphs">110</text><text x="62.8" y="296.96" textLength="26.40" lengthAdjust="spacingAndGlyphs">115</text><text x="62.8" y="282.16" textLength="26.40" lengthAdjust="spacingAndGlyphs">120</text><text x="62.8" y="267.36" textLength="26.40" lengthAdjust="spacingAndGlyphs">125</text><text x="62.8" y="252.57" textLength="26.40" lengthAdjust="spacingAndGlyphs">130</text><text x="62.8" y="237.77" textLength="26.40" lengthAdjust="spacingAndGlyphs">135</text><text x="62.8" y="222.97" textLength="26.40" lengthAdjust="spacingAndGlyphs">140</text><text x="62.8" y="208.17" textLength="26.40" lengthAdjust="spacingAndGlyphs">145</text><text x="62.8" y="193.38" textLength="26.40" lengthAdjust="spacingAndGlyphs">150</text><text x="62.8" y="178.58" textLength="26.40" lengthAdjust="spacingAndGlyphs">155</text><text x="62.8" y="163.78" textLength="26.40" lengthAdjust="spacingAndGlyphs">160</text><text x="62.8" y="148.98" textLength="26.40" lengthAdjust="spacingAndGlyphs">165</text><text x="62.8" y="134.19" textLength="26.40" lengthAdjust="spacingAndGlyphs">170</text><text x="62.8" y="119.39" textLength="26.40" lengthAdjust="spacingAndGlyphs">175</text><text x="62.8" y="104.59" textLength="26.40" lengthAdjust="spacingAndGlyphs">180</text><text x="62.8" y="89.79" textLength="26.40" lengthAdjust="spacingAndGlyphs">185</text><text x="62.8" y="75.00" textLength="26.40" lengthAdjust="spacingAndGlyphs">190</text><text x="62.8" y="60.20" textLength="26.40" lengthAdjust="spacingAndGlyphs">195</text><text x="62.8" y="45.40" textLength="26.40" lengthAdjust="spacingAndGlyphs">200</text><text x="62.8" y="30.60" textLength="26.40" lengthAdjust="spacingAndGlyphs">205</text><text x="62.8" y="15.80" textLength="26.40" lengthAdjust="spacingAndGlyphs">210</text>
</g>
<g font-size="16.6" fill="#1e1e1e" stroke="#1e1e1e" stroke-width="0.4" clip-path="url(#rc)">
<text transform="translate(111.8,651) rotate(40)">infectious diseases</text>
<text transform="translate(205.4,651) rotate(40)">neoplasms</text>
<text transform="translate(343.5,651) rotate(40)">endocrine/metabolic</text>
<text transform="translate(447.8,651) rotate(40)">hematopoietic</text>
<text transform="translate(511.4,651) rotate(40)">mental disorders</text>
<text transform="translate(586.6,651) rotate(40)">neurological</text>
<text transform="translate(681.2,651) rotate(40)">sense organs</text>
<text transform="translate(817.5,651) rotate(40)">circulatory system</text>
<text transform="translate(934.2,651) rotate(40)">respiratory</text>
<text transform="translate(1048.6,651) rotate(40)">digestive</text>
<text transform="translate(1202.8,651) rotate(40)">genitourinary</text>
<text transform="translate(1303.0,651) rotate(40)">pregnancy complications</text>
<text transform="translate(1366.6,651) rotate(40)">dermatologic</text>
<text transform="translate(1471.7,651) rotate(40)">musculoskeletal</text>
<text transform="translate(1557.2,651) rotate(40)">congenital anomalies</text>
<text transform="translate(1603.0,651) rotate(40)">symptoms</text>
<text transform="translate(1679.2,651) rotate(40)" clip-path="url(#ic)">injuries &amp; poisonings</text>
</g>
<g font-size="17.0" fill="#1e1e1e" stroke="#1e1e1e" stroke-width="0.45" style="white-space:pre">
<text x="343.10 357.17 366.21 370.23 379.28 385.31 390.34 399.38 408.43 417.47 423.50 432.55 440.59 448.63 452.65 460.69 469.73 474.76 483.80 487.83 495.87 504.91 510.94 519.99 529.03 535.06 540.09 545.11 558.18 570.24 575.26 580.29 589.33 594.36 603.41" y="32.0" xml:space="preserve">Major depressive disorder  OR: 5.86</text>
<text x="539.59 551.73 560.84 569.95 576.02 585.13 593.22 601.32 605.37 614.47 623.58 628.64 633.70 646.86 659.00 664.06 669.12 678.23 683.29 692.40" y="59.0" xml:space="preserve">Depression  OR: 5.44</text>
<text x="375.98 390.24 399.41 408.57 417.74 422.83 432.00 436.07 444.22 453.39 459.50 468.67 477.83 483.94 492.09 497.19 502.28 515.52 527.74 532.83 537.93 547.09 552.19 561.35" y="86.3" xml:space="preserve">Mood disorders  OR: 5.39</text>
<text x="416.57 427.86 437.10 445.31 450.45 455.58 461.74 470.98 480.22 494.59 503.83 508.97 513.07 521.29 526.42 534.63 539.77 545.93 555.17 563.38 571.59 576.73 585.97 590.07 598.29 607.53 613.69 622.93 632.17 638.33 643.46 648.59 661.94 674.26 679.39 684.52 693.76 703.00 708.14" y="119.6" xml:space="preserve">Posttraumatic stress disorder  OR: 13.7</text>
<text x="299.37 310.67 319.92 328.14 332.25 341.49 346.63 354.85 359.99 369.24 373.35 381.57 390.81 396.98 406.23 415.47 421.64 429.86 435.00 440.14 453.49 465.82 470.96 476.10 485.35 490.48 499.73" y="173.3" xml:space="preserve">Anxiety disorders  OR: 4.42</text>
<text x="384.27 395.40 404.52 412.61 416.66 425.78 430.84 438.94 444.00 453.11 457.16 465.26 474.37 480.45 489.56 498.67 504.75 509.81 514.87 528.03 540.18 545.24 550.31 559.42 564.48 573.59" y="199.5" xml:space="preserve">Anxiety disorder  OR: 4.44</text>
<text x="347.91 359.13 368.31 377.48 385.64 390.74 399.92 409.09 417.25 426.43 431.53 440.70 449.88 459.06 463.14 471.29 476.39 480.47 489.65 498.83 503.92 513.10 522.28 531.46 536.55 545.73 549.81 557.97 567.14 573.26 582.44 591.62 597.73 605.89 610.99 616.09 629.35 641.58 646.68 651.78 660.96 666.05 675.23" y="338.2" xml:space="preserve">Substance addiction and disorders  OR: 4.74</text>
<text x="88.91 100.18 108.38 117.60 121.70 129.90 139.12 148.34 157.56 163.71 172.93 182.15 186.25 195.47 200.60 209.82 219.04 228.26 233.39 242.61 247.73 256.95 266.18 272.32 277.45 286.67 294.87 303.06 311.26 320.48 329.71 334.83 338.93 347.13 352.25 361.47 365.57 373.77 382.99 389.14 398.36 407.58 413.73 421.93 427.05 432.17 445.49 457.79 462.91 468.04 477.26 482.38 491.60" y="372.0" xml:space="preserve">Schizophrenia and other psychotic disorders  OR: 5.89</text>
<text x="522.19 533.33 537.38 546.50 555.61 559.66 568.78 574.85 579.92 584.98 598.15 610.30 615.37 620.43 629.55 638.66 643.73 652.84" y="367.9" xml:space="preserve">Bipolar  OR: 12.56</text>
<text x="205.94 219.07 228.16 237.26 246.35 252.41 261.50 265.54 269.59 277.67 286.76 295.85 300.90 310.00 319.09 327.17 331.21 340.31 345.36 353.44 358.49 367.58 371.63 379.71 388.80 394.86 403.96 413.05 419.11 424.16 429.21 442.35 454.47 459.52 464.57 473.67 478.72 487.81" y="400.6" xml:space="preserve">Generalized anxiety disorder  OR: 5.24</text>
<text x="552.78 563.97 573.13 578.21 582.28 591.44 600.59 605.68 614.84 618.91 627.04 636.20 642.30 651.46 660.62 666.72 671.81 676.89 690.12 702.32 707.41 712.50 721.65 726.74 735.90" y="395.2" xml:space="preserve">Eating disorder  OR: 8.28</text>
<text x="363.02 374.70 383.20 391.69 400.19 409.75 419.30 427.80 432.05 440.54 445.85 451.16 464.97 477.71 483.02 488.33 497.89 503.20" y="427.8" xml:space="preserve">Psychosis  OR: 5.5</text>
<text x="539.91 550.05 559.18 568.31 577.44 585.55 593.66 602.79 607.86 616.99 625.10 634.23 639.30 648.43 652.49 660.60 669.73 675.81 684.94 694.07 700.15 705.22 710.29 723.48 735.65 740.72 745.79 754.92 759.99 769.11" y="426.3" xml:space="preserve">Tobacco use disorder  OR: 2.91</text>
<text x="194.08 207.28 216.41 224.53 233.66 241.78 249.90 253.96 262.08 271.21 277.30 285.42 294.56 308.77 317.90 327.03 331.09 339.21 343.27 351.39 360.52 365.60 374.73 378.79 386.91 396.05 402.14 411.27 420.40 426.49 434.61 439.69 444.76 457.95 470.13 475.21 480.28 489.42 494.49 503.62" y="453.7" xml:space="preserve">Obsessive-compulsive disorders  OR: 8.83</text>
<text x="535.99 549.03 554.05 563.07 572.10 578.12 583.13 597.17 606.20 615.23 620.24 629.27 633.28 638.30 647.32 651.34 659.36 668.39 674.41 683.43 692.46 698.48 703.49 708.51 721.55 733.58 738.60 743.61 752.64 757.65 766.68" y="470.6" xml:space="preserve">Other mental disorder  OR: 3.29</text>
<text x="285.97 297.14 306.28 310.35 319.49 327.62 332.70 346.92 356.06 365.21 370.28 375.36 381.46 390.60 399.75 407.87 412.95 417.02 426.16 435.30 440.38 445.46 458.67 470.86 475.94 481.02 490.16 495.24 504.38" y="497.9" xml:space="preserve">Adjustment reaction  OR: 3.95</text>
<text x="551.60 562.63 571.65 577.67 585.69 594.71 602.73 606.74 614.76 623.79 628.80 637.82 646.85 654.87 663.89 667.90 676.92 685.95 699.98 709.00 718.03 723.04 732.06 736.07 741.09 750.11 754.12 762.14 771.16 777.18 786.20 795.22 801.24 809.26 814.27 819.29 832.32 844.35 849.36 854.38 863.40 868.41 877.43" y="500.0" xml:space="preserve">Pervasive developmental disorders  OR: 3.77</text>
<text x="306.37 318.71 326.94 335.17 340.32 349.58 357.81 372.21 376.33 384.56 389.70 398.96 403.08 411.31 420.57 426.74 436.00 445.26 451.44 456.58 461.73 475.10 487.45 492.59 497.74 507.00 512.14 521.40" y="525.4" xml:space="preserve">Dysthymic disorder  OR: 5.78</text>
<text x="562.17 573.28 578.33 583.38 592.47 601.56 606.61 610.65 619.74 628.83 633.88 642.97 652.06 657.11 661.15 669.23 673.27 678.32 683.37 692.46 700.54 709.63 718.71 724.77 733.86 741.94 746.99 751.03 759.11 763.15 768.20 776.28 781.33 790.42 794.46 802.54 811.63 817.69 826.78 835.87 841.93 846.98 852.03 865.16 877.28 882.33 887.38 896.47 901.52 910.61" y="527.0" xml:space="preserve">Attention deficit hyperactivity disorder  OR: 3.84</text>
<text x="830.37 841.61 849.79 854.90 864.10 878.41 887.61 892.73 897.84 911.13 923.39 928.51 933.62 942.82 947.93 957.13" y="553.7" xml:space="preserve">Asthma  OR: 1.85</text>
<text x="1005.24 1018.27 1029.29 1041.32 1053.34 1058.35 1063.36 1076.39 1088.41 1093.42 1098.43 1107.45 1112.46 1121.48" y="555.8" xml:space="preserve">GERD  OR: 1.74</text>
<text x="1516.19 1528.32 1537.41 1546.51 1554.59 1563.69 1572.78 1577.84 1586.93 1596.03 1605.12 1610.18 1618.26 1627.36 1641.50 1645.55 1650.60 1654.64 1663.74 1672.83 1677.88 1682.94 1696.07 1708.20 1713.25 1718.31 1727.40 1732.46 1741.55" y="539.4" xml:space="preserve">Nausea and vomiting  OR: 1.88</text>
</g>
<text x="861.8" y="795.2" font-size="21" fill="#1e1e1e" stroke="#1e1e1e" stroke-width="0.3" textLength="106.2" lengthAdjust="spacingAndGlyphs">Phenotypes</text>
<g transform="translate(24,363.5) rotate(-90)" fill="#1e1e1e" stroke="#1e1e1e" stroke-width="0.3"><text x="0.6" y="0.8" font-size="20" textLength="11.2" lengthAdjust="spacingAndGlyphs">−</text><text x="15.3" y="0" font-size="20">log</text><text x="44.2" y="4" font-size="12.5">10</text><text x="57.5" y="1" font-size="23">(</text><text x="66.2" y="0" font-size="21" font-style="italic">p</text><text x="80.8" y="1" font-size="23">)</text></g>
</svg>
</body></html>
